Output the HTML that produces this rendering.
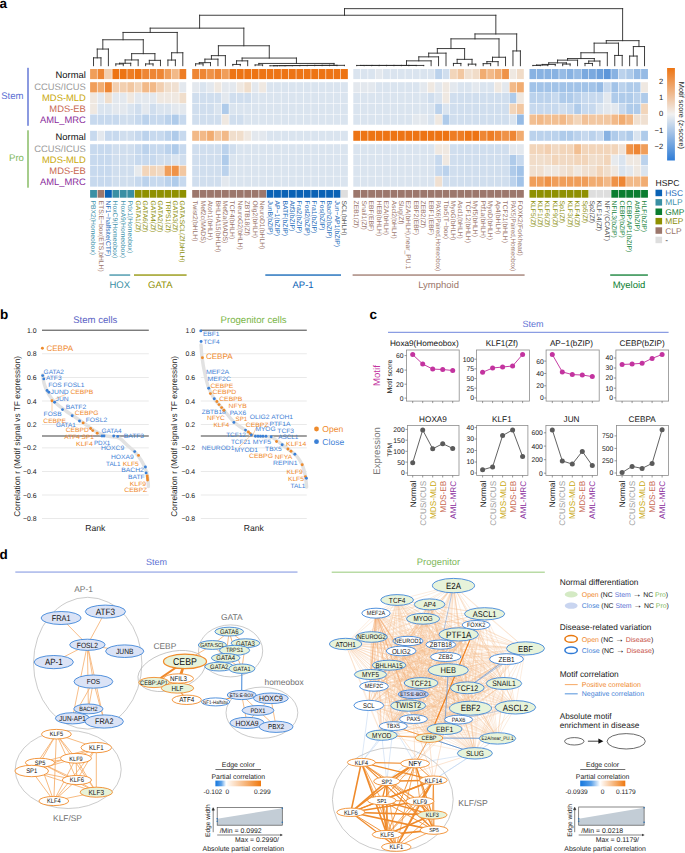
<!DOCTYPE html>
<html><head><meta charset="utf-8"><style>
html,body{margin:0;padding:0;background:#fff;}
svg{display:block;}
text{font-family:"Liberation Sans", sans-serif;text-rendering:geometricPrecision;}
</style></head><body>
<svg width="685" height="853" viewBox="0 0 685 853" font-family="Liberation Sans, sans-serif">
<rect width="685" height="853" fill="#fff"/>
<text x="-0.5" y="7.7" font-size="13.5" font-weight="bold">a</text>
<rect x="90.10" y="69.00" width="6.84" height="10.10" fill="#f09e5a"/>
<rect x="97.54" y="69.00" width="6.84" height="10.10" fill="#ee8634"/>
<rect x="104.98" y="69.00" width="6.84" height="10.10" fill="#f2cfb0"/>
<rect x="112.42" y="69.00" width="6.84" height="10.10" fill="#ed7414"/>
<rect x="119.86" y="69.00" width="6.84" height="10.10" fill="#ed7414"/>
<rect x="127.30" y="69.00" width="6.84" height="10.10" fill="#ee7d24"/>
<rect x="134.74" y="69.00" width="6.84" height="10.10" fill="#ed7414"/>
<rect x="142.18" y="69.00" width="6.84" height="10.10" fill="#ee8634"/>
<rect x="149.62" y="69.00" width="6.84" height="10.10" fill="#ee8634"/>
<rect x="157.06" y="69.00" width="6.84" height="10.10" fill="#ee8634"/>
<rect x="164.50" y="69.00" width="6.84" height="10.10" fill="#f09e5a"/>
<rect x="171.94" y="69.00" width="6.84" height="10.10" fill="#f2b988"/>
<rect x="179.38" y="69.00" width="6.84" height="10.10" fill="#ee7d24"/>
<rect x="90.10" y="82.20" width="6.84" height="10.26" fill="#f09e5a"/>
<rect x="97.54" y="82.20" width="6.84" height="10.26" fill="#f1ac71"/>
<rect x="104.98" y="82.20" width="6.84" height="10.26" fill="#ee8634"/>
<rect x="112.42" y="82.20" width="6.84" height="10.26" fill="#f2cfb0"/>
<rect x="119.86" y="82.20" width="6.84" height="10.26" fill="#f2cfb0"/>
<rect x="127.30" y="82.20" width="6.84" height="10.26" fill="#f2c7a1"/>
<rect x="134.74" y="82.20" width="6.84" height="10.26" fill="#f2d5ba"/>
<rect x="142.18" y="82.20" width="6.84" height="10.26" fill="#f2b988"/>
<rect x="149.62" y="82.20" width="6.84" height="10.26" fill="#f2b988"/>
<rect x="157.06" y="82.20" width="6.84" height="10.26" fill="#f2cfb0"/>
<rect x="164.50" y="82.20" width="6.84" height="10.26" fill="#f0decc"/>
<rect x="171.94" y="82.20" width="6.84" height="10.26" fill="#f0e0d1"/>
<rect x="179.38" y="82.20" width="6.84" height="10.26" fill="#e3e8ee"/>
<rect x="90.10" y="92.96" width="6.84" height="10.26" fill="#efe8e1"/>
<rect x="97.54" y="92.96" width="6.84" height="10.26" fill="#e3e8ee"/>
<rect x="104.98" y="92.96" width="6.84" height="10.26" fill="#f0decc"/>
<rect x="112.42" y="92.96" width="6.84" height="10.26" fill="#e3e8ee"/>
<rect x="119.86" y="92.96" width="6.84" height="10.26" fill="#e3e8ee"/>
<rect x="127.30" y="92.96" width="6.84" height="10.26" fill="#efe8e1"/>
<rect x="134.74" y="92.96" width="6.84" height="10.26" fill="#e3e8ee"/>
<rect x="142.18" y="92.96" width="6.84" height="10.26" fill="#e3e8ee"/>
<rect x="149.62" y="92.96" width="6.84" height="10.26" fill="#e3e8ee"/>
<rect x="157.06" y="92.96" width="6.84" height="10.26" fill="#efe8e1"/>
<rect x="164.50" y="92.96" width="6.84" height="10.26" fill="#efe8e1"/>
<rect x="171.94" y="92.96" width="6.84" height="10.26" fill="#efe8e1"/>
<rect x="179.38" y="92.96" width="6.84" height="10.26" fill="#f0decc"/>
<rect x="90.10" y="103.72" width="6.84" height="10.26" fill="#efe8e1"/>
<rect x="97.54" y="103.72" width="6.84" height="10.26" fill="#dae4ef"/>
<rect x="104.98" y="103.72" width="6.84" height="10.26" fill="#dae4ef"/>
<rect x="112.42" y="103.72" width="6.84" height="10.26" fill="#e3e8ee"/>
<rect x="119.86" y="103.72" width="6.84" height="10.26" fill="#e3e8ee"/>
<rect x="127.30" y="103.72" width="6.84" height="10.26" fill="#dae4ef"/>
<rect x="134.74" y="103.72" width="6.84" height="10.26" fill="#d0deee"/>
<rect x="142.18" y="103.72" width="6.84" height="10.26" fill="#e3e8ee"/>
<rect x="149.62" y="103.72" width="6.84" height="10.26" fill="#d0deee"/>
<rect x="157.06" y="103.72" width="6.84" height="10.26" fill="#dae4ef"/>
<rect x="164.50" y="103.72" width="6.84" height="10.26" fill="#dae4ef"/>
<rect x="171.94" y="103.72" width="6.84" height="10.26" fill="#e3e8ee"/>
<rect x="179.38" y="103.72" width="6.84" height="10.26" fill="#e3e8ee"/>
<rect x="90.10" y="114.48" width="6.84" height="10.26" fill="#c7d9ee"/>
<rect x="97.54" y="114.48" width="6.84" height="10.26" fill="#c7d9ee"/>
<rect x="104.98" y="114.48" width="6.84" height="10.26" fill="#c7d9ee"/>
<rect x="112.42" y="114.48" width="6.84" height="10.26" fill="#c7d9ee"/>
<rect x="119.86" y="114.48" width="6.84" height="10.26" fill="#d0deee"/>
<rect x="127.30" y="114.48" width="6.84" height="10.26" fill="#d0deee"/>
<rect x="134.74" y="114.48" width="6.84" height="10.26" fill="#c7d9ee"/>
<rect x="142.18" y="114.48" width="6.84" height="10.26" fill="#bbd2ec"/>
<rect x="149.62" y="114.48" width="6.84" height="10.26" fill="#c7d9ee"/>
<rect x="157.06" y="114.48" width="6.84" height="10.26" fill="#c7d9ee"/>
<rect x="164.50" y="114.48" width="6.84" height="10.26" fill="#bbd2ec"/>
<rect x="171.94" y="114.48" width="6.84" height="10.26" fill="#afcbea"/>
<rect x="179.38" y="114.48" width="6.84" height="10.26" fill="#c7d9ee"/>
<rect x="90.10" y="130.80" width="6.84" height="10.00" fill="#c7d9ee"/>
<rect x="97.54" y="130.80" width="6.84" height="10.00" fill="#e3e8ee"/>
<rect x="104.98" y="130.80" width="6.84" height="10.00" fill="#c7d9ee"/>
<rect x="112.42" y="130.80" width="6.84" height="10.00" fill="#c7d9ee"/>
<rect x="119.86" y="130.80" width="6.84" height="10.00" fill="#d0deee"/>
<rect x="127.30" y="130.80" width="6.84" height="10.00" fill="#d0deee"/>
<rect x="134.74" y="130.80" width="6.84" height="10.00" fill="#c7d9ee"/>
<rect x="142.18" y="130.80" width="6.84" height="10.00" fill="#bbd2ec"/>
<rect x="149.62" y="130.80" width="6.84" height="10.00" fill="#c7d9ee"/>
<rect x="157.06" y="130.80" width="6.84" height="10.00" fill="#c7d9ee"/>
<rect x="164.50" y="130.80" width="6.84" height="10.00" fill="#bbd2ec"/>
<rect x="171.94" y="130.80" width="6.84" height="10.00" fill="#afcbea"/>
<rect x="179.38" y="130.80" width="6.84" height="10.00" fill="#c7d9ee"/>
<rect x="90.10" y="144.20" width="6.84" height="10.24" fill="#c7d9ee"/>
<rect x="97.54" y="144.20" width="6.84" height="10.24" fill="#c7d9ee"/>
<rect x="104.98" y="144.20" width="6.84" height="10.24" fill="#c7d9ee"/>
<rect x="112.42" y="144.20" width="6.84" height="10.24" fill="#d0deee"/>
<rect x="119.86" y="144.20" width="6.84" height="10.24" fill="#d0deee"/>
<rect x="127.30" y="144.20" width="6.84" height="10.24" fill="#d0deee"/>
<rect x="134.74" y="144.20" width="6.84" height="10.24" fill="#c7d9ee"/>
<rect x="142.18" y="144.20" width="6.84" height="10.24" fill="#bbd2ec"/>
<rect x="149.62" y="144.20" width="6.84" height="10.24" fill="#c7d9ee"/>
<rect x="157.06" y="144.20" width="6.84" height="10.24" fill="#c7d9ee"/>
<rect x="164.50" y="144.20" width="6.84" height="10.24" fill="#bbd2ec"/>
<rect x="171.94" y="144.20" width="6.84" height="10.24" fill="#afcbea"/>
<rect x="179.38" y="144.20" width="6.84" height="10.24" fill="#c7d9ee"/>
<rect x="90.10" y="154.94" width="6.84" height="10.24" fill="#c7d9ee"/>
<rect x="97.54" y="154.94" width="6.84" height="10.24" fill="#c7d9ee"/>
<rect x="104.98" y="154.94" width="6.84" height="10.24" fill="#c7d9ee"/>
<rect x="112.42" y="154.94" width="6.84" height="10.24" fill="#d0deee"/>
<rect x="119.86" y="154.94" width="6.84" height="10.24" fill="#d0deee"/>
<rect x="127.30" y="154.94" width="6.84" height="10.24" fill="#d0deee"/>
<rect x="134.74" y="154.94" width="6.84" height="10.24" fill="#c7d9ee"/>
<rect x="142.18" y="154.94" width="6.84" height="10.24" fill="#c7d9ee"/>
<rect x="149.62" y="154.94" width="6.84" height="10.24" fill="#c7d9ee"/>
<rect x="157.06" y="154.94" width="6.84" height="10.24" fill="#d0deee"/>
<rect x="164.50" y="154.94" width="6.84" height="10.24" fill="#d0deee"/>
<rect x="171.94" y="154.94" width="6.84" height="10.24" fill="#dae4ef"/>
<rect x="179.38" y="154.94" width="6.84" height="10.24" fill="#d0deee"/>
<rect x="90.10" y="165.68" width="6.84" height="10.24" fill="#c7d9ee"/>
<rect x="97.54" y="165.68" width="6.84" height="10.24" fill="#c7d9ee"/>
<rect x="104.98" y="165.68" width="6.84" height="10.24" fill="#c7d9ee"/>
<rect x="112.42" y="165.68" width="6.84" height="10.24" fill="#d0deee"/>
<rect x="119.86" y="165.68" width="6.84" height="10.24" fill="#d0deee"/>
<rect x="127.30" y="165.68" width="6.84" height="10.24" fill="#d0deee"/>
<rect x="134.74" y="165.68" width="6.84" height="10.24" fill="#e7eaed"/>
<rect x="142.18" y="165.68" width="6.84" height="10.24" fill="#f2d5ba"/>
<rect x="149.62" y="165.68" width="6.84" height="10.24" fill="#f2d5ba"/>
<rect x="157.06" y="165.68" width="6.84" height="10.24" fill="#f1d9c3"/>
<rect x="164.50" y="165.68" width="6.84" height="10.24" fill="#f09e5a"/>
<rect x="171.94" y="165.68" width="6.84" height="10.24" fill="#ef9247"/>
<rect x="179.38" y="165.68" width="6.84" height="10.24" fill="#f2c7a1"/>
<rect x="90.10" y="176.42" width="6.84" height="10.24" fill="#c7d9ee"/>
<rect x="97.54" y="176.42" width="6.84" height="10.24" fill="#c7d9ee"/>
<rect x="104.98" y="176.42" width="6.84" height="10.24" fill="#c7d9ee"/>
<rect x="112.42" y="176.42" width="6.84" height="10.24" fill="#d0deee"/>
<rect x="119.86" y="176.42" width="6.84" height="10.24" fill="#d0deee"/>
<rect x="127.30" y="176.42" width="6.84" height="10.24" fill="#d0deee"/>
<rect x="134.74" y="176.42" width="6.84" height="10.24" fill="#c7d9ee"/>
<rect x="142.18" y="176.42" width="6.84" height="10.24" fill="#bbd2ec"/>
<rect x="149.62" y="176.42" width="6.84" height="10.24" fill="#c7d9ee"/>
<rect x="157.06" y="176.42" width="6.84" height="10.24" fill="#c7d9ee"/>
<rect x="164.50" y="176.42" width="6.84" height="10.24" fill="#bbd2ec"/>
<rect x="171.94" y="176.42" width="6.84" height="10.24" fill="#afcbea"/>
<rect x="179.38" y="176.42" width="6.84" height="10.24" fill="#c7d9ee"/>
<rect x="90.10" y="190" width="6.84" height="7.7" fill="#3a8fa4"/>
<text transform="translate(91.12,200.6) rotate(90)" font-size="6.75" fill="#3f93ab">PBX2(Homeobox)</text>
<rect x="97.54" y="190" width="6.84" height="7.7" fill="#9c776c"/>
<text transform="translate(98.56,200.6) rotate(90)" font-size="6.75" fill="#9a7469">ETS:E−box(ETS,bHLH)</text>
<rect x="104.98" y="190" width="6.84" height="7.7" fill="#0a62b5"/>
<text transform="translate(106.00,200.6) rotate(90)" font-size="6.75" fill="#1a68b8">NF1−halfsite(CTF)</text>
<rect x="112.42" y="190" width="6.84" height="7.7" fill="#3a8fa4"/>
<text transform="translate(113.44,200.6) rotate(90)" font-size="6.75" fill="#3f93ab">HoxC9(Homeobox)</text>
<rect x="119.86" y="190" width="6.84" height="7.7" fill="#3a8fa4"/>
<text transform="translate(120.88,200.6) rotate(90)" font-size="6.75" fill="#3f93ab">HoxA9(Homeobox)</text>
<rect x="127.30" y="190" width="6.84" height="7.7" fill="#3a8fa4"/>
<text transform="translate(128.32,200.6) rotate(90)" font-size="6.75" fill="#3f93ab">Pdx1(Homeobox)</text>
<rect x="134.74" y="190" width="6.84" height="7.7" fill="#8f9000"/>
<text transform="translate(135.76,200.6) rotate(90)" font-size="6.75" fill="#8c8e0a">GATA1(Zf)</text>
<rect x="142.18" y="190" width="6.84" height="7.7" fill="#8f9000"/>
<text transform="translate(143.20,200.6) rotate(90)" font-size="6.75" fill="#8c8e0a">GATA6(Zf)</text>
<rect x="149.62" y="190" width="6.84" height="7.7" fill="#8f9000"/>
<text transform="translate(150.64,200.6) rotate(90)" font-size="6.75" fill="#8c8e0a">GATA4(Zf)</text>
<rect x="157.06" y="190" width="6.84" height="7.7" fill="#8f9000"/>
<text transform="translate(158.08,200.6) rotate(90)" font-size="6.75" fill="#8c8e0a">GATA2(Zf)</text>
<rect x="164.50" y="190" width="6.84" height="7.7" fill="#8f9000"/>
<text transform="translate(165.52,200.6) rotate(90)" font-size="6.75" fill="#8c8e0a">TRPS1(Zf)</text>
<rect x="171.94" y="190" width="6.84" height="7.7" fill="#8f9000"/>
<text transform="translate(172.96,200.6) rotate(90)" font-size="6.75" fill="#8c8e0a">GATA3(Zf)</text>
<rect x="179.38" y="190" width="6.84" height="7.7" fill="#8f9000"/>
<text transform="translate(180.40,200.6) rotate(90)" font-size="6.75" fill="#8c8e0a">GATA:SCL(Zf,bHLH)</text>
<rect x="192.20" y="69.00" width="6.84" height="10.10" fill="#ee8634"/>
<rect x="199.64" y="69.00" width="6.84" height="10.10" fill="#ee8634"/>
<rect x="207.08" y="69.00" width="6.84" height="10.10" fill="#ef9247"/>
<rect x="214.52" y="69.00" width="6.84" height="10.10" fill="#ee8634"/>
<rect x="221.96" y="69.00" width="6.84" height="10.10" fill="#f09e5a"/>
<rect x="229.40" y="69.00" width="6.84" height="10.10" fill="#ed7414"/>
<rect x="236.84" y="69.00" width="6.84" height="10.10" fill="#ed7414"/>
<rect x="244.28" y="69.00" width="6.84" height="10.10" fill="#ed7414"/>
<rect x="251.72" y="69.00" width="6.84" height="10.10" fill="#ed7414"/>
<rect x="259.16" y="69.00" width="6.84" height="10.10" fill="#ed7414"/>
<rect x="266.60" y="69.00" width="6.84" height="10.10" fill="#ed7414"/>
<rect x="274.04" y="69.00" width="6.84" height="10.10" fill="#ed7414"/>
<rect x="281.48" y="69.00" width="6.84" height="10.10" fill="#ed7414"/>
<rect x="288.92" y="69.00" width="6.84" height="10.10" fill="#ed7414"/>
<rect x="296.36" y="69.00" width="6.84" height="10.10" fill="#ed7414"/>
<rect x="303.80" y="69.00" width="6.84" height="10.10" fill="#ed7414"/>
<rect x="311.24" y="69.00" width="6.84" height="10.10" fill="#ed7414"/>
<rect x="318.68" y="69.00" width="6.84" height="10.10" fill="#ed7414"/>
<rect x="326.12" y="69.00" width="6.84" height="10.10" fill="#ed7414"/>
<rect x="333.56" y="69.00" width="6.84" height="10.10" fill="#ed7414"/>
<rect x="341.00" y="69.00" width="6.84" height="10.10" fill="#ed7414"/>
<rect x="192.20" y="82.20" width="6.84" height="10.26" fill="#e3e8ee"/>
<rect x="199.64" y="82.20" width="6.84" height="10.26" fill="#dae4ef"/>
<rect x="207.08" y="82.20" width="6.84" height="10.26" fill="#e3e8ee"/>
<rect x="214.52" y="82.20" width="6.84" height="10.26" fill="#efe8e1"/>
<rect x="221.96" y="82.20" width="6.84" height="10.26" fill="#e3e8ee"/>
<rect x="229.40" y="82.20" width="6.84" height="10.26" fill="#e3e8ee"/>
<rect x="236.84" y="82.20" width="6.84" height="10.26" fill="#efe8e1"/>
<rect x="244.28" y="82.20" width="6.84" height="10.26" fill="#f0decc"/>
<rect x="251.72" y="82.20" width="6.84" height="10.26" fill="#e3e8ee"/>
<rect x="259.16" y="82.20" width="6.84" height="10.26" fill="#efe8e1"/>
<rect x="266.60" y="82.20" width="6.84" height="10.26" fill="#dae4ef"/>
<rect x="274.04" y="82.20" width="6.84" height="10.26" fill="#dae4ef"/>
<rect x="281.48" y="82.20" width="6.84" height="10.26" fill="#dae4ef"/>
<rect x="288.92" y="82.20" width="6.84" height="10.26" fill="#dae4ef"/>
<rect x="296.36" y="82.20" width="6.84" height="10.26" fill="#dae4ef"/>
<rect x="303.80" y="82.20" width="6.84" height="10.26" fill="#dae4ef"/>
<rect x="311.24" y="82.20" width="6.84" height="10.26" fill="#dae4ef"/>
<rect x="318.68" y="82.20" width="6.84" height="10.26" fill="#dae4ef"/>
<rect x="326.12" y="82.20" width="6.84" height="10.26" fill="#dae4ef"/>
<rect x="333.56" y="82.20" width="6.84" height="10.26" fill="#dae4ef"/>
<rect x="341.00" y="82.20" width="6.84" height="10.26" fill="#dae4ef"/>
<rect x="192.20" y="92.96" width="6.84" height="10.26" fill="#d0deee"/>
<rect x="199.64" y="92.96" width="6.84" height="10.26" fill="#d0deee"/>
<rect x="207.08" y="92.96" width="6.84" height="10.26" fill="#d0deee"/>
<rect x="214.52" y="92.96" width="6.84" height="10.26" fill="#d0deee"/>
<rect x="221.96" y="92.96" width="6.84" height="10.26" fill="#e3e8ee"/>
<rect x="229.40" y="92.96" width="6.84" height="10.26" fill="#d0deee"/>
<rect x="236.84" y="92.96" width="6.84" height="10.26" fill="#d0deee"/>
<rect x="244.28" y="92.96" width="6.84" height="10.26" fill="#d0deee"/>
<rect x="251.72" y="92.96" width="6.84" height="10.26" fill="#dae4ef"/>
<rect x="259.16" y="92.96" width="6.84" height="10.26" fill="#dae4ef"/>
<rect x="266.60" y="92.96" width="6.84" height="10.26" fill="#dae4ef"/>
<rect x="274.04" y="92.96" width="6.84" height="10.26" fill="#dae4ef"/>
<rect x="281.48" y="92.96" width="6.84" height="10.26" fill="#dae4ef"/>
<rect x="288.92" y="92.96" width="6.84" height="10.26" fill="#dae4ef"/>
<rect x="296.36" y="92.96" width="6.84" height="10.26" fill="#dae4ef"/>
<rect x="303.80" y="92.96" width="6.84" height="10.26" fill="#dae4ef"/>
<rect x="311.24" y="92.96" width="6.84" height="10.26" fill="#dae4ef"/>
<rect x="318.68" y="92.96" width="6.84" height="10.26" fill="#dae4ef"/>
<rect x="326.12" y="92.96" width="6.84" height="10.26" fill="#dae4ef"/>
<rect x="333.56" y="92.96" width="6.84" height="10.26" fill="#dae4ef"/>
<rect x="341.00" y="92.96" width="6.84" height="10.26" fill="#dae4ef"/>
<rect x="192.20" y="103.72" width="6.84" height="10.26" fill="#d0deee"/>
<rect x="199.64" y="103.72" width="6.84" height="10.26" fill="#d0deee"/>
<rect x="207.08" y="103.72" width="6.84" height="10.26" fill="#d0deee"/>
<rect x="214.52" y="103.72" width="6.84" height="10.26" fill="#dae4ef"/>
<rect x="221.96" y="103.72" width="6.84" height="10.26" fill="#afcbea"/>
<rect x="229.40" y="103.72" width="6.84" height="10.26" fill="#dae4ef"/>
<rect x="236.84" y="103.72" width="6.84" height="10.26" fill="#dae4ef"/>
<rect x="244.28" y="103.72" width="6.84" height="10.26" fill="#dae4ef"/>
<rect x="251.72" y="103.72" width="6.84" height="10.26" fill="#dae4ef"/>
<rect x="259.16" y="103.72" width="6.84" height="10.26" fill="#dae4ef"/>
<rect x="266.60" y="103.72" width="6.84" height="10.26" fill="#dae4ef"/>
<rect x="274.04" y="103.72" width="6.84" height="10.26" fill="#dae4ef"/>
<rect x="281.48" y="103.72" width="6.84" height="10.26" fill="#dae4ef"/>
<rect x="288.92" y="103.72" width="6.84" height="10.26" fill="#dae4ef"/>
<rect x="296.36" y="103.72" width="6.84" height="10.26" fill="#dae4ef"/>
<rect x="303.80" y="103.72" width="6.84" height="10.26" fill="#dae4ef"/>
<rect x="311.24" y="103.72" width="6.84" height="10.26" fill="#dae4ef"/>
<rect x="318.68" y="103.72" width="6.84" height="10.26" fill="#dae4ef"/>
<rect x="326.12" y="103.72" width="6.84" height="10.26" fill="#dae4ef"/>
<rect x="333.56" y="103.72" width="6.84" height="10.26" fill="#dae4ef"/>
<rect x="341.00" y="103.72" width="6.84" height="10.26" fill="#dae4ef"/>
<rect x="192.20" y="114.48" width="6.84" height="10.26" fill="#d0deee"/>
<rect x="199.64" y="114.48" width="6.84" height="10.26" fill="#d0deee"/>
<rect x="207.08" y="114.48" width="6.84" height="10.26" fill="#d0deee"/>
<rect x="214.52" y="114.48" width="6.84" height="10.26" fill="#d0deee"/>
<rect x="221.96" y="114.48" width="6.84" height="10.26" fill="#efe8e1"/>
<rect x="229.40" y="114.48" width="6.84" height="10.26" fill="#d0deee"/>
<rect x="236.84" y="114.48" width="6.84" height="10.26" fill="#d0deee"/>
<rect x="244.28" y="114.48" width="6.84" height="10.26" fill="#dae4ef"/>
<rect x="251.72" y="114.48" width="6.84" height="10.26" fill="#dae4ef"/>
<rect x="259.16" y="114.48" width="6.84" height="10.26" fill="#dae4ef"/>
<rect x="266.60" y="114.48" width="6.84" height="10.26" fill="#dae4ef"/>
<rect x="274.04" y="114.48" width="6.84" height="10.26" fill="#dae4ef"/>
<rect x="281.48" y="114.48" width="6.84" height="10.26" fill="#dae4ef"/>
<rect x="288.92" y="114.48" width="6.84" height="10.26" fill="#dae4ef"/>
<rect x="296.36" y="114.48" width="6.84" height="10.26" fill="#dae4ef"/>
<rect x="303.80" y="114.48" width="6.84" height="10.26" fill="#dae4ef"/>
<rect x="311.24" y="114.48" width="6.84" height="10.26" fill="#dae4ef"/>
<rect x="318.68" y="114.48" width="6.84" height="10.26" fill="#dae4ef"/>
<rect x="326.12" y="114.48" width="6.84" height="10.26" fill="#dae4ef"/>
<rect x="333.56" y="114.48" width="6.84" height="10.26" fill="#dae4ef"/>
<rect x="341.00" y="114.48" width="6.84" height="10.26" fill="#dae4ef"/>
<rect x="192.20" y="130.80" width="6.84" height="10.00" fill="#f2b988"/>
<rect x="199.64" y="130.80" width="6.84" height="10.00" fill="#f2b988"/>
<rect x="207.08" y="130.80" width="6.84" height="10.00" fill="#f1ac71"/>
<rect x="214.52" y="130.80" width="6.84" height="10.00" fill="#f2c7a1"/>
<rect x="221.96" y="130.80" width="6.84" height="10.00" fill="#f2b988"/>
<rect x="229.40" y="130.80" width="6.84" height="10.00" fill="#f0decc"/>
<rect x="236.84" y="130.80" width="6.84" height="10.00" fill="#f0decc"/>
<rect x="244.28" y="130.80" width="6.84" height="10.00" fill="#efe8e1"/>
<rect x="251.72" y="130.80" width="6.84" height="10.00" fill="#e3e8ee"/>
<rect x="259.16" y="130.80" width="6.84" height="10.00" fill="#e3e8ee"/>
<rect x="266.60" y="130.80" width="6.84" height="10.00" fill="#dae4ef"/>
<rect x="274.04" y="130.80" width="6.84" height="10.00" fill="#dae4ef"/>
<rect x="281.48" y="130.80" width="6.84" height="10.00" fill="#dae4ef"/>
<rect x="288.92" y="130.80" width="6.84" height="10.00" fill="#dae4ef"/>
<rect x="296.36" y="130.80" width="6.84" height="10.00" fill="#dae4ef"/>
<rect x="303.80" y="130.80" width="6.84" height="10.00" fill="#dae4ef"/>
<rect x="311.24" y="130.80" width="6.84" height="10.00" fill="#dae4ef"/>
<rect x="318.68" y="130.80" width="6.84" height="10.00" fill="#dae4ef"/>
<rect x="326.12" y="130.80" width="6.84" height="10.00" fill="#dae4ef"/>
<rect x="333.56" y="130.80" width="6.84" height="10.00" fill="#dae4ef"/>
<rect x="341.00" y="130.80" width="6.84" height="10.00" fill="#dae4ef"/>
<rect x="192.20" y="144.20" width="6.84" height="10.24" fill="#d0deee"/>
<rect x="199.64" y="144.20" width="6.84" height="10.24" fill="#d0deee"/>
<rect x="207.08" y="144.20" width="6.84" height="10.24" fill="#d0deee"/>
<rect x="214.52" y="144.20" width="6.84" height="10.24" fill="#d0deee"/>
<rect x="221.96" y="144.20" width="6.84" height="10.24" fill="#bbd2ec"/>
<rect x="229.40" y="144.20" width="6.84" height="10.24" fill="#d0deee"/>
<rect x="236.84" y="144.20" width="6.84" height="10.24" fill="#dae4ef"/>
<rect x="244.28" y="144.20" width="6.84" height="10.24" fill="#dae4ef"/>
<rect x="251.72" y="144.20" width="6.84" height="10.24" fill="#dae4ef"/>
<rect x="259.16" y="144.20" width="6.84" height="10.24" fill="#dae4ef"/>
<rect x="266.60" y="144.20" width="6.84" height="10.24" fill="#dae4ef"/>
<rect x="274.04" y="144.20" width="6.84" height="10.24" fill="#dae4ef"/>
<rect x="281.48" y="144.20" width="6.84" height="10.24" fill="#dae4ef"/>
<rect x="288.92" y="144.20" width="6.84" height="10.24" fill="#dae4ef"/>
<rect x="296.36" y="144.20" width="6.84" height="10.24" fill="#dae4ef"/>
<rect x="303.80" y="144.20" width="6.84" height="10.24" fill="#dae4ef"/>
<rect x="311.24" y="144.20" width="6.84" height="10.24" fill="#dae4ef"/>
<rect x="318.68" y="144.20" width="6.84" height="10.24" fill="#dae4ef"/>
<rect x="326.12" y="144.20" width="6.84" height="10.24" fill="#dae4ef"/>
<rect x="333.56" y="144.20" width="6.84" height="10.24" fill="#dae4ef"/>
<rect x="341.00" y="144.20" width="6.84" height="10.24" fill="#dae4ef"/>
<rect x="192.20" y="154.94" width="6.84" height="10.24" fill="#d0deee"/>
<rect x="199.64" y="154.94" width="6.84" height="10.24" fill="#d0deee"/>
<rect x="207.08" y="154.94" width="6.84" height="10.24" fill="#d0deee"/>
<rect x="214.52" y="154.94" width="6.84" height="10.24" fill="#d0deee"/>
<rect x="221.96" y="154.94" width="6.84" height="10.24" fill="#afcbea"/>
<rect x="229.40" y="154.94" width="6.84" height="10.24" fill="#dae4ef"/>
<rect x="236.84" y="154.94" width="6.84" height="10.24" fill="#dae4ef"/>
<rect x="244.28" y="154.94" width="6.84" height="10.24" fill="#dae4ef"/>
<rect x="251.72" y="154.94" width="6.84" height="10.24" fill="#dae4ef"/>
<rect x="259.16" y="154.94" width="6.84" height="10.24" fill="#dae4ef"/>
<rect x="266.60" y="154.94" width="6.84" height="10.24" fill="#dae4ef"/>
<rect x="274.04" y="154.94" width="6.84" height="10.24" fill="#dae4ef"/>
<rect x="281.48" y="154.94" width="6.84" height="10.24" fill="#dae4ef"/>
<rect x="288.92" y="154.94" width="6.84" height="10.24" fill="#dae4ef"/>
<rect x="296.36" y="154.94" width="6.84" height="10.24" fill="#dae4ef"/>
<rect x="303.80" y="154.94" width="6.84" height="10.24" fill="#dae4ef"/>
<rect x="311.24" y="154.94" width="6.84" height="10.24" fill="#dae4ef"/>
<rect x="318.68" y="154.94" width="6.84" height="10.24" fill="#dae4ef"/>
<rect x="326.12" y="154.94" width="6.84" height="10.24" fill="#dae4ef"/>
<rect x="333.56" y="154.94" width="6.84" height="10.24" fill="#dae4ef"/>
<rect x="341.00" y="154.94" width="6.84" height="10.24" fill="#dae4ef"/>
<rect x="192.20" y="165.68" width="6.84" height="10.24" fill="#d0deee"/>
<rect x="199.64" y="165.68" width="6.84" height="10.24" fill="#d0deee"/>
<rect x="207.08" y="165.68" width="6.84" height="10.24" fill="#d0deee"/>
<rect x="214.52" y="165.68" width="6.84" height="10.24" fill="#d0deee"/>
<rect x="221.96" y="165.68" width="6.84" height="10.24" fill="#bbd2ec"/>
<rect x="229.40" y="165.68" width="6.84" height="10.24" fill="#dae4ef"/>
<rect x="236.84" y="165.68" width="6.84" height="10.24" fill="#dae4ef"/>
<rect x="244.28" y="165.68" width="6.84" height="10.24" fill="#dae4ef"/>
<rect x="251.72" y="165.68" width="6.84" height="10.24" fill="#dae4ef"/>
<rect x="259.16" y="165.68" width="6.84" height="10.24" fill="#dae4ef"/>
<rect x="266.60" y="165.68" width="6.84" height="10.24" fill="#dae4ef"/>
<rect x="274.04" y="165.68" width="6.84" height="10.24" fill="#dae4ef"/>
<rect x="281.48" y="165.68" width="6.84" height="10.24" fill="#dae4ef"/>
<rect x="288.92" y="165.68" width="6.84" height="10.24" fill="#dae4ef"/>
<rect x="296.36" y="165.68" width="6.84" height="10.24" fill="#dae4ef"/>
<rect x="303.80" y="165.68" width="6.84" height="10.24" fill="#dae4ef"/>
<rect x="311.24" y="165.68" width="6.84" height="10.24" fill="#dae4ef"/>
<rect x="318.68" y="165.68" width="6.84" height="10.24" fill="#dae4ef"/>
<rect x="326.12" y="165.68" width="6.84" height="10.24" fill="#dae4ef"/>
<rect x="333.56" y="165.68" width="6.84" height="10.24" fill="#dae4ef"/>
<rect x="341.00" y="165.68" width="6.84" height="10.24" fill="#dae4ef"/>
<rect x="192.20" y="176.42" width="6.84" height="10.24" fill="#d0deee"/>
<rect x="199.64" y="176.42" width="6.84" height="10.24" fill="#d0deee"/>
<rect x="207.08" y="176.42" width="6.84" height="10.24" fill="#d0deee"/>
<rect x="214.52" y="176.42" width="6.84" height="10.24" fill="#d0deee"/>
<rect x="221.96" y="176.42" width="6.84" height="10.24" fill="#e3e8ee"/>
<rect x="229.40" y="176.42" width="6.84" height="10.24" fill="#dae4ef"/>
<rect x="236.84" y="176.42" width="6.84" height="10.24" fill="#dae4ef"/>
<rect x="244.28" y="176.42" width="6.84" height="10.24" fill="#dae4ef"/>
<rect x="251.72" y="176.42" width="6.84" height="10.24" fill="#dae4ef"/>
<rect x="259.16" y="176.42" width="6.84" height="10.24" fill="#dae4ef"/>
<rect x="266.60" y="176.42" width="6.84" height="10.24" fill="#dae4ef"/>
<rect x="274.04" y="176.42" width="6.84" height="10.24" fill="#dae4ef"/>
<rect x="281.48" y="176.42" width="6.84" height="10.24" fill="#dae4ef"/>
<rect x="288.92" y="176.42" width="6.84" height="10.24" fill="#dae4ef"/>
<rect x="296.36" y="176.42" width="6.84" height="10.24" fill="#dae4ef"/>
<rect x="303.80" y="176.42" width="6.84" height="10.24" fill="#dae4ef"/>
<rect x="311.24" y="176.42" width="6.84" height="10.24" fill="#dae4ef"/>
<rect x="318.68" y="176.42" width="6.84" height="10.24" fill="#dae4ef"/>
<rect x="326.12" y="176.42" width="6.84" height="10.24" fill="#dae4ef"/>
<rect x="333.56" y="176.42" width="6.84" height="10.24" fill="#dae4ef"/>
<rect x="341.00" y="176.42" width="6.84" height="10.24" fill="#dae4ef"/>
<rect x="192.20" y="190" width="6.84" height="7.7" fill="#9c776c"/>
<text transform="translate(193.22,200.6) rotate(90)" font-size="6.75" fill="#9a7469">Twist2(bHLH)</text>
<rect x="199.64" y="190" width="6.84" height="7.7" fill="#9c776c"/>
<text transform="translate(200.66,200.6) rotate(90)" font-size="6.75" fill="#9a7469">Mef2c(MADS)</text>
<rect x="207.08" y="190" width="6.84" height="7.7" fill="#9c776c"/>
<text transform="translate(208.10,200.6) rotate(90)" font-size="6.75" fill="#9a7469">Atoh1(bHLH)</text>
<rect x="214.52" y="190" width="6.84" height="7.7" fill="#9c776c"/>
<text transform="translate(215.54,200.6) rotate(90)" font-size="6.75" fill="#9a7469">BHLHA15(bHLH)</text>
<rect x="221.96" y="190" width="6.84" height="7.7" fill="#9c776c"/>
<text transform="translate(222.98,200.6) rotate(90)" font-size="6.75" fill="#9a7469">Mef2a(MADS)</text>
<rect x="229.40" y="190" width="6.84" height="7.7" fill="#9c776c"/>
<text transform="translate(230.42,200.6) rotate(90)" font-size="6.75" fill="#9a7469">TCF4(bHLH)</text>
<rect x="236.84" y="190" width="6.84" height="7.7" fill="#9c776c"/>
<text transform="translate(237.86,200.6) rotate(90)" font-size="6.75" fill="#9a7469">NeuroG2(bHLH)</text>
<rect x="244.28" y="190" width="6.84" height="7.7" fill="#9c776c"/>
<text transform="translate(245.30,200.6) rotate(90)" font-size="6.75" fill="#9a7469">ZBTB18(Zf)</text>
<rect x="251.72" y="190" width="6.84" height="7.7" fill="#9c776c"/>
<text transform="translate(252.74,200.6) rotate(90)" font-size="6.75" fill="#9a7469">Olig2(bHLH)</text>
<rect x="259.16" y="190" width="6.84" height="7.7" fill="#9c776c"/>
<text transform="translate(260.18,200.6) rotate(90)" font-size="6.75" fill="#9a7469">NeuroD1(bHLH)</text>
<rect x="266.60" y="190" width="6.84" height="7.7" fill="#0a62b5"/>
<text transform="translate(267.62,200.6) rotate(90)" font-size="6.75" fill="#1a68b8">JunB(bZIP)</text>
<rect x="274.04" y="190" width="6.84" height="7.7" fill="#0a62b5"/>
<text transform="translate(275.06,200.6) rotate(90)" font-size="6.75" fill="#1a68b8">AP−1(bZIP)</text>
<rect x="281.48" y="190" width="6.84" height="7.7" fill="#0a62b5"/>
<text transform="translate(282.50,200.6) rotate(90)" font-size="6.75" fill="#1a68b8">BATF(bZIP)</text>
<rect x="288.92" y="190" width="6.84" height="7.7" fill="#0a62b5"/>
<text transform="translate(289.94,200.6) rotate(90)" font-size="6.75" fill="#1a68b8">Atf3(bZIP)</text>
<rect x="296.36" y="190" width="6.84" height="7.7" fill="#0a62b5"/>
<text transform="translate(297.38,200.6) rotate(90)" font-size="6.75" fill="#1a68b8">Fra2(bZIP)</text>
<rect x="303.80" y="190" width="6.84" height="7.7" fill="#0a62b5"/>
<text transform="translate(304.82,200.6) rotate(90)" font-size="6.75" fill="#1a68b8">Fosl2(bZIP)</text>
<rect x="311.24" y="190" width="6.84" height="7.7" fill="#0a62b5"/>
<text transform="translate(312.26,200.6) rotate(90)" font-size="6.75" fill="#1a68b8">Fra1(bZIP)</text>
<rect x="318.68" y="190" width="6.84" height="7.7" fill="#0a62b5"/>
<text transform="translate(319.70,200.6) rotate(90)" font-size="6.75" fill="#1a68b8">Fos(bZIP)</text>
<rect x="326.12" y="190" width="6.84" height="7.7" fill="#0a62b5"/>
<text transform="translate(327.14,200.6) rotate(90)" font-size="6.75" fill="#1a68b8">Bach2(bZIP)</text>
<rect x="333.56" y="190" width="6.84" height="7.7" fill="#0a62b5"/>
<text transform="translate(334.58,200.6) rotate(90)" font-size="6.75" fill="#1a68b8">Jun−AP1(bZIP)</text>
<rect x="341.00" y="190" width="6.84" height="7.7" fill="#dedede"/>
<text transform="translate(342.02,200.6) rotate(90)" font-size="6.75" fill="#555555">SCL(bHLH)</text>
<rect x="353.30" y="69.00" width="6.84" height="10.10" fill="#dae4ef"/>
<rect x="360.74" y="69.00" width="6.84" height="10.10" fill="#dae4ef"/>
<rect x="368.18" y="69.00" width="6.84" height="10.10" fill="#dae4ef"/>
<rect x="375.62" y="69.00" width="6.84" height="10.10" fill="#e3e8ee"/>
<rect x="383.06" y="69.00" width="6.84" height="10.10" fill="#dae4ef"/>
<rect x="390.50" y="69.00" width="6.84" height="10.10" fill="#dae4ef"/>
<rect x="397.94" y="69.00" width="6.84" height="10.10" fill="#dae4ef"/>
<rect x="405.38" y="69.00" width="6.84" height="10.10" fill="#dae4ef"/>
<rect x="412.82" y="69.00" width="6.84" height="10.10" fill="#dae4ef"/>
<rect x="420.26" y="69.00" width="6.84" height="10.10" fill="#dae4ef"/>
<rect x="427.70" y="69.00" width="6.84" height="10.10" fill="#dae4ef"/>
<rect x="435.14" y="69.00" width="6.84" height="10.10" fill="#bbd2ec"/>
<rect x="442.58" y="69.00" width="6.84" height="10.10" fill="#d0deee"/>
<rect x="450.02" y="69.00" width="6.84" height="10.10" fill="#f2d5ba"/>
<rect x="457.46" y="69.00" width="6.84" height="10.10" fill="#f2c7a1"/>
<rect x="464.90" y="69.00" width="6.84" height="10.10" fill="#f0e0d1"/>
<rect x="472.34" y="69.00" width="6.84" height="10.10" fill="#f1dcc8"/>
<rect x="479.78" y="69.00" width="6.84" height="10.10" fill="#f1ac71"/>
<rect x="487.22" y="69.00" width="6.84" height="10.10" fill="#f2b988"/>
<rect x="494.66" y="69.00" width="6.84" height="10.10" fill="#f1ac71"/>
<rect x="502.10" y="69.00" width="6.84" height="10.10" fill="#ef9247"/>
<rect x="509.54" y="69.00" width="6.84" height="10.10" fill="#efe8e1"/>
<rect x="516.98" y="69.00" width="6.84" height="10.10" fill="#f1dcc8"/>
<rect x="353.30" y="82.20" width="6.84" height="10.26" fill="#e3e8ee"/>
<rect x="360.74" y="82.20" width="6.84" height="10.26" fill="#e3e8ee"/>
<rect x="368.18" y="82.20" width="6.84" height="10.26" fill="#e3e8ee"/>
<rect x="375.62" y="82.20" width="6.84" height="10.26" fill="#dae4ef"/>
<rect x="383.06" y="82.20" width="6.84" height="10.26" fill="#dae4ef"/>
<rect x="390.50" y="82.20" width="6.84" height="10.26" fill="#dae4ef"/>
<rect x="397.94" y="82.20" width="6.84" height="10.26" fill="#dae4ef"/>
<rect x="405.38" y="82.20" width="6.84" height="10.26" fill="#dae4ef"/>
<rect x="412.82" y="82.20" width="6.84" height="10.26" fill="#dae4ef"/>
<rect x="420.26" y="82.20" width="6.84" height="10.26" fill="#e3e8ee"/>
<rect x="427.70" y="82.20" width="6.84" height="10.26" fill="#efe8e1"/>
<rect x="435.14" y="82.20" width="6.84" height="10.26" fill="#e3e8ee"/>
<rect x="442.58" y="82.20" width="6.84" height="10.26" fill="#efe8e1"/>
<rect x="450.02" y="82.20" width="6.84" height="10.26" fill="#e3e8ee"/>
<rect x="457.46" y="82.20" width="6.84" height="10.26" fill="#dae4ef"/>
<rect x="464.90" y="82.20" width="6.84" height="10.26" fill="#dae4ef"/>
<rect x="472.34" y="82.20" width="6.84" height="10.26" fill="#e3e8ee"/>
<rect x="479.78" y="82.20" width="6.84" height="10.26" fill="#dae4ef"/>
<rect x="487.22" y="82.20" width="6.84" height="10.26" fill="#dae4ef"/>
<rect x="494.66" y="82.20" width="6.84" height="10.26" fill="#efe8e1"/>
<rect x="502.10" y="82.20" width="6.84" height="10.26" fill="#e3e8ee"/>
<rect x="509.54" y="82.20" width="6.84" height="10.26" fill="#f2b988"/>
<rect x="516.98" y="82.20" width="6.84" height="10.26" fill="#f1ac71"/>
<rect x="353.30" y="92.96" width="6.84" height="10.26" fill="#dae4ef"/>
<rect x="360.74" y="92.96" width="6.84" height="10.26" fill="#dae4ef"/>
<rect x="368.18" y="92.96" width="6.84" height="10.26" fill="#dae4ef"/>
<rect x="375.62" y="92.96" width="6.84" height="10.26" fill="#dae4ef"/>
<rect x="383.06" y="92.96" width="6.84" height="10.26" fill="#dae4ef"/>
<rect x="390.50" y="92.96" width="6.84" height="10.26" fill="#dae4ef"/>
<rect x="397.94" y="92.96" width="6.84" height="10.26" fill="#dae4ef"/>
<rect x="405.38" y="92.96" width="6.84" height="10.26" fill="#dae4ef"/>
<rect x="412.82" y="92.96" width="6.84" height="10.26" fill="#dae4ef"/>
<rect x="420.26" y="92.96" width="6.84" height="10.26" fill="#dae4ef"/>
<rect x="427.70" y="92.96" width="6.84" height="10.26" fill="#d0deee"/>
<rect x="435.14" y="92.96" width="6.84" height="10.26" fill="#dae4ef"/>
<rect x="442.58" y="92.96" width="6.84" height="10.26" fill="#efe8e1"/>
<rect x="450.02" y="92.96" width="6.84" height="10.26" fill="#d0deee"/>
<rect x="457.46" y="92.96" width="6.84" height="10.26" fill="#d0deee"/>
<rect x="464.90" y="92.96" width="6.84" height="10.26" fill="#d0deee"/>
<rect x="472.34" y="92.96" width="6.84" height="10.26" fill="#d0deee"/>
<rect x="479.78" y="92.96" width="6.84" height="10.26" fill="#d0deee"/>
<rect x="487.22" y="92.96" width="6.84" height="10.26" fill="#d0deee"/>
<rect x="494.66" y="92.96" width="6.84" height="10.26" fill="#d0deee"/>
<rect x="502.10" y="92.96" width="6.84" height="10.26" fill="#d0deee"/>
<rect x="509.54" y="92.96" width="6.84" height="10.26" fill="#afcbea"/>
<rect x="516.98" y="92.96" width="6.84" height="10.26" fill="#efe8e1"/>
<rect x="353.30" y="103.72" width="6.84" height="10.26" fill="#dae4ef"/>
<rect x="360.74" y="103.72" width="6.84" height="10.26" fill="#dae4ef"/>
<rect x="368.18" y="103.72" width="6.84" height="10.26" fill="#dae4ef"/>
<rect x="375.62" y="103.72" width="6.84" height="10.26" fill="#dae4ef"/>
<rect x="383.06" y="103.72" width="6.84" height="10.26" fill="#dae4ef"/>
<rect x="390.50" y="103.72" width="6.84" height="10.26" fill="#dae4ef"/>
<rect x="397.94" y="103.72" width="6.84" height="10.26" fill="#dae4ef"/>
<rect x="405.38" y="103.72" width="6.84" height="10.26" fill="#dae4ef"/>
<rect x="412.82" y="103.72" width="6.84" height="10.26" fill="#dae4ef"/>
<rect x="420.26" y="103.72" width="6.84" height="10.26" fill="#dae4ef"/>
<rect x="427.70" y="103.72" width="6.84" height="10.26" fill="#dae4ef"/>
<rect x="435.14" y="103.72" width="6.84" height="10.26" fill="#bbd2ec"/>
<rect x="442.58" y="103.72" width="6.84" height="10.26" fill="#dae4ef"/>
<rect x="450.02" y="103.72" width="6.84" height="10.26" fill="#d0deee"/>
<rect x="457.46" y="103.72" width="6.84" height="10.26" fill="#d0deee"/>
<rect x="464.90" y="103.72" width="6.84" height="10.26" fill="#d0deee"/>
<rect x="472.34" y="103.72" width="6.84" height="10.26" fill="#d0deee"/>
<rect x="479.78" y="103.72" width="6.84" height="10.26" fill="#d0deee"/>
<rect x="487.22" y="103.72" width="6.84" height="10.26" fill="#d0deee"/>
<rect x="494.66" y="103.72" width="6.84" height="10.26" fill="#d0deee"/>
<rect x="502.10" y="103.72" width="6.84" height="10.26" fill="#d0deee"/>
<rect x="509.54" y="103.72" width="6.84" height="10.26" fill="#f2d5ba"/>
<rect x="516.98" y="103.72" width="6.84" height="10.26" fill="#f2c7a1"/>
<rect x="353.30" y="114.48" width="6.84" height="10.26" fill="#dae4ef"/>
<rect x="360.74" y="114.48" width="6.84" height="10.26" fill="#dae4ef"/>
<rect x="368.18" y="114.48" width="6.84" height="10.26" fill="#dae4ef"/>
<rect x="375.62" y="114.48" width="6.84" height="10.26" fill="#dae4ef"/>
<rect x="383.06" y="114.48" width="6.84" height="10.26" fill="#dae4ef"/>
<rect x="390.50" y="114.48" width="6.84" height="10.26" fill="#dae4ef"/>
<rect x="397.94" y="114.48" width="6.84" height="10.26" fill="#dae4ef"/>
<rect x="405.38" y="114.48" width="6.84" height="10.26" fill="#dae4ef"/>
<rect x="412.82" y="114.48" width="6.84" height="10.26" fill="#e3e8ee"/>
<rect x="420.26" y="114.48" width="6.84" height="10.26" fill="#e3e8ee"/>
<rect x="427.70" y="114.48" width="6.84" height="10.26" fill="#dae4ef"/>
<rect x="435.14" y="114.48" width="6.84" height="10.26" fill="#efe8e1"/>
<rect x="442.58" y="114.48" width="6.84" height="10.26" fill="#afcbea"/>
<rect x="450.02" y="114.48" width="6.84" height="10.26" fill="#d0deee"/>
<rect x="457.46" y="114.48" width="6.84" height="10.26" fill="#d0deee"/>
<rect x="464.90" y="114.48" width="6.84" height="10.26" fill="#d0deee"/>
<rect x="472.34" y="114.48" width="6.84" height="10.26" fill="#d0deee"/>
<rect x="479.78" y="114.48" width="6.84" height="10.26" fill="#d0deee"/>
<rect x="487.22" y="114.48" width="6.84" height="10.26" fill="#d0deee"/>
<rect x="494.66" y="114.48" width="6.84" height="10.26" fill="#d0deee"/>
<rect x="502.10" y="114.48" width="6.84" height="10.26" fill="#d0deee"/>
<rect x="509.54" y="114.48" width="6.84" height="10.26" fill="#dae4ef"/>
<rect x="516.98" y="114.48" width="6.84" height="10.26" fill="#96bbe5"/>
<rect x="353.30" y="130.80" width="6.84" height="10.00" fill="#ed7414"/>
<rect x="360.74" y="130.80" width="6.84" height="10.00" fill="#ed7414"/>
<rect x="368.18" y="130.80" width="6.84" height="10.00" fill="#ed7414"/>
<rect x="375.62" y="130.80" width="6.84" height="10.00" fill="#ed7414"/>
<rect x="383.06" y="130.80" width="6.84" height="10.00" fill="#ed7414"/>
<rect x="390.50" y="130.80" width="6.84" height="10.00" fill="#ed7414"/>
<rect x="397.94" y="130.80" width="6.84" height="10.00" fill="#ed7414"/>
<rect x="405.38" y="130.80" width="6.84" height="10.00" fill="#ed7414"/>
<rect x="412.82" y="130.80" width="6.84" height="10.00" fill="#ed7414"/>
<rect x="420.26" y="130.80" width="6.84" height="10.00" fill="#ed7414"/>
<rect x="427.70" y="130.80" width="6.84" height="10.00" fill="#ed7414"/>
<rect x="435.14" y="130.80" width="6.84" height="10.00" fill="#ed7414"/>
<rect x="442.58" y="130.80" width="6.84" height="10.00" fill="#ed7414"/>
<rect x="450.02" y="130.80" width="6.84" height="10.00" fill="#ee7d24"/>
<rect x="457.46" y="130.80" width="6.84" height="10.00" fill="#ee7d24"/>
<rect x="464.90" y="130.80" width="6.84" height="10.00" fill="#ed7414"/>
<rect x="472.34" y="130.80" width="6.84" height="10.00" fill="#ed7414"/>
<rect x="479.78" y="130.80" width="6.84" height="10.00" fill="#ee8634"/>
<rect x="487.22" y="130.80" width="6.84" height="10.00" fill="#ee7d24"/>
<rect x="494.66" y="130.80" width="6.84" height="10.00" fill="#ee8634"/>
<rect x="502.10" y="130.80" width="6.84" height="10.00" fill="#ef9247"/>
<rect x="509.54" y="130.80" width="6.84" height="10.00" fill="#ee8634"/>
<rect x="516.98" y="130.80" width="6.84" height="10.00" fill="#f1ac71"/>
<rect x="353.30" y="144.20" width="6.84" height="10.24" fill="#dae4ef"/>
<rect x="360.74" y="144.20" width="6.84" height="10.24" fill="#dae4ef"/>
<rect x="368.18" y="144.20" width="6.84" height="10.24" fill="#dae4ef"/>
<rect x="375.62" y="144.20" width="6.84" height="10.24" fill="#dae4ef"/>
<rect x="383.06" y="144.20" width="6.84" height="10.24" fill="#dae4ef"/>
<rect x="390.50" y="144.20" width="6.84" height="10.24" fill="#dae4ef"/>
<rect x="397.94" y="144.20" width="6.84" height="10.24" fill="#dae4ef"/>
<rect x="405.38" y="144.20" width="6.84" height="10.24" fill="#dae4ef"/>
<rect x="412.82" y="144.20" width="6.84" height="10.24" fill="#dae4ef"/>
<rect x="420.26" y="144.20" width="6.84" height="10.24" fill="#dae4ef"/>
<rect x="427.70" y="144.20" width="6.84" height="10.24" fill="#dae4ef"/>
<rect x="435.14" y="144.20" width="6.84" height="10.24" fill="#efe8e1"/>
<rect x="442.58" y="144.20" width="6.84" height="10.24" fill="#efe8e1"/>
<rect x="450.02" y="144.20" width="6.84" height="10.24" fill="#d0deee"/>
<rect x="457.46" y="144.20" width="6.84" height="10.24" fill="#d0deee"/>
<rect x="464.90" y="144.20" width="6.84" height="10.24" fill="#d0deee"/>
<rect x="472.34" y="144.20" width="6.84" height="10.24" fill="#d0deee"/>
<rect x="479.78" y="144.20" width="6.84" height="10.24" fill="#d0deee"/>
<rect x="487.22" y="144.20" width="6.84" height="10.24" fill="#d0deee"/>
<rect x="494.66" y="144.20" width="6.84" height="10.24" fill="#d0deee"/>
<rect x="502.10" y="144.20" width="6.84" height="10.24" fill="#d0deee"/>
<rect x="509.54" y="144.20" width="6.84" height="10.24" fill="#e3e8ee"/>
<rect x="516.98" y="144.20" width="6.84" height="10.24" fill="#e3e8ee"/>
<rect x="353.30" y="154.94" width="6.84" height="10.24" fill="#dae4ef"/>
<rect x="360.74" y="154.94" width="6.84" height="10.24" fill="#dae4ef"/>
<rect x="368.18" y="154.94" width="6.84" height="10.24" fill="#dae4ef"/>
<rect x="375.62" y="154.94" width="6.84" height="10.24" fill="#dae4ef"/>
<rect x="383.06" y="154.94" width="6.84" height="10.24" fill="#dae4ef"/>
<rect x="390.50" y="154.94" width="6.84" height="10.24" fill="#dae4ef"/>
<rect x="397.94" y="154.94" width="6.84" height="10.24" fill="#dae4ef"/>
<rect x="405.38" y="154.94" width="6.84" height="10.24" fill="#dae4ef"/>
<rect x="412.82" y="154.94" width="6.84" height="10.24" fill="#dae4ef"/>
<rect x="420.26" y="154.94" width="6.84" height="10.24" fill="#dae4ef"/>
<rect x="427.70" y="154.94" width="6.84" height="10.24" fill="#dae4ef"/>
<rect x="435.14" y="154.94" width="6.84" height="10.24" fill="#c7d9ee"/>
<rect x="442.58" y="154.94" width="6.84" height="10.24" fill="#efe8e1"/>
<rect x="450.02" y="154.94" width="6.84" height="10.24" fill="#d0deee"/>
<rect x="457.46" y="154.94" width="6.84" height="10.24" fill="#d0deee"/>
<rect x="464.90" y="154.94" width="6.84" height="10.24" fill="#d0deee"/>
<rect x="472.34" y="154.94" width="6.84" height="10.24" fill="#d0deee"/>
<rect x="479.78" y="154.94" width="6.84" height="10.24" fill="#d0deee"/>
<rect x="487.22" y="154.94" width="6.84" height="10.24" fill="#d0deee"/>
<rect x="494.66" y="154.94" width="6.84" height="10.24" fill="#d0deee"/>
<rect x="502.10" y="154.94" width="6.84" height="10.24" fill="#d0deee"/>
<rect x="509.54" y="154.94" width="6.84" height="10.24" fill="#afcbea"/>
<rect x="516.98" y="154.94" width="6.84" height="10.24" fill="#c7d9ee"/>
<rect x="353.30" y="165.68" width="6.84" height="10.24" fill="#dae4ef"/>
<rect x="360.74" y="165.68" width="6.84" height="10.24" fill="#dae4ef"/>
<rect x="368.18" y="165.68" width="6.84" height="10.24" fill="#dae4ef"/>
<rect x="375.62" y="165.68" width="6.84" height="10.24" fill="#dae4ef"/>
<rect x="383.06" y="165.68" width="6.84" height="10.24" fill="#dae4ef"/>
<rect x="390.50" y="165.68" width="6.84" height="10.24" fill="#dae4ef"/>
<rect x="397.94" y="165.68" width="6.84" height="10.24" fill="#dae4ef"/>
<rect x="405.38" y="165.68" width="6.84" height="10.24" fill="#dae4ef"/>
<rect x="412.82" y="165.68" width="6.84" height="10.24" fill="#dae4ef"/>
<rect x="420.26" y="165.68" width="6.84" height="10.24" fill="#dae4ef"/>
<rect x="427.70" y="165.68" width="6.84" height="10.24" fill="#dae4ef"/>
<rect x="435.14" y="165.68" width="6.84" height="10.24" fill="#c7d9ee"/>
<rect x="442.58" y="165.68" width="6.84" height="10.24" fill="#bbd2ec"/>
<rect x="450.02" y="165.68" width="6.84" height="10.24" fill="#d0deee"/>
<rect x="457.46" y="165.68" width="6.84" height="10.24" fill="#d0deee"/>
<rect x="464.90" y="165.68" width="6.84" height="10.24" fill="#d0deee"/>
<rect x="472.34" y="165.68" width="6.84" height="10.24" fill="#d0deee"/>
<rect x="479.78" y="165.68" width="6.84" height="10.24" fill="#d0deee"/>
<rect x="487.22" y="165.68" width="6.84" height="10.24" fill="#d0deee"/>
<rect x="494.66" y="165.68" width="6.84" height="10.24" fill="#d0deee"/>
<rect x="502.10" y="165.68" width="6.84" height="10.24" fill="#d0deee"/>
<rect x="509.54" y="165.68" width="6.84" height="10.24" fill="#afcbea"/>
<rect x="516.98" y="165.68" width="6.84" height="10.24" fill="#a2c3e8"/>
<rect x="353.30" y="176.42" width="6.84" height="10.24" fill="#dae4ef"/>
<rect x="360.74" y="176.42" width="6.84" height="10.24" fill="#dae4ef"/>
<rect x="368.18" y="176.42" width="6.84" height="10.24" fill="#dae4ef"/>
<rect x="375.62" y="176.42" width="6.84" height="10.24" fill="#dae4ef"/>
<rect x="383.06" y="176.42" width="6.84" height="10.24" fill="#dae4ef"/>
<rect x="390.50" y="176.42" width="6.84" height="10.24" fill="#dae4ef"/>
<rect x="397.94" y="176.42" width="6.84" height="10.24" fill="#dae4ef"/>
<rect x="405.38" y="176.42" width="6.84" height="10.24" fill="#dae4ef"/>
<rect x="412.82" y="176.42" width="6.84" height="10.24" fill="#dae4ef"/>
<rect x="420.26" y="176.42" width="6.84" height="10.24" fill="#dae4ef"/>
<rect x="427.70" y="176.42" width="6.84" height="10.24" fill="#dae4ef"/>
<rect x="435.14" y="176.42" width="6.84" height="10.24" fill="#f0e0d1"/>
<rect x="442.58" y="176.42" width="6.84" height="10.24" fill="#d0deee"/>
<rect x="450.02" y="176.42" width="6.84" height="10.24" fill="#d0deee"/>
<rect x="457.46" y="176.42" width="6.84" height="10.24" fill="#d0deee"/>
<rect x="464.90" y="176.42" width="6.84" height="10.24" fill="#d0deee"/>
<rect x="472.34" y="176.42" width="6.84" height="10.24" fill="#d0deee"/>
<rect x="479.78" y="176.42" width="6.84" height="10.24" fill="#d0deee"/>
<rect x="487.22" y="176.42" width="6.84" height="10.24" fill="#d0deee"/>
<rect x="494.66" y="176.42" width="6.84" height="10.24" fill="#d0deee"/>
<rect x="502.10" y="176.42" width="6.84" height="10.24" fill="#d0deee"/>
<rect x="509.54" y="176.42" width="6.84" height="10.24" fill="#bbd2ec"/>
<rect x="516.98" y="176.42" width="6.84" height="10.24" fill="#a2c3e8"/>
<rect x="353.30" y="190" width="6.84" height="7.7" fill="#9c776c"/>
<text transform="translate(354.32,200.6) rotate(90)" font-size="6.75" fill="#9a7469">ZEB1(Zf)</text>
<rect x="360.74" y="190" width="6.84" height="7.7" fill="#9c776c"/>
<text transform="translate(361.76,200.6) rotate(90)" font-size="6.75" fill="#9a7469">Snail1(Zf)</text>
<rect x="368.18" y="190" width="6.84" height="7.7" fill="#9c776c"/>
<text transform="translate(369.20,200.6) rotate(90)" font-size="6.75" fill="#9a7469">EBF(EBF)</text>
<rect x="375.62" y="190" width="6.84" height="7.7" fill="#9c776c"/>
<text transform="translate(376.64,200.6) rotate(90)" font-size="6.75" fill="#9a7469">HEB(bHLH)</text>
<rect x="383.06" y="190" width="6.84" height="7.7" fill="#9c776c"/>
<text transform="translate(384.08,200.6) rotate(90)" font-size="6.75" fill="#9a7469">E2A(bHLH)</text>
<rect x="390.50" y="190" width="6.84" height="7.7" fill="#9c776c"/>
<text transform="translate(391.52,200.6) rotate(90)" font-size="6.75" fill="#9a7469">Ascl2(bHLH)</text>
<rect x="397.94" y="190" width="6.84" height="7.7" fill="#9c776c"/>
<text transform="translate(398.96,200.6) rotate(90)" font-size="6.75" fill="#9a7469">Slug(Zf)</text>
<rect x="405.38" y="190" width="6.84" height="7.7" fill="#9c776c"/>
<text transform="translate(406.40,200.6) rotate(90)" font-size="6.75" fill="#9a7469">E2A(bHLH),near_PU.1</text>
<rect x="412.82" y="190" width="6.84" height="7.7" fill="#9c776c"/>
<text transform="translate(413.84,200.6) rotate(90)" font-size="6.75" fill="#9a7469">EBF2(EBF)</text>
<rect x="420.26" y="190" width="6.84" height="7.7" fill="#9c776c"/>
<text transform="translate(421.28,200.6) rotate(90)" font-size="6.75" fill="#9a7469">ZEB2(Zf)</text>
<rect x="427.70" y="190" width="6.84" height="7.7" fill="#9c776c"/>
<text transform="translate(428.72,200.6) rotate(90)" font-size="6.75" fill="#9a7469">EBF1(EBF)</text>
<rect x="435.14" y="190" width="6.84" height="7.7" fill="#9c776c"/>
<text transform="translate(436.16,200.6) rotate(90)" font-size="6.75" fill="#9a7469" textLength="70.6" lengthAdjust="spacingAndGlyphs">PAX6(Paired,Homeobox)</text>
<rect x="442.58" y="190" width="6.84" height="7.7" fill="#9c776c"/>
<text transform="translate(443.60,200.6) rotate(90)" font-size="6.75" fill="#9a7469">Tbx5(T−box)</text>
<rect x="450.02" y="190" width="6.84" height="7.7" fill="#9c776c"/>
<text transform="translate(451.04,200.6) rotate(90)" font-size="6.75" fill="#9a7469">MyoG(bHLH)</text>
<rect x="457.46" y="190" width="6.84" height="7.7" fill="#9c776c"/>
<text transform="translate(458.48,200.6) rotate(90)" font-size="6.75" fill="#9a7469">Ascl1(bHLH)</text>
<rect x="464.90" y="190" width="6.84" height="7.7" fill="#9c776c"/>
<text transform="translate(465.92,200.6) rotate(90)" font-size="6.75" fill="#9a7469">TCF12(bHLH)</text>
<rect x="472.34" y="190" width="6.84" height="7.7" fill="#9c776c"/>
<text transform="translate(473.36,200.6) rotate(90)" font-size="6.75" fill="#9a7469">Myf5(bHLH)</text>
<rect x="479.78" y="190" width="6.84" height="7.7" fill="#9c776c"/>
<text transform="translate(480.80,200.6) rotate(90)" font-size="6.75" fill="#9a7469">Ptf1a(bHLH)</text>
<rect x="487.22" y="190" width="6.84" height="7.7" fill="#9c776c"/>
<text transform="translate(488.24,200.6) rotate(90)" font-size="6.75" fill="#9a7469">MyoD(bHLH)</text>
<rect x="494.66" y="190" width="6.84" height="7.7" fill="#9c776c"/>
<text transform="translate(495.68,200.6) rotate(90)" font-size="6.75" fill="#9a7469">Ap4(bHLH)</text>
<rect x="502.10" y="190" width="6.84" height="7.7" fill="#9c776c"/>
<text transform="translate(503.12,200.6) rotate(90)" font-size="6.75" fill="#9a7469">TCF21(bHLH)</text>
<rect x="509.54" y="190" width="6.84" height="7.7" fill="#9c776c"/>
<text transform="translate(510.56,200.6) rotate(90)" font-size="6.75" fill="#9a7469" textLength="70.6" lengthAdjust="spacingAndGlyphs">PAX5(Paired,Homeobox)</text>
<rect x="516.98" y="190" width="6.84" height="7.7" fill="#9c776c"/>
<text transform="translate(518.00,200.6) rotate(90)" font-size="6.75" fill="#9a7469">FOXK2(Forkhead)</text>
<rect x="529.50" y="69.00" width="6.84" height="10.10" fill="#88b2e2"/>
<rect x="536.94" y="69.00" width="6.84" height="10.10" fill="#88b2e2"/>
<rect x="544.38" y="69.00" width="6.84" height="10.10" fill="#88b2e2"/>
<rect x="551.82" y="69.00" width="6.84" height="10.10" fill="#88b2e2"/>
<rect x="559.26" y="69.00" width="6.84" height="10.10" fill="#96bbe5"/>
<rect x="566.70" y="69.00" width="6.84" height="10.10" fill="#88b2e2"/>
<rect x="574.14" y="69.00" width="6.84" height="10.10" fill="#96bbe5"/>
<rect x="581.58" y="69.00" width="6.84" height="10.10" fill="#7aa9df"/>
<rect x="589.02" y="69.00" width="6.84" height="10.10" fill="#7aa9df"/>
<rect x="596.46" y="69.00" width="6.84" height="10.10" fill="#6ca0dc"/>
<rect x="603.90" y="69.00" width="6.84" height="10.10" fill="#5d96d9"/>
<rect x="611.34" y="69.00" width="6.84" height="10.10" fill="#88b2e2"/>
<rect x="618.78" y="69.00" width="6.84" height="10.10" fill="#bbd2ec"/>
<rect x="626.22" y="69.00" width="6.84" height="10.10" fill="#afcbea"/>
<rect x="633.66" y="69.00" width="6.84" height="10.10" fill="#96bbe5"/>
<rect x="641.10" y="69.00" width="6.84" height="10.10" fill="#96bbe5"/>
<rect x="529.50" y="82.20" width="6.84" height="10.26" fill="#a2c3e8"/>
<rect x="536.94" y="82.20" width="6.84" height="10.26" fill="#a2c3e8"/>
<rect x="544.38" y="82.20" width="6.84" height="10.26" fill="#a2c3e8"/>
<rect x="551.82" y="82.20" width="6.84" height="10.26" fill="#a2c3e8"/>
<rect x="559.26" y="82.20" width="6.84" height="10.26" fill="#a2c3e8"/>
<rect x="566.70" y="82.20" width="6.84" height="10.26" fill="#a2c3e8"/>
<rect x="574.14" y="82.20" width="6.84" height="10.26" fill="#a2c3e8"/>
<rect x="581.58" y="82.20" width="6.84" height="10.26" fill="#a2c3e8"/>
<rect x="589.02" y="82.20" width="6.84" height="10.26" fill="#a2c3e8"/>
<rect x="596.46" y="82.20" width="6.84" height="10.26" fill="#96bbe5"/>
<rect x="603.90" y="82.20" width="6.84" height="10.26" fill="#c7d9ee"/>
<rect x="611.34" y="82.20" width="6.84" height="10.26" fill="#a2c3e8"/>
<rect x="618.78" y="82.20" width="6.84" height="10.26" fill="#bbd2ec"/>
<rect x="626.22" y="82.20" width="6.84" height="10.26" fill="#afcbea"/>
<rect x="633.66" y="82.20" width="6.84" height="10.26" fill="#afcbea"/>
<rect x="641.10" y="82.20" width="6.84" height="10.26" fill="#efe8e1"/>
<rect x="529.50" y="92.96" width="6.84" height="10.26" fill="#bbd2ec"/>
<rect x="536.94" y="92.96" width="6.84" height="10.26" fill="#bbd2ec"/>
<rect x="544.38" y="92.96" width="6.84" height="10.26" fill="#bbd2ec"/>
<rect x="551.82" y="92.96" width="6.84" height="10.26" fill="#c7d9ee"/>
<rect x="559.26" y="92.96" width="6.84" height="10.26" fill="#afcbea"/>
<rect x="566.70" y="92.96" width="6.84" height="10.26" fill="#afcbea"/>
<rect x="574.14" y="92.96" width="6.84" height="10.26" fill="#bbd2ec"/>
<rect x="581.58" y="92.96" width="6.84" height="10.26" fill="#c7d9ee"/>
<rect x="589.02" y="92.96" width="6.84" height="10.26" fill="#c7d9ee"/>
<rect x="596.46" y="92.96" width="6.84" height="10.26" fill="#c7d9ee"/>
<rect x="603.90" y="92.96" width="6.84" height="10.26" fill="#e3e8ee"/>
<rect x="611.34" y="92.96" width="6.84" height="10.26" fill="#afcbea"/>
<rect x="618.78" y="92.96" width="6.84" height="10.26" fill="#afcbea"/>
<rect x="626.22" y="92.96" width="6.84" height="10.26" fill="#afcbea"/>
<rect x="633.66" y="92.96" width="6.84" height="10.26" fill="#bbd2ec"/>
<rect x="641.10" y="92.96" width="6.84" height="10.26" fill="#afcbea"/>
<rect x="529.50" y="103.72" width="6.84" height="10.26" fill="#c7d9ee"/>
<rect x="536.94" y="103.72" width="6.84" height="10.26" fill="#c7d9ee"/>
<rect x="544.38" y="103.72" width="6.84" height="10.26" fill="#c7d9ee"/>
<rect x="551.82" y="103.72" width="6.84" height="10.26" fill="#c7d9ee"/>
<rect x="559.26" y="103.72" width="6.84" height="10.26" fill="#d0deee"/>
<rect x="566.70" y="103.72" width="6.84" height="10.26" fill="#c7d9ee"/>
<rect x="574.14" y="103.72" width="6.84" height="10.26" fill="#afcbea"/>
<rect x="581.58" y="103.72" width="6.84" height="10.26" fill="#c7d9ee"/>
<rect x="589.02" y="103.72" width="6.84" height="10.26" fill="#c7d9ee"/>
<rect x="596.46" y="103.72" width="6.84" height="10.26" fill="#dae4ef"/>
<rect x="603.90" y="103.72" width="6.84" height="10.26" fill="#e3e8ee"/>
<rect x="611.34" y="103.72" width="6.84" height="10.26" fill="#e3e8ee"/>
<rect x="618.78" y="103.72" width="6.84" height="10.26" fill="#c7d9ee"/>
<rect x="626.22" y="103.72" width="6.84" height="10.26" fill="#afcbea"/>
<rect x="633.66" y="103.72" width="6.84" height="10.26" fill="#afcbea"/>
<rect x="641.10" y="103.72" width="6.84" height="10.26" fill="#f2d5ba"/>
<rect x="529.50" y="114.48" width="6.84" height="10.26" fill="#f2bf92"/>
<rect x="536.94" y="114.48" width="6.84" height="10.26" fill="#f2b988"/>
<rect x="544.38" y="114.48" width="6.84" height="10.26" fill="#f2bf92"/>
<rect x="551.82" y="114.48" width="6.84" height="10.26" fill="#f2bf92"/>
<rect x="559.26" y="114.48" width="6.84" height="10.26" fill="#f2b988"/>
<rect x="566.70" y="114.48" width="6.84" height="10.26" fill="#f2c7a1"/>
<rect x="574.14" y="114.48" width="6.84" height="10.26" fill="#f2d5ba"/>
<rect x="581.58" y="114.48" width="6.84" height="10.26" fill="#f2c197"/>
<rect x="589.02" y="114.48" width="6.84" height="10.26" fill="#f2c7a1"/>
<rect x="596.46" y="114.48" width="6.84" height="10.26" fill="#f2c7a1"/>
<rect x="603.90" y="114.48" width="6.84" height="10.26" fill="#f2c7a1"/>
<rect x="611.34" y="114.48" width="6.84" height="10.26" fill="#f2b988"/>
<rect x="618.78" y="114.48" width="6.84" height="10.26" fill="#f1ac71"/>
<rect x="626.22" y="114.48" width="6.84" height="10.26" fill="#f2b988"/>
<rect x="633.66" y="114.48" width="6.84" height="10.26" fill="#f0e0d1"/>
<rect x="641.10" y="114.48" width="6.84" height="10.26" fill="#f0e0d1"/>
<rect x="529.50" y="130.80" width="6.84" height="10.00" fill="#bbd2ec"/>
<rect x="536.94" y="130.80" width="6.84" height="10.00" fill="#bbd2ec"/>
<rect x="544.38" y="130.80" width="6.84" height="10.00" fill="#bbd2ec"/>
<rect x="551.82" y="130.80" width="6.84" height="10.00" fill="#bbd2ec"/>
<rect x="559.26" y="130.80" width="6.84" height="10.00" fill="#afcbea"/>
<rect x="566.70" y="130.80" width="6.84" height="10.00" fill="#afcbea"/>
<rect x="574.14" y="130.80" width="6.84" height="10.00" fill="#bbd2ec"/>
<rect x="581.58" y="130.80" width="6.84" height="10.00" fill="#c7d9ee"/>
<rect x="589.02" y="130.80" width="6.84" height="10.00" fill="#bbd2ec"/>
<rect x="596.46" y="130.80" width="6.84" height="10.00" fill="#c7d9ee"/>
<rect x="603.90" y="130.80" width="6.84" height="10.00" fill="#88b2e2"/>
<rect x="611.34" y="130.80" width="6.84" height="10.00" fill="#afcbea"/>
<rect x="618.78" y="130.80" width="6.84" height="10.00" fill="#bbd2ec"/>
<rect x="626.22" y="130.80" width="6.84" height="10.00" fill="#afcbea"/>
<rect x="633.66" y="130.80" width="6.84" height="10.00" fill="#dae4ef"/>
<rect x="641.10" y="130.80" width="6.84" height="10.00" fill="#afcbea"/>
<rect x="529.50" y="144.20" width="6.84" height="10.24" fill="#f2d5ba"/>
<rect x="536.94" y="144.20" width="6.84" height="10.24" fill="#f2d5ba"/>
<rect x="544.38" y="144.20" width="6.84" height="10.24" fill="#f2cfb0"/>
<rect x="551.82" y="144.20" width="6.84" height="10.24" fill="#f1d9c3"/>
<rect x="559.26" y="144.20" width="6.84" height="10.24" fill="#f2d5ba"/>
<rect x="566.70" y="144.20" width="6.84" height="10.24" fill="#f2d5ba"/>
<rect x="574.14" y="144.20" width="6.84" height="10.24" fill="#f2bf92"/>
<rect x="581.58" y="144.20" width="6.84" height="10.24" fill="#f2d5ba"/>
<rect x="589.02" y="144.20" width="6.84" height="10.24" fill="#f2d5ba"/>
<rect x="596.46" y="144.20" width="6.84" height="10.24" fill="#f2d5ba"/>
<rect x="603.90" y="144.20" width="6.84" height="10.24" fill="#f2d5ba"/>
<rect x="611.34" y="144.20" width="6.84" height="10.24" fill="#f2d5ba"/>
<rect x="618.78" y="144.20" width="6.84" height="10.24" fill="#f0e2d6"/>
<rect x="626.22" y="144.20" width="6.84" height="10.24" fill="#ef9247"/>
<rect x="633.66" y="144.20" width="6.84" height="10.24" fill="#ee8634"/>
<rect x="641.10" y="144.20" width="6.84" height="10.24" fill="#f09e5a"/>
<rect x="529.50" y="154.94" width="6.84" height="10.24" fill="#f1dcc8"/>
<rect x="536.94" y="154.94" width="6.84" height="10.24" fill="#f0decc"/>
<rect x="544.38" y="154.94" width="6.84" height="10.24" fill="#f1dcc8"/>
<rect x="551.82" y="154.94" width="6.84" height="10.24" fill="#f2d5ba"/>
<rect x="559.26" y="154.94" width="6.84" height="10.24" fill="#f1d9c3"/>
<rect x="566.70" y="154.94" width="6.84" height="10.24" fill="#f1d9c3"/>
<rect x="574.14" y="154.94" width="6.84" height="10.24" fill="#f2d5ba"/>
<rect x="581.58" y="154.94" width="6.84" height="10.24" fill="#f2d5ba"/>
<rect x="589.02" y="154.94" width="6.84" height="10.24" fill="#f0decc"/>
<rect x="596.46" y="154.94" width="6.84" height="10.24" fill="#f1dcc8"/>
<rect x="603.90" y="154.94" width="6.84" height="10.24" fill="#f2d5ba"/>
<rect x="611.34" y="154.94" width="6.84" height="10.24" fill="#e7eaed"/>
<rect x="618.78" y="154.94" width="6.84" height="10.24" fill="#dae4ef"/>
<rect x="626.22" y="154.94" width="6.84" height="10.24" fill="#efe8e1"/>
<rect x="633.66" y="154.94" width="6.84" height="10.24" fill="#efe8e1"/>
<rect x="641.10" y="154.94" width="6.84" height="10.24" fill="#bbd2ec"/>
<rect x="529.50" y="165.68" width="6.84" height="10.24" fill="#f0e0d1"/>
<rect x="536.94" y="165.68" width="6.84" height="10.24" fill="#f0e0d1"/>
<rect x="544.38" y="165.68" width="6.84" height="10.24" fill="#efe8e1"/>
<rect x="551.82" y="165.68" width="6.84" height="10.24" fill="#efe8e1"/>
<rect x="559.26" y="165.68" width="6.84" height="10.24" fill="#f0e2d6"/>
<rect x="566.70" y="165.68" width="6.84" height="10.24" fill="#f0decc"/>
<rect x="574.14" y="165.68" width="6.84" height="10.24" fill="#efe8e1"/>
<rect x="581.58" y="165.68" width="6.84" height="10.24" fill="#f0e0d1"/>
<rect x="589.02" y="165.68" width="6.84" height="10.24" fill="#f0e0d1"/>
<rect x="596.46" y="165.68" width="6.84" height="10.24" fill="#f2d5ba"/>
<rect x="603.90" y="165.68" width="6.84" height="10.24" fill="#f0decc"/>
<rect x="611.34" y="165.68" width="6.84" height="10.24" fill="#efe8e1"/>
<rect x="618.78" y="165.68" width="6.84" height="10.24" fill="#dae4ef"/>
<rect x="626.22" y="165.68" width="6.84" height="10.24" fill="#e3e8ee"/>
<rect x="633.66" y="165.68" width="6.84" height="10.24" fill="#efe8e1"/>
<rect x="641.10" y="165.68" width="6.84" height="10.24" fill="#dae4ef"/>
<rect x="529.50" y="176.42" width="6.84" height="10.24" fill="#f09e5a"/>
<rect x="536.94" y="176.42" width="6.84" height="10.24" fill="#f09e5a"/>
<rect x="544.38" y="176.42" width="6.84" height="10.24" fill="#ef9247"/>
<rect x="551.82" y="176.42" width="6.84" height="10.24" fill="#f09e5a"/>
<rect x="559.26" y="176.42" width="6.84" height="10.24" fill="#f09e5a"/>
<rect x="566.70" y="176.42" width="6.84" height="10.24" fill="#f09e5a"/>
<rect x="574.14" y="176.42" width="6.84" height="10.24" fill="#f09e5a"/>
<rect x="581.58" y="176.42" width="6.84" height="10.24" fill="#f09e5a"/>
<rect x="589.02" y="176.42" width="6.84" height="10.24" fill="#f1ac71"/>
<rect x="596.46" y="176.42" width="6.84" height="10.24" fill="#f1ac71"/>
<rect x="603.90" y="176.42" width="6.84" height="10.24" fill="#f2b988"/>
<rect x="611.34" y="176.42" width="6.84" height="10.24" fill="#ef9247"/>
<rect x="618.78" y="176.42" width="6.84" height="10.24" fill="#ee8634"/>
<rect x="626.22" y="176.42" width="6.84" height="10.24" fill="#f2b988"/>
<rect x="633.66" y="176.42" width="6.84" height="10.24" fill="#f2b988"/>
<rect x="641.10" y="176.42" width="6.84" height="10.24" fill="#f1ac71"/>
<rect x="529.50" y="190" width="6.84" height="7.7" fill="#8f9000"/>
<text transform="translate(530.52,200.6) rotate(90)" font-size="6.75" fill="#8c8e0a">KLF5(Zf)</text>
<rect x="536.94" y="190" width="6.84" height="7.7" fill="#8f9000"/>
<text transform="translate(537.96,200.6) rotate(90)" font-size="6.75" fill="#8c8e0a">KLF1(Zf)</text>
<rect x="544.38" y="190" width="6.84" height="7.7" fill="#8f9000"/>
<text transform="translate(545.40,200.6) rotate(90)" font-size="6.75" fill="#8c8e0a">KLF6(Zf)</text>
<rect x="551.82" y="190" width="6.84" height="7.7" fill="#8f9000"/>
<text transform="translate(552.84,200.6) rotate(90)" font-size="6.75" fill="#8c8e0a">KLF9(Zf)</text>
<rect x="559.26" y="190" width="6.84" height="7.7" fill="#8f9000"/>
<text transform="translate(560.28,200.6) rotate(90)" font-size="6.75" fill="#8c8e0a">Sp1(Zf)</text>
<rect x="566.70" y="190" width="6.84" height="7.7" fill="#8f9000"/>
<text transform="translate(567.72,200.6) rotate(90)" font-size="6.75" fill="#8c8e0a">KLF3(Zf)</text>
<rect x="574.14" y="190" width="6.84" height="7.7" fill="#8f9000"/>
<text transform="translate(575.16,200.6) rotate(90)" font-size="6.75" fill="#8c8e0a">KLF4(Zf)</text>
<rect x="581.58" y="190" width="6.84" height="7.7" fill="#8f9000"/>
<text transform="translate(582.60,200.6) rotate(90)" font-size="6.75" fill="#8c8e0a">Sp5(Zf)</text>
<rect x="589.02" y="190" width="6.84" height="7.7" fill="#dedede"/>
<text transform="translate(590.04,200.6) rotate(90)" font-size="6.75" fill="#555555">Sp2(Zf)</text>
<rect x="596.46" y="190" width="6.84" height="7.7" fill="#dedede"/>
<text transform="translate(597.48,200.6) rotate(90)" font-size="6.75" fill="#555555">KLF14(Zf)</text>
<rect x="603.90" y="190" width="6.84" height="7.7" fill="#dedede"/>
<text transform="translate(604.92,200.6) rotate(90)" font-size="6.75" fill="#555555">NFY(CCAAT)</text>
<rect x="611.34" y="190" width="6.84" height="7.7" fill="#0b7d30"/>
<text transform="translate(612.36,200.6) rotate(90)" font-size="6.75" fill="#17823a">NFIL3(bZIP)</text>
<rect x="618.78" y="190" width="6.84" height="7.7" fill="#0b7d30"/>
<text transform="translate(619.80,200.6) rotate(90)" font-size="6.75" fill="#17823a">CEBP(bZIP)</text>
<rect x="626.22" y="190" width="6.84" height="7.7" fill="#0b7d30"/>
<text transform="translate(627.24,200.6) rotate(90)" font-size="6.75" fill="#17823a">CEBP:AP1(bZIP)</text>
<rect x="633.66" y="190" width="6.84" height="7.7" fill="#0b7d30"/>
<text transform="translate(634.68,200.6) rotate(90)" font-size="6.75" fill="#17823a">Atf4(bZIP)</text>
<rect x="641.10" y="190" width="6.84" height="7.7" fill="#0b7d30"/>
<text transform="translate(642.12,200.6) rotate(90)" font-size="6.75" fill="#17823a">HLF(bZIP)</text>
<text x="85.8" y="78.05" font-size="9.4" text-anchor="end" fill="#111">Normal</text>
<text x="85.8" y="89.73" font-size="9.4" text-anchor="end" fill="#9a9a9a">CCUS/ICUS</text>
<text x="85.8" y="101.39" font-size="9.4" text-anchor="end" fill="#c9a80c">MDS-MLD</text>
<text x="85.8" y="112.15" font-size="9.4" text-anchor="end" fill="#c8674f">MDS-EB</text>
<text x="85.8" y="122.91" font-size="9.4" text-anchor="end" fill="#8a2c9c">AML_MRC</text>
<text x="85.8" y="139.80" font-size="9.4" text-anchor="end" fill="#111">Normal</text>
<text x="85.8" y="151.72" font-size="9.4" text-anchor="end" fill="#9a9a9a">CCUS/ICUS</text>
<text x="85.8" y="163.36" font-size="9.4" text-anchor="end" fill="#c9a80c">MDS-MLD</text>
<text x="85.8" y="174.10" font-size="9.4" text-anchor="end" fill="#c8674f">MDS-EB</text>
<text x="85.8" y="184.84" font-size="9.4" text-anchor="end" fill="#8a2c9c">AML_MRC</text>
<rect x="27.3" y="67.8" width="1.4" height="58" fill="#5b6fd3"/>
<rect x="27.3" y="130.3" width="1.4" height="57.4" fill="#80b85c"/>
<text x="1.2" y="98.6" font-size="9.6" fill="#5b6fd3">Stem</text>
<text x="9" y="161" font-size="9.6" fill="#80b85c">Pro</text>
<rect x="109.4" y="274.4" width="20.8" height="1.3" fill="#3a8fa4"/>
<text x="119.8" y="288" font-size="9.5" text-anchor="middle" fill="#3a8fa4">HOX</text>
<rect x="134.0" y="274.4" width="52.6" height="1.3" fill="#8f9000"/>
<text x="160.3" y="288" font-size="9.5" text-anchor="middle" fill="#8f9000">GATA</text>
<rect x="265.3" y="274.4" width="75.7" height="1.3" fill="#0a62b5"/>
<text x="303.1" y="288" font-size="9.5" text-anchor="middle" fill="#0a62b5">AP-1</text>
<rect x="352.6" y="274.4" width="172.0" height="1.3" fill="#9c776c"/>
<text x="438.6" y="288" font-size="9.5" text-anchor="middle" fill="#9c776c">Lymphoid</text>
<rect x="610.2" y="274.4" width="37.7" height="1.3" fill="#0b7d30"/>
<text x="629.0" y="288" font-size="9.5" text-anchor="middle" fill="#0b7d30">Myeloid</text>
<defs><linearGradient id="cb" x1="0" y1="0" x2="0" y2="1"><stop offset="0" stop-color="#ed7412"/><stop offset="0.5" stop-color="#f1f1f1"/><stop offset="1" stop-color="#2f7cd6"/></linearGradient></defs>
<rect x="667.1" y="68" width="7.8" height="92.5" fill="url(#cb)"/>
<text x="663.2" y="83.9" font-size="7.6" text-anchor="end" fill="#222">2</text>
<text x="663.2" y="100.1" font-size="7.6" text-anchor="end" fill="#222">1</text>
<text x="663.2" y="116.3" font-size="7.6" text-anchor="end" fill="#222">0</text>
<text x="663.2" y="132.7" font-size="7.6" text-anchor="end" fill="#222">−1</text>
<text x="663.2" y="149.0" font-size="7.6" text-anchor="end" fill="#222">−2</text>
<text transform="translate(678.8,115.4) rotate(90)" font-size="7.4" text-anchor="middle" fill="#222">Motif score (z-score)</text>
<text x="655.5" y="186" font-size="8.6" fill="#222">HSPC</text>
<rect x="655.5" y="189.7" width="6.6" height="6.5" fill="#0a62b5"/>
<text x="665.3" y="195.9" font-size="8.4" fill="#1a68b8">HSC</text>
<rect x="655.5" y="199.1" width="6.6" height="6.5" fill="#3a8fa4"/>
<text x="665.3" y="205.3" font-size="8.4" fill="#3f93ab">MLP</text>
<rect x="655.5" y="208.5" width="6.6" height="6.5" fill="#0b7d30"/>
<text x="665.3" y="214.7" font-size="8.4" fill="#17823a">GMP</text>
<rect x="655.5" y="217.9" width="6.6" height="6.5" fill="#8f9000"/>
<text x="665.3" y="224.1" font-size="8.4" fill="#8c8e0a">MEP</text>
<rect x="655.5" y="227.3" width="6.6" height="6.5" fill="#9c776c"/>
<text x="665.3" y="233.5" font-size="8.4" fill="#9a7469">CLP</text>
<rect x="655.5" y="236.7" width="6.6" height="6.5" fill="#dedede"/>
<text x="665.3" y="242.9" font-size="8.4" fill="#333">-</text>
<path d="M344.50 8.65L622.62 8.65 M344.50 8.65L344.50 15.25 M622.62 8.65L622.62 40.65 M199.60 15.25L495.84 15.25 M199.60 15.25L199.60 28.15 M495.84 15.25L495.84 33.95 M150.20 28.15L243.84 28.15 M150.20 28.15L150.20 32.45 M243.84 28.15L243.84 45.75 M123.05 32.45L177.22 32.45 M123.05 32.45L123.05 39.75 M177.22 32.45L177.22 52.75 M102.82 39.75L143.27 39.75 M102.82 39.75L102.82 49.05 M143.27 39.75L143.27 53.65 M97.24 49.05L108.40 49.05 M97.24 49.05L97.24 57.85 M108.40 49.05L108.40 65.70 M93.52 57.85L100.96 57.85 M93.52 57.85L93.52 65.70 M100.96 57.85L100.96 65.70 M131.65 53.65L154.90 53.65 M131.65 53.65L131.65 59.95 M154.90 53.65L154.90 60.35 M125.14 59.95L138.16 59.95 M125.14 59.95L125.14 63.25 M138.16 59.95L138.16 65.70 M119.56 63.25L130.72 63.25 M119.56 63.25L119.56 63.95 M130.72 63.25L130.72 65.70 M115.84 63.95L123.28 63.95 M115.84 63.95L115.84 65.70 M123.28 63.95L123.28 65.70 M149.32 60.35L160.48 60.35 M149.32 60.35L149.32 63.95 M160.48 60.35L160.48 65.70 M145.60 63.95L153.04 63.95 M145.60 63.95L145.60 65.70 M153.04 63.95L153.04 65.70 M171.64 52.75L182.80 52.75 M171.64 52.75L171.64 60.05 M182.80 52.75L182.80 65.70 M167.92 60.05L175.36 60.05 M167.92 60.05L167.92 65.70 M175.36 60.05L175.36 65.70 M218.40 45.75L269.27 45.75 M218.40 45.75L218.40 55.65 M269.27 45.75L269.27 58.05 M211.43 55.65L225.38 55.65 M211.43 55.65L211.43 59.15 M225.38 55.65L225.38 65.70 M204.92 59.15L217.94 59.15 M204.92 59.15L204.92 62.65 M217.94 59.15L217.94 65.70 M199.34 62.65L210.50 62.65 M199.34 62.65L199.34 63.85 M210.50 62.65L210.50 65.70 M195.62 63.85L203.06 63.85 M195.62 63.85L195.62 65.70 M203.06 63.85L203.06 65.70 M242.12 58.05L296.43 58.05 M242.12 58.05L242.12 60.85 M296.43 58.05L296.43 63.45 M236.54 60.85L247.70 60.85 M236.54 60.85L236.54 64.45 M247.70 60.85L247.70 65.70 M232.82 64.45L240.26 64.45 M232.82 64.45L232.82 65.70 M240.26 64.45L240.26 65.70 M258.86 63.45L334.00 63.45 M258.86 63.45L258.86 64.95 M334.00 63.45L334.00 65.35 M255.14 64.95L262.58 64.95 M255.14 64.95L255.14 65.70 M262.58 64.95L262.58 65.70 M329.55 65.35L344.42 65.35 M329.55 65.35L329.55 65.35 M344.42 65.35L344.42 65.70 M322.13 65.35L336.98 65.35 M322.13 65.35L322.13 65.40 M336.98 65.35L336.98 65.70 M314.72 65.40L329.54 65.40 M314.72 65.40L314.72 65.45 M329.54 65.40L329.54 65.70 M307.34 65.45L322.10 65.45 M307.34 65.45L307.34 65.45 M322.10 65.45L322.10 65.70 M300.01 65.45L314.66 65.45 M300.01 65.45L300.01 65.55 M314.66 65.45L314.66 65.70 M292.81 65.55L307.22 65.55 M292.81 65.55L292.81 65.55 M307.22 65.55L307.22 65.70 M285.83 65.55L299.78 65.55 M285.83 65.55L285.83 65.65 M299.78 65.55L299.78 65.70 M279.32 65.65L292.34 65.65 M279.32 65.65L279.32 65.65 M292.34 65.65L292.34 65.70 M273.74 65.65L284.90 65.65 M273.74 65.65L273.74 65.75 M284.90 65.65L284.90 65.70 M270.02 65.75L277.46 65.75 M270.02 65.75L270.02 65.70 M277.46 65.75L277.46 65.70 M474.99 33.95L516.68 33.95 M474.99 33.95L474.99 38.85 M516.68 33.95L516.68 50.95 M450.97 38.85L499.01 38.85 M450.97 38.85L450.97 48.55 M499.01 38.85L499.01 57.25 M437.34 48.55L464.60 48.55 M437.34 48.55L437.34 53.15 M464.60 48.55L464.60 59.35 M428.69 53.15L446.00 53.15 M428.69 53.15L428.69 56.85 M446.00 53.15L446.00 65.70 M418.81 56.85L438.56 56.85 M418.81 56.85L418.81 60.85 M438.56 56.85L438.56 65.70 M406.50 60.85L431.12 60.85 M406.50 60.85L406.50 65.45 M431.12 60.85L431.12 65.70 M408.83 65.45L423.68 65.45 M408.83 65.45L408.83 65.45 M423.68 65.45L423.68 65.70 M401.42 65.45L416.24 65.45 M401.42 65.45L401.42 65.45 M416.24 65.45L416.24 65.70 M394.04 65.45L408.80 65.45 M394.04 65.45L394.04 65.45 M408.80 65.45L408.80 65.70 M386.71 65.45L401.36 65.45 M386.71 65.45L386.71 65.45 M401.36 65.45L401.36 65.70 M379.50 65.45L393.92 65.45 M379.50 65.45L379.50 65.45 M393.92 65.45L393.92 65.70 M372.53 65.45L386.48 65.45 M372.53 65.45L372.53 65.45 M386.48 65.45L386.48 65.70 M366.02 65.45L379.04 65.45 M366.02 65.45L366.02 65.45 M379.04 65.45L379.04 65.70 M360.44 65.45L371.60 65.45 M360.44 65.45L360.44 65.45 M371.60 65.45L371.60 65.70 M356.72 65.45L364.16 65.45 M356.72 65.45L356.72 65.70 M364.16 65.45L364.16 65.70 M457.16 59.35L472.04 59.35 M457.16 59.35L457.16 63.45 M472.04 59.35L472.04 64.15 M453.44 63.45L460.88 63.45 M453.44 63.45L453.44 65.70 M460.88 63.45L460.88 65.70 M468.32 64.15L475.76 64.15 M468.32 64.15L468.32 65.70 M475.76 64.15L475.76 65.70 M492.50 57.25L505.52 57.25 M492.50 57.25L492.50 61.65 M505.52 57.25L505.52 65.70 M486.92 61.65L498.08 61.65 M486.92 61.65L486.92 63.65 M498.08 61.65L498.08 65.70 M483.20 63.65L490.64 63.65 M483.20 63.65L483.20 65.70 M490.64 63.65L490.64 65.70 M512.96 50.95L520.40 50.95 M512.96 50.95L512.96 65.70 M520.40 50.95L520.40 65.70 M606.30 40.65L638.94 40.65 M606.30 40.65L606.30 43.15 M638.94 40.65L638.94 46.55 M594.13 43.15L618.48 43.15 M594.13 43.15L594.13 52.75 M618.48 43.15L618.48 55.45 M580.93 52.75L607.32 52.75 M580.93 52.75L580.93 58.55 M607.32 52.75L607.32 65.70 M567.56 58.55L594.30 58.55 M567.56 58.55L567.56 60.15 M594.30 58.55L594.30 61.05 M557.57 60.15L577.56 60.15 M557.57 60.15L557.57 62.85 M577.56 60.15L577.56 65.70 M548.73 62.85L566.40 62.85 M548.73 62.85L548.73 64.45 M566.40 62.85L566.40 64.05 M542.22 64.45L555.24 64.45 M542.22 64.45L542.22 65.05 M555.24 64.45L555.24 65.70 M536.64 65.05L547.80 65.05 M536.64 65.05L536.64 65.45 M547.80 65.05L547.80 65.70 M532.92 65.45L540.36 65.45 M532.92 65.45L532.92 65.70 M540.36 65.45L540.36 65.70 M562.68 64.05L570.12 64.05 M562.68 64.05L562.68 65.70 M570.12 64.05L570.12 65.70 M588.72 61.05L599.88 61.05 M588.72 61.05L588.72 63.45 M599.88 61.05L599.88 65.70 M585.00 63.45L592.44 63.45 M585.00 63.45L585.00 65.70 M592.44 63.45L592.44 65.70 M614.76 55.45L622.20 55.45 M614.76 55.45L614.76 65.70 M622.20 55.45L622.20 65.70 M633.36 46.55L644.52 46.55 M633.36 46.55L633.36 56.05 M644.52 46.55L644.52 65.70 M629.64 56.05L637.08 56.05 M629.64 56.05L629.64 65.70 M637.08 56.05L637.08 65.70" stroke="#2a2a2a" stroke-width="0.9" fill="none" stroke-linecap="square"/>
<text x="0" y="318.5" font-size="13.5" font-weight="bold">b</text>
<rect x="42.0" y="353.40" width="106.8" height="0.8" fill="#e4e4e4"/>
<rect x="42.0" y="377.00" width="106.8" height="0.8" fill="#e4e4e4"/>
<rect x="42.0" y="400.60" width="106.8" height="0.8" fill="#e4e4e4"/>
<rect x="42.0" y="424.10" width="106.8" height="0.8" fill="#e4e4e4"/>
<rect x="42.0" y="447.50" width="106.8" height="0.8" fill="#e4e4e4"/>
<rect x="42.0" y="471.10" width="106.8" height="0.8" fill="#e4e4e4"/>
<rect x="42.0" y="494.60" width="106.8" height="0.8" fill="#e4e4e4"/>
<rect x="42.0" y="518.20" width="106.8" height="0.8" fill="#e4e4e4"/>
<rect x="42.0" y="329.6" width="106.8" height="1.3" fill="#6e6e6e"/>
<rect x="42.0" y="435.35" width="106.8" height="1.3" fill="#6e6e6e"/>
<text x="36.6" y="332.70" font-size="6.9" text-anchor="end" fill="#222">1.0</text>
<text x="36.6" y="356.30" font-size="6.9" text-anchor="end" fill="#222">0.8</text>
<text x="36.6" y="379.90" font-size="6.9" text-anchor="end" fill="#222">0.6</text>
<text x="36.6" y="403.50" font-size="6.9" text-anchor="end" fill="#222">0.4</text>
<text x="36.6" y="427.00" font-size="6.9" text-anchor="end" fill="#222">0.2</text>
<text x="36.6" y="450.40" font-size="6.9" text-anchor="end" fill="#222">−0.2</text>
<text x="36.6" y="474.00" font-size="6.9" text-anchor="end" fill="#222">−0.4</text>
<text x="36.6" y="497.50" font-size="6.9" text-anchor="end" fill="#222">−0.6</text>
<text x="36.6" y="521.10" font-size="6.9" text-anchor="end" fill="#222">−0.8</text>
<path d="M42.7 375.0 C42.9 376.3 43.3 380.3 44.0 383.0 C44.7 385.7 45.7 388.3 47.0 391.0 C48.3 393.7 50.2 396.7 52.0 399.0 C53.8 401.3 55.7 403.0 58.0 405.0 C60.3 407.0 63.2 409.0 66.0 411.0 C68.8 413.0 71.8 414.8 75.0 417.0 C78.2 419.2 81.7 421.7 85.0 424.0 C88.3 426.3 91.7 429.1 95.0 431.0 C98.3 432.9 102.0 434.6 105.0 435.6 C108.0 436.6 110.5 436.3 113.0 436.8 C115.5 437.3 117.6 437.0 120.0 438.5 C122.4 440.0 125.2 443.4 127.6 445.6 C130.0 447.8 132.4 449.2 134.6 451.6 C136.8 454.0 139.2 457.1 141.0 460.0 C142.8 462.9 144.4 466.2 145.5 469.0 C146.6 471.8 147.1 474.1 147.6 477.0 C148.1 479.9 148.3 484.9 148.4 486.5" stroke="#e2e2e2" stroke-width="3.4" fill="none" stroke-linecap="round"/>
<text x="46.4" y="351.04" font-size="7.9" fill="#ef8a2e" textLength="26.6" lengthAdjust="spacingAndGlyphs">CEBPA</text>
<text x="43.6" y="373.77" font-size="6.3" fill="#3f82d6" textLength="20.3" lengthAdjust="spacingAndGlyphs">GATA2</text>
<text x="45.9" y="379.97" font-size="6.3" fill="#3f82d6" textLength="15.7" lengthAdjust="spacingAndGlyphs">ATF3</text>
<text x="48.2" y="387.27" font-size="6.3" fill="#3f82d6" textLength="36.2" lengthAdjust="spacingAndGlyphs">FOS FOSL1</text>
<text x="50.6" y="393.57" font-size="6.3" fill="#3f82d6" textLength="18.1" lengthAdjust="spacingAndGlyphs">JUND</text>
<text x="70.4" y="393.97" font-size="6.3" fill="#ef8a2e" textLength="22.8" lengthAdjust="spacingAndGlyphs">CEBPB</text>
<text x="55.5" y="400.57" font-size="6.3" fill="#3f82d6" textLength="13.2" lengthAdjust="spacingAndGlyphs">JUN</text>
<text x="65.7" y="408.87" font-size="6.3" fill="#3f82d6" textLength="20.5" lengthAdjust="spacingAndGlyphs">BATF2</text>
<text x="43.6" y="416.17" font-size="6.3" fill="#3f82d6" textLength="18.0" lengthAdjust="spacingAndGlyphs">FOSB</text>
<text x="74.8" y="414.97" font-size="6.3" fill="#ef8a2e" textLength="23.6" lengthAdjust="spacingAndGlyphs">CEBPG</text>
<text x="43.3" y="422.87" font-size="6.3" fill="#ef8a2e" textLength="22.7" lengthAdjust="spacingAndGlyphs">CEBPE</text>
<text x="85.7" y="421.97" font-size="6.3" fill="#3f82d6" textLength="21.5" lengthAdjust="spacingAndGlyphs">FOSL2</text>
<text x="55.9" y="427.27" font-size="6.3" fill="#3f82d6" textLength="19.8" lengthAdjust="spacingAndGlyphs">GATA1</text>
<text x="65.7" y="432.47" font-size="6.3" fill="#ef8a2e" textLength="23.1" lengthAdjust="spacingAndGlyphs">CEBPD</text>
<text x="101.4" y="433.37" font-size="6.3" fill="#3f82d6" textLength="20.3" lengthAdjust="spacingAndGlyphs">GATA4</text>
<text x="123.8" y="438.27" font-size="6.3" fill="#3f82d6" textLength="20.2" lengthAdjust="spacingAndGlyphs">BATF3</text>
<text x="64.3" y="438.97" font-size="6.3" fill="#ef8a2e" textLength="29.7" lengthAdjust="spacingAndGlyphs">ATF4 SP1</text>
<text x="76.0" y="445.77" font-size="6.3" fill="#ef8a2e" textLength="16.8" lengthAdjust="spacingAndGlyphs">KLF4</text>
<text x="93.9" y="445.07" font-size="6.3" fill="#3f82d6" textLength="16.5" lengthAdjust="spacingAndGlyphs">PDX1</text>
<text x="100.9" y="450.17" font-size="6.3" fill="#3f82d6" textLength="23.3" lengthAdjust="spacingAndGlyphs">HOXC9</text>
<text x="111.0" y="458.67" font-size="6.3" fill="#3f82d6" textLength="22.7" lengthAdjust="spacingAndGlyphs">HOXA9</text>
<text x="106.0" y="465.97" font-size="6.3" fill="#3f82d6" textLength="14.6" lengthAdjust="spacingAndGlyphs">TAL1</text>
<text x="122.8" y="465.97" font-size="6.3" fill="#ef8a2e" textLength="16.0" lengthAdjust="spacingAndGlyphs">KLF5</text>
<text x="121.3" y="471.77" font-size="6.3" fill="#3f82d6" textLength="22.6" lengthAdjust="spacingAndGlyphs">BACH2</text>
<text x="127.9" y="478.67" font-size="6.3" fill="#3f82d6" textLength="16.8" lengthAdjust="spacingAndGlyphs">BATF</text>
<text x="129.8" y="485.97" font-size="6.3" fill="#ef8a2e" textLength="16.3" lengthAdjust="spacingAndGlyphs">KLF9</text>
<text x="124.2" y="491.97" font-size="6.3" fill="#ef8a2e" textLength="23.1" lengthAdjust="spacingAndGlyphs">CEBPZ</text>
<circle cx="42.4" cy="348.2" r="1.45" fill="#ee8a2b"/>
<circle cx="42.7" cy="375.6" r="1.45" fill="#3b80d6"/>
<circle cx="43.8" cy="378.9" r="1.45" fill="#3b80d6"/>
<circle cx="47.1" cy="390.5" r="1.45" fill="#3b80d6"/>
<circle cx="48.9" cy="392.2" r="1.45" fill="#3b80d6"/>
<circle cx="52.0" cy="400.8" r="1.45" fill="#ee8a2b"/>
<circle cx="54.6" cy="402.2" r="1.45" fill="#3b80d6"/>
<circle cx="62.5" cy="409.6" r="1.45" fill="#3b80d6"/>
<circle cx="72.2" cy="415.7" r="1.45" fill="#3b80d6"/>
<circle cx="79.5" cy="421.0" r="1.45" fill="#3b80d6"/>
<circle cx="83.2" cy="422.9" r="1.45" fill="#ee8a2b"/>
<circle cx="90.6" cy="428.5" r="1.45" fill="#ee8a2b"/>
<circle cx="92.7" cy="430.6" r="1.45" fill="#ee8a2b"/>
<circle cx="97.2" cy="433.2" r="1.45" fill="#ee8a2b"/>
<circle cx="102.0" cy="436.0" r="1.45" fill="#3b80d6"/>
<circle cx="104.0" cy="436.0" r="1.45" fill="#3b80d6"/>
<circle cx="113.7" cy="436.0" r="1.45" fill="#3b80d6"/>
<circle cx="117.7" cy="436.4" r="1.45" fill="#3b80d6"/>
<circle cx="134.7" cy="451.6" r="1.45" fill="#3b80d6"/>
<circle cx="138.5" cy="455.4" r="1.45" fill="#ee8a2b"/>
<circle cx="145.4" cy="467.0" r="1.45" fill="#3b80d6"/>
<circle cx="146.1" cy="472.9" r="1.45" fill="#3b80d6"/>
<circle cx="147.2" cy="476.0" r="1.45" fill="#ee8a2b"/>
<circle cx="147.4" cy="478.0" r="1.45" fill="#ee8a2b"/>
<circle cx="147.6" cy="480.0" r="1.45" fill="#ee8a2b"/>
<text x="95.3" y="322.8" font-size="9.6" text-anchor="middle" fill="#5b63c5">Stem cells</text>
<text transform="translate(20.2,436.3) rotate(-90)" font-size="8.3" text-anchor="middle" fill="#222">Correlation r (Motif signal vs TF expression)</text>
<text x="95.4" y="530.6" font-size="8.6" text-anchor="middle" fill="#222">Rank</text>
<rect x="200.8" y="353.40" width="106.0" height="0.8" fill="#e4e4e4"/>
<rect x="200.8" y="377.00" width="106.0" height="0.8" fill="#e4e4e4"/>
<rect x="200.8" y="400.60" width="106.0" height="0.8" fill="#e4e4e4"/>
<rect x="200.8" y="424.10" width="106.0" height="0.8" fill="#e4e4e4"/>
<rect x="200.8" y="447.50" width="106.0" height="0.8" fill="#e4e4e4"/>
<rect x="200.8" y="471.10" width="106.0" height="0.8" fill="#e4e4e4"/>
<rect x="200.8" y="494.60" width="106.0" height="0.8" fill="#e4e4e4"/>
<rect x="200.8" y="518.20" width="106.0" height="0.8" fill="#e4e4e4"/>
<rect x="200.8" y="329.6" width="106.0" height="1.3" fill="#6e6e6e"/>
<rect x="200.8" y="435.35" width="106.0" height="1.3" fill="#6e6e6e"/>
<text x="195.2" y="332.70" font-size="6.9" text-anchor="end" fill="#222">1.0</text>
<text x="195.2" y="356.30" font-size="6.9" text-anchor="end" fill="#222">0.8</text>
<text x="195.2" y="379.90" font-size="6.9" text-anchor="end" fill="#222">0.6</text>
<text x="195.2" y="403.50" font-size="6.9" text-anchor="end" fill="#222">0.4</text>
<text x="195.2" y="427.00" font-size="6.9" text-anchor="end" fill="#222">0.2</text>
<text x="195.2" y="450.40" font-size="6.9" text-anchor="end" fill="#222">−0.2</text>
<text x="195.2" y="474.00" font-size="6.9" text-anchor="end" fill="#222">−0.4</text>
<text x="195.2" y="497.50" font-size="6.9" text-anchor="end" fill="#222">−0.6</text>
<text x="195.2" y="521.10" font-size="6.9" text-anchor="end" fill="#222">−0.8</text>
<path d="M201.0 345.0 C201.2 347.0 201.4 352.5 202.0 357.0 C202.6 361.5 203.4 366.9 204.5 372.0 C205.6 377.1 206.9 383.1 208.5 387.5 C210.1 391.9 212.2 395.6 214.0 398.5 C215.8 401.4 217.7 402.8 219.5 405.0 C221.3 407.2 222.6 408.7 225.0 411.5 C227.4 414.3 230.7 418.9 234.0 422.0 C237.3 425.1 242.0 427.8 245.0 430.0 C248.0 432.2 249.2 433.9 252.0 435.0 C254.8 436.1 258.7 436.1 262.0 436.5 C265.3 436.9 268.7 436.2 272.0 437.5 C275.3 438.8 278.8 442.2 282.0 444.5 C285.2 446.8 288.5 449.2 291.0 451.2 C293.5 453.2 295.1 454.2 297.0 456.5 C298.9 458.8 300.8 461.6 302.2 464.8 C303.6 468.1 304.7 472.3 305.4 476.0 C306.1 479.7 306.4 485.2 306.6 487.0" stroke="#e2e2e2" stroke-width="3.4" fill="none" stroke-linecap="round"/>
<text x="202.9" y="335.97" font-size="6.3" fill="#3f82d6" textLength="16.6" lengthAdjust="spacingAndGlyphs">EBF1</text>
<text x="203.4" y="344.17" font-size="6.3" fill="#3f82d6" textLength="16.1" lengthAdjust="spacingAndGlyphs">TCF4</text>
<text x="205.9" y="359.24" font-size="7.9" fill="#ef8a2e" textLength="26.8" lengthAdjust="spacingAndGlyphs">CEBPA</text>
<text x="205.9" y="373.97" font-size="6.3" fill="#3f82d6" textLength="23.3" lengthAdjust="spacingAndGlyphs">MEF2A</text>
<text x="207.6" y="380.57" font-size="6.3" fill="#3f82d6" textLength="23.3" lengthAdjust="spacingAndGlyphs">MEF2C</text>
<text x="210.4" y="387.97" font-size="6.3" fill="#ef8a2e" textLength="22.8" lengthAdjust="spacingAndGlyphs">CEBPE</text>
<text x="212.5" y="394.47" font-size="6.3" fill="#ef8a2e" textLength="23.7" lengthAdjust="spacingAndGlyphs">CEBPD</text>
<text x="219.2" y="401.07" font-size="6.3" fill="#ef8a2e" textLength="23.1" lengthAdjust="spacingAndGlyphs">CEBPB</text>
<text x="228.6" y="407.77" font-size="6.3" fill="#ef8a2e" textLength="18.1" lengthAdjust="spacingAndGlyphs">NFYB</text>
<text x="201.7" y="413.67" font-size="6.3" fill="#3f82d6" textLength="24.0" lengthAdjust="spacingAndGlyphs">ZBTB18</text>
<text x="229.7" y="414.57" font-size="6.3" fill="#3f82d6" textLength="16.5" lengthAdjust="spacingAndGlyphs">PAX6</text>
<text x="249.7" y="419.27" font-size="6.3" fill="#3f82d6" textLength="43.4" lengthAdjust="spacingAndGlyphs">OLIG2 ATOH1</text>
<text x="206.9" y="420.27" font-size="6.3" fill="#ef8a2e" textLength="17.9" lengthAdjust="spacingAndGlyphs">NFYC</text>
<text x="235.6" y="420.97" font-size="6.3" fill="#ef8a2e" textLength="11.6" lengthAdjust="spacingAndGlyphs">SP1</text>
<text x="213.4" y="426.77" font-size="6.3" fill="#ef8a2e" textLength="15.8" lengthAdjust="spacingAndGlyphs">KLF4</text>
<text x="245.8" y="426.77" font-size="6.3" fill="#ef8a2e" textLength="22.8" lengthAdjust="spacingAndGlyphs">CEBPZ</text>
<text x="269.5" y="425.97" font-size="6.3" fill="#3f82d6" textLength="21.0" lengthAdjust="spacingAndGlyphs">PTF1A</text>
<text x="255.4" y="430.87" font-size="6.3" fill="#3f82d6" textLength="20.2" lengthAdjust="spacingAndGlyphs">MYOG</text>
<text x="277.3" y="432.57" font-size="6.3" fill="#3f82d6" textLength="16.7" lengthAdjust="spacingAndGlyphs">TCF3</text>
<text x="226.2" y="437.27" font-size="6.3" fill="#3f82d6" textLength="19.6" lengthAdjust="spacingAndGlyphs">TCF12</text>
<text x="278.2" y="439.07" font-size="6.3" fill="#3f82d6" textLength="20.2" lengthAdjust="spacingAndGlyphs">ASCL1</text>
<text x="230.9" y="443.97" font-size="6.3" fill="#3f82d6" textLength="19.8" lengthAdjust="spacingAndGlyphs">TCF21</text>
<text x="252.8" y="444.27" font-size="6.3" fill="#3f82d6" textLength="18.4" lengthAdjust="spacingAndGlyphs">MYF5</text>
<text x="286.1" y="445.57" font-size="6.3" fill="#ef8a2e" textLength="20.1" lengthAdjust="spacingAndGlyphs">KLF14</text>
<text x="201.7" y="450.47" font-size="6.3" fill="#3f82d6" textLength="32.7" lengthAdjust="spacingAndGlyphs">NEUROD1</text>
<text x="234.4" y="451.67" font-size="6.3" fill="#3f82d6" textLength="23.7" lengthAdjust="spacingAndGlyphs">MYOD1</text>
<text x="265.1" y="450.77" font-size="6.3" fill="#3f82d6" textLength="16.6" lengthAdjust="spacingAndGlyphs">TBX5</text>
<text x="249.0" y="458.27" font-size="6.3" fill="#ef8a2e" textLength="24.0" lengthAdjust="spacingAndGlyphs">CEBPG</text>
<text x="274.7" y="458.67" font-size="6.3" fill="#ef8a2e" textLength="17.5" lengthAdjust="spacingAndGlyphs">NFYA</text>
<text x="273.0" y="465.37" font-size="6.3" fill="#3f82d6" textLength="24.5" lengthAdjust="spacingAndGlyphs">REPIN1</text>
<text x="286.6" y="473.77" font-size="6.3" fill="#ef8a2e" textLength="16.1" lengthAdjust="spacingAndGlyphs">KLF9</text>
<text x="287.9" y="481.47" font-size="6.3" fill="#ef8a2e" textLength="16.1" lengthAdjust="spacingAndGlyphs">KLF5</text>
<text x="290.5" y="488.07" font-size="6.3" fill="#3f82d6" textLength="14.9" lengthAdjust="spacingAndGlyphs">TAL1</text>
<circle cx="200.8" cy="330.9" r="1.45" fill="#3b80d6"/>
<circle cx="201.1" cy="341.5" r="1.45" fill="#3b80d6"/>
<circle cx="202.4" cy="357.7" r="1.45" fill="#ee8a2b"/>
<circle cx="208.7" cy="388.3" r="1.45" fill="#3b80d6"/>
<circle cx="210.4" cy="393.6" r="1.45" fill="#ee8a2b"/>
<circle cx="214.3" cy="398.8" r="1.45" fill="#3b80d6"/>
<circle cx="216.9" cy="401.5" r="1.45" fill="#ee8a2b"/>
<circle cx="219.0" cy="404.6" r="1.45" fill="#ee8a2b"/>
<circle cx="221.6" cy="407.6" r="1.45" fill="#ee8a2b"/>
<circle cx="223.9" cy="410.2" r="1.45" fill="#ee8a2b"/>
<circle cx="233.9" cy="422.4" r="1.45" fill="#3b80d6"/>
<circle cx="245.5" cy="430.1" r="1.45" fill="#3b80d6"/>
<circle cx="248.4" cy="431.9" r="1.45" fill="#ee8a2b"/>
<circle cx="250.2" cy="433.6" r="1.45" fill="#ee8a2b"/>
<circle cx="251.4" cy="435.0" r="1.45" fill="#3b80d6"/>
<circle cx="255.4" cy="436.3" r="1.45" fill="#3b80d6"/>
<circle cx="258.0" cy="436.3" r="1.45" fill="#3b80d6"/>
<circle cx="260.5" cy="436.3" r="1.45" fill="#3b80d6"/>
<circle cx="263.0" cy="436.3" r="1.45" fill="#3b80d6"/>
<circle cx="266.0" cy="436.3" r="1.45" fill="#3b80d6"/>
<circle cx="271.2" cy="436.8" r="1.45" fill="#3b80d6"/>
<circle cx="276.5" cy="441.5" r="1.45" fill="#ee8a2b"/>
<circle cx="282.2" cy="444.7" r="1.45" fill="#3b80d6"/>
<circle cx="287.9" cy="449.0" r="1.45" fill="#ee8a2b"/>
<circle cx="291.0" cy="451.2" r="1.45" fill="#ee8a2b"/>
<circle cx="294.9" cy="454.3" r="1.45" fill="#3b80d6"/>
<circle cx="302.2" cy="464.8" r="1.45" fill="#ee8a2b"/>
<circle cx="305.4" cy="476.6" r="1.45" fill="#ee8a2b"/>
<circle cx="306.4" cy="478.3" r="1.45" fill="#3b80d6"/>
<text x="253.6" y="322.8" font-size="9.6" text-anchor="middle" fill="#7ab648">Progenitor cells</text>
<text transform="translate(177.0,436.3) rotate(-90)" font-size="8.3" text-anchor="middle" fill="#222">Correlation r (Motif signal vs TF expression)</text>
<text x="253.8" y="530.6" font-size="8.6" text-anchor="middle" fill="#222">Rank</text>
<path d="M52 401 L52 411.5 M55.5 398.7 L66 394.3 M239 447 L249.5 436.8 M252 437 L256 428" stroke="#ee8a2b" stroke-width="0.4" fill="none"/>
<circle cx="316.5" cy="429" r="2.4" fill="#ee8a2b"/>
<text x="322.3" y="432.1" font-size="8.6" fill="#ef8a2e">Open</text>
<circle cx="316.5" cy="441.7" r="2.4" fill="#3b80d6"/>
<text x="322.3" y="444.9" font-size="8.6" fill="#3f82d6">Close</text>
<text x="369.6" y="318.6" font-size="13.5" font-weight="bold">c</text>
<text x="532.9" y="326.8" font-size="9" text-anchor="middle" fill="#5b6fd3">Stem</text>
<rect x="388" y="331.8" width="280.6" height="1" fill="#6f86dc"/>
<rect x="406.5" y="350.0" width="52.7" height="51.1" fill="none" stroke="#8c8c8c" stroke-width="0.8"/>
<text x="424.3" y="346.2" font-size="8.2" text-anchor="middle" fill="#111">Hoxa9(Homeobox)</text>
<text x="403.5" y="358.0" font-size="6.8" text-anchor="end" fill="#222">60</text>
<line x1="404.5" y1="355.6" x2="406.5" y2="355.6" stroke="#555" stroke-width="0.6"/>
<text x="403.5" y="372.5" font-size="6.8" text-anchor="end" fill="#222">40</text>
<line x1="404.5" y1="370.1" x2="406.5" y2="370.1" stroke="#555" stroke-width="0.6"/>
<text x="403.5" y="386.6" font-size="6.8" text-anchor="end" fill="#222">20</text>
<line x1="404.5" y1="384.2" x2="406.5" y2="384.2" stroke="#555" stroke-width="0.6"/>
<text x="403.5" y="400.5" font-size="6.8" text-anchor="end" fill="#222">0</text>
<line x1="404.5" y1="398.1" x2="406.5" y2="398.1" stroke="#555" stroke-width="0.6"/>
<line x1="412.7" y1="401.1" x2="412.7" y2="403.1" stroke="#555" stroke-width="0.6"/>
<line x1="422.7" y1="401.1" x2="422.7" y2="403.1" stroke="#555" stroke-width="0.6"/>
<line x1="432.7" y1="401.1" x2="432.7" y2="403.1" stroke="#555" stroke-width="0.6"/>
<line x1="442.7" y1="401.1" x2="442.7" y2="403.1" stroke="#555" stroke-width="0.6"/>
<line x1="452.7" y1="401.1" x2="452.7" y2="403.1" stroke="#555" stroke-width="0.6"/>
<polyline points="412.7,354.6 422.7,364.0 432.7,369.1 442.7,369.5 452.7,370.5" fill="none" stroke="#c3339f" stroke-width="0.95"/>
<circle cx="412.7" cy="354.6" r="2.5" fill="#c3339f"/>
<circle cx="422.7" cy="364.0" r="2.5" fill="#c3339f"/>
<circle cx="432.7" cy="369.1" r="2.5" fill="#c3339f"/>
<circle cx="442.7" cy="369.5" r="2.5" fill="#c3339f"/>
<circle cx="452.7" cy="370.5" r="2.5" fill="#c3339f"/>
<rect x="476.4" y="350.0" width="53.2" height="51.1" fill="none" stroke="#8c8c8c" stroke-width="0.8"/>
<text x="501.9" y="346.2" font-size="8.2" text-anchor="middle" fill="#111">KLF1(Zf)</text>
<text x="474.0" y="361.6" font-size="6.8" text-anchor="end" fill="#222">100</text>
<line x1="474.4" y1="359.2" x2="476.4" y2="359.2" stroke="#555" stroke-width="0.6"/>
<text x="474.0" y="371.2" font-size="6.8" text-anchor="end" fill="#222">75</text>
<line x1="474.4" y1="368.8" x2="476.4" y2="368.8" stroke="#555" stroke-width="0.6"/>
<text x="474.0" y="381.0" font-size="6.8" text-anchor="end" fill="#222">50</text>
<line x1="474.4" y1="378.6" x2="476.4" y2="378.6" stroke="#555" stroke-width="0.6"/>
<text x="474.0" y="390.6" font-size="6.8" text-anchor="end" fill="#222">25</text>
<line x1="474.4" y1="388.2" x2="476.4" y2="388.2" stroke="#555" stroke-width="0.6"/>
<text x="474.0" y="400.3" font-size="6.8" text-anchor="end" fill="#222">0</text>
<line x1="474.4" y1="397.9" x2="476.4" y2="397.9" stroke="#555" stroke-width="0.6"/>
<line x1="482.6" y1="401.1" x2="482.6" y2="403.1" stroke="#555" stroke-width="0.6"/>
<line x1="492.6" y1="401.1" x2="492.6" y2="403.1" stroke="#555" stroke-width="0.6"/>
<line x1="502.6" y1="401.1" x2="502.6" y2="403.1" stroke="#555" stroke-width="0.6"/>
<line x1="512.6" y1="401.1" x2="512.6" y2="403.1" stroke="#555" stroke-width="0.6"/>
<line x1="522.6" y1="401.1" x2="522.6" y2="403.1" stroke="#555" stroke-width="0.6"/>
<polyline points="482.6,372.3 492.6,368.0 502.6,367.0 512.6,366.0 522.6,354.5" fill="none" stroke="#c3339f" stroke-width="0.95"/>
<circle cx="482.6" cy="372.3" r="2.5" fill="#c3339f"/>
<circle cx="492.6" cy="368.0" r="2.5" fill="#c3339f"/>
<circle cx="502.6" cy="367.0" r="2.5" fill="#c3339f"/>
<circle cx="512.6" cy="366.0" r="2.5" fill="#c3339f"/>
<circle cx="522.6" cy="354.5" r="2.5" fill="#c3339f"/>
<rect x="546.1" y="350.0" width="53.1" height="51.1" fill="none" stroke="#8c8c8c" stroke-width="0.8"/>
<text x="571.4" y="346.2" font-size="8.2" text-anchor="middle" fill="#111">AP−1(bZIP)</text>
<text x="543.7" y="363.5" font-size="6.8" text-anchor="end" fill="#222">60</text>
<line x1="544.1" y1="361.1" x2="546.1" y2="361.1" stroke="#555" stroke-width="0.6"/>
<text x="543.7" y="375.9" font-size="6.8" text-anchor="end" fill="#222">40</text>
<line x1="544.1" y1="373.5" x2="546.1" y2="373.5" stroke="#555" stroke-width="0.6"/>
<text x="543.7" y="388.2" font-size="6.8" text-anchor="end" fill="#222">20</text>
<line x1="544.1" y1="385.8" x2="546.1" y2="385.8" stroke="#555" stroke-width="0.6"/>
<text x="543.7" y="400.4" font-size="6.8" text-anchor="end" fill="#222">0</text>
<line x1="544.1" y1="398.0" x2="546.1" y2="398.0" stroke="#555" stroke-width="0.6"/>
<line x1="552.3" y1="401.1" x2="552.3" y2="403.1" stroke="#555" stroke-width="0.6"/>
<line x1="562.3" y1="401.1" x2="562.3" y2="403.1" stroke="#555" stroke-width="0.6"/>
<line x1="572.3" y1="401.1" x2="572.3" y2="403.1" stroke="#555" stroke-width="0.6"/>
<line x1="582.3" y1="401.1" x2="582.3" y2="403.1" stroke="#555" stroke-width="0.6"/>
<line x1="592.3" y1="401.1" x2="592.3" y2="403.1" stroke="#555" stroke-width="0.6"/>
<polyline points="552.3,354.5 562.3,371.9 572.3,374.6 582.3,375.0 592.3,376.6" fill="none" stroke="#c3339f" stroke-width="0.95"/>
<circle cx="552.3" cy="354.5" r="2.5" fill="#c3339f"/>
<circle cx="562.3" cy="371.9" r="2.5" fill="#c3339f"/>
<circle cx="572.3" cy="374.6" r="2.5" fill="#c3339f"/>
<circle cx="582.3" cy="375.0" r="2.5" fill="#c3339f"/>
<circle cx="592.3" cy="376.6" r="2.5" fill="#c3339f"/>
<rect x="615.9" y="350.0" width="52.7" height="51.1" fill="none" stroke="#8c8c8c" stroke-width="0.8"/>
<text x="642.1" y="346.2" font-size="8.2" text-anchor="middle" fill="#111">CEBP(bZIP)</text>
<text x="613.0" y="360.4" font-size="6.8" text-anchor="end" fill="#222">40</text>
<line x1="613.9" y1="358.0" x2="615.9" y2="358.0" stroke="#555" stroke-width="0.6"/>
<text x="613.0" y="370.4" font-size="6.8" text-anchor="end" fill="#222">30</text>
<line x1="613.9" y1="368.0" x2="615.9" y2="368.0" stroke="#555" stroke-width="0.6"/>
<text x="613.0" y="380.4" font-size="6.8" text-anchor="end" fill="#222">20</text>
<line x1="613.9" y1="378.0" x2="615.9" y2="378.0" stroke="#555" stroke-width="0.6"/>
<text x="613.0" y="390.6" font-size="6.8" text-anchor="end" fill="#222">10</text>
<line x1="613.9" y1="388.2" x2="615.9" y2="388.2" stroke="#555" stroke-width="0.6"/>
<text x="613.0" y="400.3" font-size="6.8" text-anchor="end" fill="#222">0</text>
<line x1="613.9" y1="397.9" x2="615.9" y2="397.9" stroke="#555" stroke-width="0.6"/>
<line x1="622.1" y1="401.1" x2="622.1" y2="403.1" stroke="#555" stroke-width="0.6"/>
<line x1="632.1" y1="401.1" x2="632.1" y2="403.1" stroke="#555" stroke-width="0.6"/>
<line x1="642.1" y1="401.1" x2="642.1" y2="403.1" stroke="#555" stroke-width="0.6"/>
<line x1="652.1" y1="401.1" x2="652.1" y2="403.1" stroke="#555" stroke-width="0.6"/>
<line x1="662.1" y1="401.1" x2="662.1" y2="403.1" stroke="#555" stroke-width="0.6"/>
<polyline points="622.1,364.5 632.1,364.0 642.1,363.3 652.1,358.4 662.1,354.5" fill="none" stroke="#c3339f" stroke-width="0.95"/>
<circle cx="622.1" cy="364.5" r="2.5" fill="#c3339f"/>
<circle cx="632.1" cy="364.0" r="2.5" fill="#c3339f"/>
<circle cx="642.1" cy="363.3" r="2.5" fill="#c3339f"/>
<circle cx="652.1" cy="358.4" r="2.5" fill="#c3339f"/>
<circle cx="662.1" cy="354.5" r="2.5" fill="#c3339f"/>
<rect x="407.4" y="425.4" width="51.6" height="50.1" fill="none" stroke="#8c8c8c" stroke-width="0.8"/>
<text x="433.0" y="421.6" font-size="8.2" text-anchor="middle" fill="#111">HOXA9</text>
<text x="404.7" y="431.8" font-size="6.8" text-anchor="end" fill="#222">200</text>
<line x1="405.4" y1="429.4" x2="407.4" y2="429.4" stroke="#555" stroke-width="0.6"/>
<text x="404.7" y="442.6" font-size="6.8" text-anchor="end" fill="#222">150</text>
<line x1="405.4" y1="440.2" x2="407.4" y2="440.2" stroke="#555" stroke-width="0.6"/>
<text x="404.7" y="453.7" font-size="6.8" text-anchor="end" fill="#222">100</text>
<line x1="405.4" y1="451.3" x2="407.4" y2="451.3" stroke="#555" stroke-width="0.6"/>
<text x="404.7" y="464.5" font-size="6.8" text-anchor="end" fill="#222">50</text>
<line x1="405.4" y1="462.1" x2="407.4" y2="462.1" stroke="#555" stroke-width="0.6"/>
<text x="404.7" y="475.4" font-size="6.8" text-anchor="end" fill="#222">0</text>
<line x1="405.4" y1="473.0" x2="407.4" y2="473.0" stroke="#555" stroke-width="0.6"/>
<line x1="412.7" y1="475.5" x2="412.7" y2="477.5" stroke="#555" stroke-width="0.6"/>
<line x1="422.7" y1="475.5" x2="422.7" y2="477.5" stroke="#555" stroke-width="0.6"/>
<line x1="432.7" y1="475.5" x2="432.7" y2="477.5" stroke="#555" stroke-width="0.6"/>
<line x1="442.7" y1="475.5" x2="442.7" y2="477.5" stroke="#555" stroke-width="0.6"/>
<line x1="452.7" y1="475.5" x2="452.7" y2="477.5" stroke="#555" stroke-width="0.6"/>
<polyline points="412.7,462.7 422.7,430.0 432.7,448.8 442.7,443.7 452.7,448.4" fill="none" stroke="#5a5a5a" stroke-width="0.95"/>
<circle cx="412.7" cy="462.7" r="2.5" fill="#5a5a5a"/>
<circle cx="422.7" cy="430.0" r="2.5" fill="#5a5a5a"/>
<circle cx="432.7" cy="448.8" r="2.5" fill="#5a5a5a"/>
<circle cx="442.7" cy="443.7" r="2.5" fill="#5a5a5a"/>
<circle cx="452.7" cy="448.4" r="2.5" fill="#5a5a5a"/>
<rect x="476.6" y="425.4" width="51.3" height="50.1" fill="none" stroke="#8c8c8c" stroke-width="0.8"/>
<text x="501.9" y="421.6" font-size="8.2" text-anchor="middle" fill="#111">KLF1</text>
<text x="474.0" y="430.0" font-size="6.8" text-anchor="end" fill="#222">40</text>
<line x1="474.6" y1="427.6" x2="476.6" y2="427.6" stroke="#555" stroke-width="0.6"/>
<text x="474.0" y="441.4" font-size="6.8" text-anchor="end" fill="#222">30</text>
<line x1="474.6" y1="439.0" x2="476.6" y2="439.0" stroke="#555" stroke-width="0.6"/>
<text x="474.0" y="452.9" font-size="6.8" text-anchor="end" fill="#222">20</text>
<line x1="474.6" y1="450.5" x2="476.6" y2="450.5" stroke="#555" stroke-width="0.6"/>
<text x="474.0" y="464.4" font-size="6.8" text-anchor="end" fill="#222">10</text>
<line x1="474.6" y1="462.0" x2="476.6" y2="462.0" stroke="#555" stroke-width="0.6"/>
<text x="474.0" y="475.4" font-size="6.8" text-anchor="end" fill="#222">0</text>
<line x1="474.6" y1="473.0" x2="476.6" y2="473.0" stroke="#555" stroke-width="0.6"/>
<line x1="482.6" y1="475.5" x2="482.6" y2="477.5" stroke="#555" stroke-width="0.6"/>
<line x1="492.6" y1="475.5" x2="492.6" y2="477.5" stroke="#555" stroke-width="0.6"/>
<line x1="502.6" y1="475.5" x2="502.6" y2="477.5" stroke="#555" stroke-width="0.6"/>
<line x1="512.6" y1="475.5" x2="512.6" y2="477.5" stroke="#555" stroke-width="0.6"/>
<line x1="522.6" y1="475.5" x2="522.6" y2="477.5" stroke="#555" stroke-width="0.6"/>
<polyline points="482.6,469.8 492.6,466.9 502.6,435.6 512.6,429.9 522.6,456.5" fill="none" stroke="#5a5a5a" stroke-width="0.95"/>
<circle cx="482.6" cy="469.8" r="2.5" fill="#5a5a5a"/>
<circle cx="492.6" cy="466.9" r="2.5" fill="#5a5a5a"/>
<circle cx="502.6" cy="435.6" r="2.5" fill="#5a5a5a"/>
<circle cx="512.6" cy="429.9" r="2.5" fill="#5a5a5a"/>
<circle cx="522.6" cy="456.5" r="2.5" fill="#5a5a5a"/>
<rect x="545.9" y="425.4" width="51.6" height="50.1" fill="none" stroke="#8c8c8c" stroke-width="0.8"/>
<text x="571.5" y="421.6" font-size="8.2" text-anchor="middle" fill="#111">JUN</text>
<text x="542.9" y="435.2" font-size="6.8" text-anchor="end" fill="#222">600</text>
<line x1="543.9" y1="432.8" x2="545.9" y2="432.8" stroke="#555" stroke-width="0.6"/>
<text x="542.9" y="448.5" font-size="6.8" text-anchor="end" fill="#222">400</text>
<line x1="543.9" y1="446.1" x2="545.9" y2="446.1" stroke="#555" stroke-width="0.6"/>
<text x="542.9" y="462.1" font-size="6.8" text-anchor="end" fill="#222">200</text>
<line x1="543.9" y1="459.7" x2="545.9" y2="459.7" stroke="#555" stroke-width="0.6"/>
<text x="542.9" y="475.6" font-size="6.8" text-anchor="end" fill="#222">0</text>
<line x1="543.9" y1="473.2" x2="545.9" y2="473.2" stroke="#555" stroke-width="0.6"/>
<line x1="552.3" y1="475.5" x2="552.3" y2="477.5" stroke="#555" stroke-width="0.6"/>
<line x1="562.3" y1="475.5" x2="562.3" y2="477.5" stroke="#555" stroke-width="0.6"/>
<line x1="572.3" y1="475.5" x2="572.3" y2="477.5" stroke="#555" stroke-width="0.6"/>
<line x1="582.3" y1="475.5" x2="582.3" y2="477.5" stroke="#555" stroke-width="0.6"/>
<line x1="592.3" y1="475.5" x2="592.3" y2="477.5" stroke="#555" stroke-width="0.6"/>
<polyline points="552.3,429.9 562.3,460.9 572.3,464.1 582.3,451.4 592.3,465.6" fill="none" stroke="#5a5a5a" stroke-width="0.95"/>
<circle cx="552.3" cy="429.9" r="2.5" fill="#5a5a5a"/>
<circle cx="562.3" cy="460.9" r="2.5" fill="#5a5a5a"/>
<circle cx="572.3" cy="464.1" r="2.5" fill="#5a5a5a"/>
<circle cx="582.3" cy="451.4" r="2.5" fill="#5a5a5a"/>
<circle cx="592.3" cy="465.6" r="2.5" fill="#5a5a5a"/>
<rect x="616.5" y="425.4" width="52.0" height="50.1" fill="none" stroke="#8c8c8c" stroke-width="0.8"/>
<text x="642.2" y="421.6" font-size="8.2" text-anchor="middle" fill="#111">CEBPA</text>
<text x="613.3" y="438.3" font-size="6.8" text-anchor="end" fill="#222">750</text>
<line x1="614.5" y1="435.9" x2="616.5" y2="435.9" stroke="#555" stroke-width="0.6"/>
<text x="613.3" y="450.8" font-size="6.8" text-anchor="end" fill="#222">500</text>
<line x1="614.5" y1="448.4" x2="616.5" y2="448.4" stroke="#555" stroke-width="0.6"/>
<text x="613.3" y="463.2" font-size="6.8" text-anchor="end" fill="#222">250</text>
<line x1="614.5" y1="460.8" x2="616.5" y2="460.8" stroke="#555" stroke-width="0.6"/>
<text x="613.3" y="475.4" font-size="6.8" text-anchor="end" fill="#222">0</text>
<line x1="614.5" y1="473.0" x2="616.5" y2="473.0" stroke="#555" stroke-width="0.6"/>
<line x1="622.1" y1="475.5" x2="622.1" y2="477.5" stroke="#555" stroke-width="0.6"/>
<line x1="632.1" y1="475.5" x2="632.1" y2="477.5" stroke="#555" stroke-width="0.6"/>
<line x1="642.1" y1="475.5" x2="642.1" y2="477.5" stroke="#555" stroke-width="0.6"/>
<line x1="652.1" y1="475.5" x2="652.1" y2="477.5" stroke="#555" stroke-width="0.6"/>
<line x1="662.1" y1="475.5" x2="662.1" y2="477.5" stroke="#555" stroke-width="0.6"/>
<polyline points="622.1,472.5 632.1,466.4 642.1,468.4 652.1,463.4 662.1,429.8" fill="none" stroke="#5a5a5a" stroke-width="0.95"/>
<circle cx="622.1" cy="472.5" r="2.5" fill="#5a5a5a"/>
<circle cx="632.1" cy="466.4" r="2.5" fill="#5a5a5a"/>
<circle cx="642.1" cy="468.4" r="2.5" fill="#5a5a5a"/>
<circle cx="652.1" cy="463.4" r="2.5" fill="#5a5a5a"/>
<circle cx="662.1" cy="429.8" r="2.5" fill="#5a5a5a"/>
<text transform="translate(415.7,480.8) rotate(-90)" font-size="8.2" text-anchor="end" fill="#111">Normal</text>
<text transform="translate(425.7,480.8) rotate(-90)" font-size="8.2" text-anchor="end" fill="#a0a0a0">CCUS/ICUS</text>
<text transform="translate(435.7,480.8) rotate(-90)" font-size="8.2" text-anchor="end" fill="#c9a80c">MDS-MLD</text>
<text transform="translate(445.7,480.8) rotate(-90)" font-size="8.2" text-anchor="end" fill="#c8674f">MDS-EB</text>
<text transform="translate(455.7,480.8) rotate(-90)" font-size="8.2" text-anchor="end" fill="#8a2c9c">AML-MRC</text>
<text transform="translate(485.6,480.8) rotate(-90)" font-size="8.2" text-anchor="end" fill="#111">Normal</text>
<text transform="translate(495.6,480.8) rotate(-90)" font-size="8.2" text-anchor="end" fill="#a0a0a0">CCUS/ICUS</text>
<text transform="translate(505.6,480.8) rotate(-90)" font-size="8.2" text-anchor="end" fill="#c9a80c">MDS-MLD</text>
<text transform="translate(515.6,480.8) rotate(-90)" font-size="8.2" text-anchor="end" fill="#c8674f">MDS-EB</text>
<text transform="translate(525.6,480.8) rotate(-90)" font-size="8.2" text-anchor="end" fill="#8a2c9c">AML-MRC</text>
<text transform="translate(555.3,480.8) rotate(-90)" font-size="8.2" text-anchor="end" fill="#111">Normal</text>
<text transform="translate(565.3,480.8) rotate(-90)" font-size="8.2" text-anchor="end" fill="#a0a0a0">CCUS/ICUS</text>
<text transform="translate(575.3,480.8) rotate(-90)" font-size="8.2" text-anchor="end" fill="#c9a80c">MDS-MLD</text>
<text transform="translate(585.3,480.8) rotate(-90)" font-size="8.2" text-anchor="end" fill="#c8674f">MDS-EB</text>
<text transform="translate(595.3,480.8) rotate(-90)" font-size="8.2" text-anchor="end" fill="#8a2c9c">AML-MRC</text>
<text transform="translate(625.1,480.8) rotate(-90)" font-size="8.2" text-anchor="end" fill="#111">Normal</text>
<text transform="translate(635.1,480.8) rotate(-90)" font-size="8.2" text-anchor="end" fill="#a0a0a0">CCUS/ICUS</text>
<text transform="translate(645.1,480.8) rotate(-90)" font-size="8.2" text-anchor="end" fill="#c9a80c">MDS-MLD</text>
<text transform="translate(655.1,480.8) rotate(-90)" font-size="8.2" text-anchor="end" fill="#c8674f">MDS-EB</text>
<text transform="translate(665.1,480.8) rotate(-90)" font-size="8.2" text-anchor="end" fill="#8a2c9c">AML-MRC</text>
<text transform="translate(380.2,375.6) rotate(-90)" font-size="9.6" text-anchor="middle" fill="#c3339f">Motif</text>
<text transform="translate(391.5,376.6) rotate(-90)" font-size="6.9" text-anchor="middle" fill="#111">Motif score</text>
<text transform="translate(380.2,450.9) rotate(-90)" font-size="9.6" text-anchor="middle" fill="#777">Expression</text>
<text transform="translate(391.5,449.9) rotate(-90)" font-size="6.6" text-anchor="middle" fill="#111">TPM</text>
<text x="-0.5" y="559.3" font-size="13.5" font-weight="bold">d</text>
<text x="156.5" y="564.8" font-size="9" text-anchor="middle" fill="#5b6fd3">Stem</text>
<rect x="15.3" y="571.6" width="282.2" height="0.9" fill="#6f86dc"/>
<text x="438.5" y="565.2" font-size="9.4" text-anchor="middle" fill="#80b85c">Progenitor</text>
<rect x="331.7" y="571.7" width="213.1" height="0.9" fill="#8cc36a"/>
<ellipse cx="87.7" cy="663.2" rx="54.2" ry="65.9" fill="none" stroke="#b4b4b4" stroke-width="0.7"/>
<text x="83.6" y="592.0" font-size="8.4" text-anchor="middle" fill="#707070">AP-1</text>
<ellipse cx="68.2" cy="769.5" rx="53.0" ry="39.0" fill="none" stroke="#b4b4b4" stroke-width="0.7"/>
<text x="67.5" y="821.0" font-size="8.4" text-anchor="middle" fill="#707070">KLF/SP</text>
<ellipse cx="171.5" cy="671.0" rx="34.5" ry="19.0" fill="none" stroke="#b4b4b4" stroke-width="0.7" transform="rotate(-16 171.5 671.0)"/>
<text x="164.9" y="649.2" font-size="8.4" text-anchor="middle" fill="#707070">CEBP</text>
<ellipse cx="230.6" cy="650.9" rx="32.1" ry="26.0" fill="none" stroke="#b4b4b4" stroke-width="0.7"/>
<text x="231.8" y="619.9" font-size="8.4" text-anchor="middle" fill="#707070">GATA</text>
<ellipse cx="261.9" cy="712.7" rx="35.9" ry="25.6" fill="none" stroke="#b4b4b4" stroke-width="0.7"/>
<text x="284.1" y="684.9" font-size="8.4" text-anchor="middle" fill="#707070">homeobox</text>
<line x1="61.1" y1="618.0" x2="87.4" y2="644.8" stroke="#f5ad6c" stroke-width="0.80"/>
<line x1="105.4" y1="611.6" x2="87.4" y2="644.8" stroke="#f5ad6c" stroke-width="0.80"/>
<line x1="53.8" y1="662.1" x2="87.4" y2="644.8" stroke="#f5ad6c" stroke-width="0.80"/>
<line x1="124.7" y1="651.2" x2="87.4" y2="644.8" stroke="#f5ad6c" stroke-width="0.80"/>
<line x1="87.4" y1="644.8" x2="93.4" y2="681.6" stroke="#f5ad6c" stroke-width="0.80"/>
<line x1="87.4" y1="644.8" x2="88.4" y2="708.9" stroke="#f5ad6c" stroke-width="0.80"/>
<line x1="87.4" y1="644.8" x2="72.4" y2="718.3" stroke="#f5ad6c" stroke-width="0.80"/>
<line x1="87.4" y1="644.8" x2="104.2" y2="721.5" stroke="#f5ad6c" stroke-width="0.80"/>
<line x1="93.4" y1="681.6" x2="72.4" y2="718.3" stroke="#f5ad6c" stroke-width="0.80"/>
<line x1="93.4" y1="681.6" x2="88.4" y2="708.9" stroke="#f5ad6c" stroke-width="0.80"/>
<line x1="93.4" y1="681.6" x2="104.2" y2="721.5" stroke="#f5ad6c" stroke-width="0.80"/>
<line x1="185.0" y1="661.4" x2="154.0" y2="682.5" stroke="#f0892a" stroke-width="2.00"/>
<line x1="185.0" y1="661.4" x2="178.5" y2="678.5" stroke="#f0892a" stroke-width="1.60"/>
<line x1="185.0" y1="661.4" x2="177.5" y2="688.2" stroke="#f0892a" stroke-width="2.00"/>
<line x1="177.5" y1="688.2" x2="186.8" y2="699.8" stroke="#f39a48" stroke-width="1.20"/>
<line x1="154.0" y1="682.5" x2="177.5" y2="688.2" stroke="#f39a48" stroke-width="1.00"/>
<line x1="178.5" y1="678.5" x2="177.5" y2="688.2" stroke="#f39a48" stroke-width="1.00"/>
<line x1="185.0" y1="661.4" x2="212.4" y2="645.0" stroke="#f5ad6c" stroke-width="0.80"/>
<line x1="215.6" y1="701.9" x2="241.7" y2="695.0" stroke="#f08c2c" stroke-width="0.90"/>
<line x1="241.9" y1="668.7" x2="241.7" y2="695.0" stroke="#3f86d8" stroke-width="1.00"/>
<line x1="229.2" y1="631.6" x2="212.4" y2="645.0" stroke="#f5ad6c" stroke-width="0.80"/>
<line x1="229.2" y1="631.6" x2="234.6" y2="650.3" stroke="#f5ad6c" stroke-width="0.90"/>
<line x1="229.2" y1="631.6" x2="245.5" y2="643.2" stroke="#f5ad6c" stroke-width="0.80"/>
<line x1="229.2" y1="631.6" x2="225.7" y2="657.9" stroke="#f5ad6c" stroke-width="0.80"/>
<line x1="212.4" y1="645.0" x2="225.7" y2="657.9" stroke="#f5ad6c" stroke-width="0.80"/>
<line x1="234.6" y1="650.3" x2="241.9" y2="668.7" stroke="#f5ad6c" stroke-width="0.80"/>
<line x1="225.7" y1="657.9" x2="241.9" y2="668.7" stroke="#f5ad6c" stroke-width="0.80"/>
<line x1="245.5" y1="643.2" x2="241.9" y2="668.7" stroke="#f5ad6c" stroke-width="0.80"/>
<line x1="212.4" y1="645.0" x2="234.6" y2="650.3" stroke="#f5ad6c" stroke-width="0.80"/>
<line x1="241.7" y1="695.0" x2="258.0" y2="710.4" stroke="#f5ad6c" stroke-width="0.80"/>
<line x1="241.7" y1="695.0" x2="247.0" y2="722.9" stroke="#f5ad6c" stroke-width="0.80"/>
<line x1="270.9" y1="698.3" x2="276.1" y2="726.8" stroke="#f5ad6c" stroke-width="0.80"/>
<line x1="270.9" y1="698.3" x2="258.0" y2="710.4" stroke="#f5ad6c" stroke-width="0.80"/>
<line x1="258.0" y1="710.4" x2="276.1" y2="726.8" stroke="#f5ad6c" stroke-width="0.80"/>
<line x1="247.0" y1="722.9" x2="258.0" y2="710.4" stroke="#f5ad6c" stroke-width="0.80"/>
<line x1="56.4" y1="734.2" x2="96.3" y2="747.6" stroke="#f5a860" stroke-width="0.80"/>
<line x1="56.4" y1="734.2" x2="76.0" y2="758.3" stroke="#f5a860" stroke-width="0.80"/>
<line x1="56.4" y1="734.2" x2="40.0" y2="762.7" stroke="#f5a860" stroke-width="0.80"/>
<line x1="56.4" y1="734.2" x2="31.7" y2="771.0" stroke="#f5a860" stroke-width="0.80"/>
<line x1="56.4" y1="734.2" x2="76.9" y2="780.0" stroke="#f5a860" stroke-width="0.80"/>
<line x1="56.4" y1="734.2" x2="96.3" y2="792.2" stroke="#f5a860" stroke-width="0.80"/>
<line x1="56.4" y1="734.2" x2="53.8" y2="801.0" stroke="#f5a860" stroke-width="0.80"/>
<line x1="96.3" y1="747.6" x2="76.0" y2="758.3" stroke="#f5a860" stroke-width="0.80"/>
<line x1="96.3" y1="747.6" x2="40.0" y2="762.7" stroke="#f5a860" stroke-width="0.80"/>
<line x1="96.3" y1="747.6" x2="31.7" y2="771.0" stroke="#f5a860" stroke-width="0.80"/>
<line x1="96.3" y1="747.6" x2="76.9" y2="780.0" stroke="#f5a860" stroke-width="0.80"/>
<line x1="96.3" y1="747.6" x2="96.3" y2="792.2" stroke="#f5a860" stroke-width="0.80"/>
<line x1="96.3" y1="747.6" x2="53.8" y2="801.0" stroke="#f5a860" stroke-width="0.80"/>
<line x1="76.0" y1="758.3" x2="40.0" y2="762.7" stroke="#f5a860" stroke-width="0.80"/>
<line x1="76.0" y1="758.3" x2="31.7" y2="771.0" stroke="#f5a860" stroke-width="0.80"/>
<line x1="76.0" y1="758.3" x2="76.9" y2="780.0" stroke="#f5a860" stroke-width="0.80"/>
<line x1="76.0" y1="758.3" x2="96.3" y2="792.2" stroke="#f5a860" stroke-width="0.80"/>
<line x1="76.0" y1="758.3" x2="53.8" y2="801.0" stroke="#f5a860" stroke-width="0.80"/>
<line x1="40.0" y1="762.7" x2="31.7" y2="771.0" stroke="#f5a860" stroke-width="0.80"/>
<line x1="40.0" y1="762.7" x2="76.9" y2="780.0" stroke="#f5a860" stroke-width="0.80"/>
<line x1="40.0" y1="762.7" x2="96.3" y2="792.2" stroke="#f5a860" stroke-width="0.80"/>
<line x1="40.0" y1="762.7" x2="53.8" y2="801.0" stroke="#f5a860" stroke-width="0.80"/>
<line x1="31.7" y1="771.0" x2="76.9" y2="780.0" stroke="#f5a860" stroke-width="0.80"/>
<line x1="31.7" y1="771.0" x2="96.3" y2="792.2" stroke="#f5a860" stroke-width="0.80"/>
<line x1="31.7" y1="771.0" x2="53.8" y2="801.0" stroke="#f5a860" stroke-width="0.80"/>
<line x1="76.9" y1="780.0" x2="96.3" y2="792.2" stroke="#f5a860" stroke-width="0.80"/>
<line x1="76.9" y1="780.0" x2="53.8" y2="801.0" stroke="#f5a860" stroke-width="0.80"/>
<line x1="96.3" y1="792.2" x2="53.8" y2="801.0" stroke="#f5a860" stroke-width="0.80"/>
<ellipse cx="87.4" cy="644.8" rx="17.7" ry="5.6" fill="#dbe3f6" stroke="#3f86d8" stroke-width="0.90"/><text transform="translate(87.40,647.51) scale(1,1.13)" font-size="6.70" text-anchor="middle" fill="#111" stroke="none">FOSL2</text>
<ellipse cx="61.1" cy="618.0" rx="20.0" ry="6.5" fill="#dbe3f6" stroke="#3f86d8" stroke-width="0.90"/><text transform="translate(61.10,621.00) scale(1,1.13)" font-size="7.40" text-anchor="middle" fill="#111" stroke="none">FRA1</text>
<ellipse cx="105.4" cy="611.6" rx="20.1" ry="6.5" fill="#dbe3f6" stroke="#3f86d8" stroke-width="0.90"/><text transform="translate(105.40,614.92) scale(1,1.13)" font-size="8.20" text-anchor="middle" fill="#111" stroke="none">ATF3</text>
<ellipse cx="124.7" cy="651.2" rx="19.1" ry="6.3" fill="#dbe3f6" stroke="#3f86d8" stroke-width="0.90"/><text transform="translate(124.70,653.91) scale(1,1.13)" font-size="6.70" text-anchor="middle" fill="#111" stroke="none">JUNB</text>
<ellipse cx="53.8" cy="662.1" rx="19.6" ry="6.6" fill="#dbe3f6" stroke="#3f86d8" stroke-width="0.90"/><text transform="translate(53.80,665.30) scale(1,1.13)" font-size="7.90" text-anchor="middle" fill="#111" stroke="none">AP-1</text>
<ellipse cx="93.4" cy="681.6" rx="19.4" ry="6.6" fill="#dbe3f6" stroke="#3f86d8" stroke-width="0.90"/><text transform="translate(93.40,684.23) scale(1,1.13)" font-size="6.50" text-anchor="middle" fill="#111" stroke="none">FOS</text>
<ellipse cx="88.4" cy="708.9" rx="14.6" ry="4.9" fill="#dbe3f6" stroke="#3f86d8" stroke-width="0.90"/><text transform="translate(88.40,711.13) scale(1,1.13)" font-size="5.50" text-anchor="middle" fill="#111" stroke="none">BACH2</text>
<ellipse cx="72.4" cy="718.3" rx="17.0" ry="5.6" fill="#dbe3f6" stroke="#3f86d8" stroke-width="0.90"/><text transform="translate(72.40,720.89) scale(1,1.13)" font-size="6.40" text-anchor="middle" fill="#111" stroke="none">JUN-AP1</text>
<ellipse cx="104.2" cy="721.5" rx="19.2" ry="6.6" fill="#dbe3f6" stroke="#3f86d8" stroke-width="0.90"/><text transform="translate(104.20,724.42) scale(1,1.13)" font-size="7.20" text-anchor="middle" fill="#111" stroke="none">FRA2</text>
<ellipse cx="56.4" cy="734.2" rx="14.9" ry="4.8" fill="#ffffff" stroke="#f08c2c" stroke-width="0.90"/><text transform="translate(56.40,736.47) scale(1,1.13)" font-size="5.60" text-anchor="middle" fill="#111" stroke="none">KLF5</text>
<ellipse cx="96.3" cy="747.6" rx="15.3" ry="5.1" fill="#ffffff" stroke="#f08c2c" stroke-width="0.90"/><text transform="translate(96.30,750.07) scale(1,1.13)" font-size="6.10" text-anchor="middle" fill="#111" stroke="none">KLF1</text>
<ellipse cx="76.0" cy="758.3" rx="15.5" ry="4.9" fill="#ffffff" stroke="#f08c2c" stroke-width="0.90"/><text transform="translate(76.00,760.57) scale(1,1.13)" font-size="5.60" text-anchor="middle" fill="#111" stroke="none">KLF9</text>
<ellipse cx="40.0" cy="762.7" rx="14.6" ry="4.4" fill="#ffffff" stroke="#f08c2c" stroke-width="0.90"/><text transform="translate(40.00,764.97) scale(1,1.13)" font-size="5.60" text-anchor="middle" fill="#111" stroke="none">SP5</text>
<ellipse cx="31.7" cy="771.0" rx="16.8" ry="5.7" fill="#ffffff" stroke="#f08c2c" stroke-width="0.90"/><text transform="translate(31.70,773.39) scale(1,1.13)" font-size="5.90" text-anchor="middle" fill="#111" stroke="none">SP1</text>
<ellipse cx="76.9" cy="780.0" rx="14.6" ry="4.6" fill="#ffffff" stroke="#f08c2c" stroke-width="0.90"/><text transform="translate(76.90,782.39) scale(1,1.13)" font-size="5.90" text-anchor="middle" fill="#111" stroke="none">KLF6</text>
<ellipse cx="96.3" cy="792.2" rx="16.2" ry="5.0" fill="#e7f3da" stroke="#f08c2c" stroke-width="0.90"/><text transform="translate(96.30,794.83) scale(1,1.13)" font-size="6.50" text-anchor="middle" fill="#111" stroke="none">KLF3</text>
<ellipse cx="53.8" cy="801.0" rx="14.9" ry="4.6" fill="#ffffff" stroke="#f08c2c" stroke-width="0.90"/><text transform="translate(53.80,803.31) scale(1,1.13)" font-size="5.70" text-anchor="middle" fill="#111" stroke="none">KLF4</text>
<ellipse cx="178.5" cy="678.5" rx="15.0" ry="4.7" fill="#ffffff" stroke="#f08c2c" stroke-width="0.90"/><text transform="translate(178.50,681.01) scale(1,1.13)" font-size="6.20" text-anchor="middle" fill="#111" stroke="none">NFIL3</text>
<ellipse cx="186.8" cy="699.8" rx="14.6" ry="4.7" fill="#ffffff" stroke="#f08c2c" stroke-width="0.90"/><text transform="translate(186.80,702.35) scale(1,1.13)" font-size="6.30" text-anchor="middle" fill="#111" stroke="none">ATF4</text>
<ellipse cx="215.6" cy="701.9" rx="14.2" ry="4.0" fill="#ffffff" stroke="#3f86d8" stroke-width="0.90"/><text transform="translate(215.60,703.72) scale(1,1.13)" font-size="4.50" text-anchor="middle" fill="#111" stroke="none">NF1-Halfsite</text>
<ellipse cx="154.0" cy="682.5" rx="15.3" ry="5.1" fill="#e7f3da" stroke="#f08c2c" stroke-width="0.90"/><text transform="translate(154.00,684.81) scale(1,1.13)" font-size="5.70" text-anchor="middle" fill="#111" stroke="none">CEBP:AP1</text>
<ellipse cx="177.5" cy="688.2" rx="16.2" ry="4.9" fill="#e7f3da" stroke="#f08c2c" stroke-width="0.90"/><text transform="translate(177.50,690.75) scale(1,1.13)" font-size="6.30" text-anchor="middle" fill="#111" stroke="none">HLF</text>
<ellipse cx="185.0" cy="661.4" rx="21.5" ry="7.3" fill="#e7f3da" stroke="#f08c2c" stroke-width="1.25"/><text transform="translate(185.00,664.96) scale(1,1.13)" font-size="8.80" text-anchor="middle" fill="#111" stroke="none">CEBP</text>
<ellipse cx="229.2" cy="631.6" rx="14.3" ry="4.4" fill="#e7f3da" stroke="#3f86d8" stroke-width="0.90"/><text transform="translate(229.20,633.99) scale(1,1.13)" font-size="5.90" text-anchor="middle" fill="#111" stroke="none">GATA6</text>
<ellipse cx="245.5" cy="643.2" rx="14.3" ry="4.4" fill="#e7f3da" stroke="#3f86d8" stroke-width="0.90"/><text transform="translate(245.50,645.63) scale(1,1.13)" font-size="6.00" text-anchor="middle" fill="#111" stroke="none">GATA3</text>
<ellipse cx="212.4" cy="645.0" rx="14.1" ry="4.4" fill="#e7f3da" stroke="#3f86d8" stroke-width="0.90"/><text transform="translate(212.40,647.07) scale(1,1.13)" font-size="5.10" text-anchor="middle" fill="#111" stroke="none">GATA:SCL</text>
<ellipse cx="234.6" cy="650.3" rx="15.1" ry="5.0" fill="#e7f3da" stroke="#3f86d8" stroke-width="0.90"/><text transform="translate(234.60,652.49) scale(1,1.13)" font-size="5.40" text-anchor="middle" fill="#111" stroke="none">TRPS1</text>
<ellipse cx="225.7" cy="657.9" rx="14.3" ry="4.4" fill="#e7f3da" stroke="#3f86d8" stroke-width="0.90"/><text transform="translate(225.70,660.33) scale(1,1.13)" font-size="6.00" text-anchor="middle" fill="#111" stroke="none">GATA4</text>
<ellipse cx="219.2" cy="666.6" rx="14.3" ry="4.4" fill="#e7f3da" stroke="#3f86d8" stroke-width="0.90"/><text transform="translate(219.20,668.95) scale(1,1.13)" font-size="5.80" text-anchor="middle" fill="#111" stroke="none">GATA2</text>
<ellipse cx="241.9" cy="668.7" rx="13.0" ry="4.7" fill="#e7f3da" stroke="#3f86d8" stroke-width="0.90"/><text transform="translate(241.90,670.93) scale(1,1.13)" font-size="5.50" text-anchor="middle" fill="#111" stroke="none">GATA1</text>
<ellipse cx="241.7" cy="695.0" rx="14.5" ry="4.6" fill="#dbe3f6" stroke="#3f86d8" stroke-width="0.90"/><text transform="translate(241.70,696.82) scale(1,1.13)" font-size="4.50" text-anchor="middle" fill="#111" stroke="none">ETS:E-BOX</text>
<ellipse cx="270.9" cy="698.3" rx="17.4" ry="5.3" fill="#dbe3f6" stroke="#3f86d8" stroke-width="0.90"/><text transform="translate(270.90,701.09) scale(1,1.13)" font-size="6.90" text-anchor="middle" fill="#111" stroke="none">HOXC9</text>
<ellipse cx="258.0" cy="710.4" rx="15.9" ry="4.9" fill="#dbe3f6" stroke="#3f86d8" stroke-width="0.90"/><text transform="translate(258.00,712.75) scale(1,1.13)" font-size="5.80" text-anchor="middle" fill="#111" stroke="none">PDX1</text>
<ellipse cx="247.0" cy="722.9" rx="17.1" ry="5.6" fill="#dbe3f6" stroke="#3f86d8" stroke-width="0.90"/><text transform="translate(247.00,725.65) scale(1,1.13)" font-size="6.80" text-anchor="middle" fill="#111" stroke="none">HOXA9</text>
<ellipse cx="276.1" cy="726.8" rx="16.9" ry="5.6" fill="#dbe3f6" stroke="#3f86d8" stroke-width="0.90"/><text transform="translate(276.10,729.35) scale(1,1.13)" font-size="6.30" text-anchor="middle" fill="#111" stroke="none">PBX2</text>
<ellipse cx="392.8" cy="799.5" rx="60.4" ry="51.9" fill="none" stroke="#b4b4b4" stroke-width="0.7"/>
<text x="473.0" y="806.0" font-size="8.6" text-anchor="middle" fill="#707070">KLF/SP</text>
<path d="M397.1 600.0L429.6 604.4 M397.1 600.0L376.0 613.2 M397.1 600.0L423.1 618.8 M397.1 600.0L371.5 637.0 M397.1 600.0L345.6 644.0 M397.1 600.0L408.0 641.0 M397.1 600.0L401.2 651.0 M397.1 600.0L389.1 665.2 M397.1 600.0L370.5 674.5 M397.1 600.0L453.5 585.6 M397.1 600.0L484.6 613.8 M397.1 600.0L476.1 625.0 M397.1 600.0L458.7 634.4 M397.1 600.0L440.8 644.6 M397.1 600.0L445.7 656.9 M397.1 600.0L448.3 670.2 M397.1 600.0L525.5 648.4 M397.1 600.0L506.5 659.1 M397.1 600.0L374.0 686.3 M397.1 600.0L421.1 683.0 M397.1 600.0L413.3 694.2 M397.1 600.0L368.8 705.4 M397.1 600.0L408.2 705.6 M397.1 600.0L413.5 719.1 M397.1 600.0L393.3 726.1 M397.1 600.0L381.7 735.2 M397.1 600.0L429.0 738.0 M397.1 600.0L467.3 687.8 M397.1 600.0L504.0 683.5 M397.1 600.0L470.5 708.2 M397.1 600.0L515.4 707.3 M397.1 600.0L458.6 719.6 M397.1 600.0L444.6 729.0 M397.1 600.0L497.5 738.4 M397.1 600.0L474.9 753.3 M429.6 604.4L376.0 613.2 M429.6 604.4L423.1 618.8 M429.6 604.4L371.5 637.0 M429.6 604.4L345.6 644.0 M429.6 604.4L408.0 641.0 M429.6 604.4L401.2 651.0 M429.6 604.4L389.1 665.2 M429.6 604.4L370.5 674.5 M429.6 604.4L453.5 585.6 M429.6 604.4L484.6 613.8 M429.6 604.4L476.1 625.0 M429.6 604.4L458.7 634.4 M429.6 604.4L440.8 644.6 M429.6 604.4L445.7 656.9 M429.6 604.4L448.3 670.2 M429.6 604.4L525.5 648.4 M429.6 604.4L506.5 659.1 M429.6 604.4L374.0 686.3 M429.6 604.4L421.1 683.0 M429.6 604.4L413.3 694.2 M429.6 604.4L368.8 705.4 M429.6 604.4L408.2 705.6 M429.6 604.4L413.5 719.1 M429.6 604.4L393.3 726.1 M429.6 604.4L381.7 735.2 M429.6 604.4L429.0 738.0 M429.6 604.4L467.3 687.8 M429.6 604.4L504.0 683.5 M429.6 604.4L470.5 708.2 M429.6 604.4L515.4 707.3 M429.6 604.4L458.6 719.6 M429.6 604.4L444.6 729.0 M429.6 604.4L497.5 738.4 M429.6 604.4L474.9 753.3 M376.0 613.2L423.1 618.8 M376.0 613.2L371.5 637.0 M376.0 613.2L345.6 644.0 M376.0 613.2L408.0 641.0 M376.0 613.2L401.2 651.0 M376.0 613.2L389.1 665.2 M376.0 613.2L370.5 674.5 M376.0 613.2L453.5 585.6 M376.0 613.2L484.6 613.8 M376.0 613.2L476.1 625.0 M376.0 613.2L458.7 634.4 M376.0 613.2L440.8 644.6 M376.0 613.2L445.7 656.9 M376.0 613.2L448.3 670.2 M376.0 613.2L525.5 648.4 M376.0 613.2L506.5 659.1 M376.0 613.2L374.0 686.3 M376.0 613.2L421.1 683.0 M376.0 613.2L413.3 694.2 M376.0 613.2L368.8 705.4 M376.0 613.2L408.2 705.6 M376.0 613.2L413.5 719.1 M376.0 613.2L393.3 726.1 M376.0 613.2L381.7 735.2 M376.0 613.2L429.0 738.0 M376.0 613.2L467.3 687.8 M376.0 613.2L504.0 683.5 M376.0 613.2L470.5 708.2 M376.0 613.2L515.4 707.3 M376.0 613.2L458.6 719.6 M376.0 613.2L444.6 729.0 M376.0 613.2L497.5 738.4 M376.0 613.2L474.9 753.3 M423.1 618.8L371.5 637.0 M423.1 618.8L345.6 644.0 M423.1 618.8L408.0 641.0 M423.1 618.8L401.2 651.0 M423.1 618.8L389.1 665.2 M423.1 618.8L370.5 674.5 M423.1 618.8L453.5 585.6 M423.1 618.8L484.6 613.8 M423.1 618.8L476.1 625.0 M423.1 618.8L458.7 634.4 M423.1 618.8L440.8 644.6 M423.1 618.8L445.7 656.9 M423.1 618.8L448.3 670.2 M423.1 618.8L525.5 648.4 M423.1 618.8L506.5 659.1 M423.1 618.8L374.0 686.3 M423.1 618.8L421.1 683.0 M423.1 618.8L413.3 694.2 M423.1 618.8L368.8 705.4 M423.1 618.8L408.2 705.6 M423.1 618.8L413.5 719.1 M423.1 618.8L393.3 726.1 M423.1 618.8L381.7 735.2 M423.1 618.8L429.0 738.0 M423.1 618.8L467.3 687.8 M423.1 618.8L504.0 683.5 M423.1 618.8L470.5 708.2 M423.1 618.8L515.4 707.3 M423.1 618.8L458.6 719.6 M423.1 618.8L444.6 729.0 M423.1 618.8L497.5 738.4 M423.1 618.8L474.9 753.3 M371.5 637.0L345.6 644.0 M371.5 637.0L408.0 641.0 M371.5 637.0L401.2 651.0 M371.5 637.0L389.1 665.2 M371.5 637.0L370.5 674.5 M371.5 637.0L453.5 585.6 M371.5 637.0L484.6 613.8 M371.5 637.0L476.1 625.0 M371.5 637.0L458.7 634.4 M371.5 637.0L440.8 644.6 M371.5 637.0L445.7 656.9 M371.5 637.0L448.3 670.2 M371.5 637.0L525.5 648.4 M371.5 637.0L506.5 659.1 M371.5 637.0L374.0 686.3 M371.5 637.0L421.1 683.0 M371.5 637.0L413.3 694.2 M371.5 637.0L368.8 705.4 M371.5 637.0L408.2 705.6 M371.5 637.0L413.5 719.1 M371.5 637.0L393.3 726.1 M371.5 637.0L381.7 735.2 M371.5 637.0L429.0 738.0 M371.5 637.0L467.3 687.8 M371.5 637.0L504.0 683.5 M371.5 637.0L470.5 708.2 M371.5 637.0L515.4 707.3 M371.5 637.0L458.6 719.6 M371.5 637.0L444.6 729.0 M371.5 637.0L497.5 738.4 M371.5 637.0L474.9 753.3 M345.6 644.0L408.0 641.0 M345.6 644.0L401.2 651.0 M345.6 644.0L389.1 665.2 M345.6 644.0L370.5 674.5 M345.6 644.0L453.5 585.6 M345.6 644.0L484.6 613.8 M345.6 644.0L476.1 625.0 M345.6 644.0L458.7 634.4 M345.6 644.0L440.8 644.6 M345.6 644.0L445.7 656.9 M345.6 644.0L448.3 670.2 M345.6 644.0L525.5 648.4 M345.6 644.0L506.5 659.1 M345.6 644.0L374.0 686.3 M345.6 644.0L421.1 683.0 M345.6 644.0L413.3 694.2 M345.6 644.0L368.8 705.4 M345.6 644.0L408.2 705.6 M345.6 644.0L413.5 719.1 M345.6 644.0L393.3 726.1 M345.6 644.0L381.7 735.2 M345.6 644.0L429.0 738.0 M345.6 644.0L467.3 687.8 M345.6 644.0L504.0 683.5 M345.6 644.0L470.5 708.2 M345.6 644.0L515.4 707.3 M345.6 644.0L458.6 719.6 M345.6 644.0L444.6 729.0 M345.6 644.0L497.5 738.4 M345.6 644.0L474.9 753.3 M408.0 641.0L401.2 651.0 M408.0 641.0L389.1 665.2 M408.0 641.0L370.5 674.5 M408.0 641.0L453.5 585.6 M408.0 641.0L484.6 613.8 M408.0 641.0L476.1 625.0 M408.0 641.0L458.7 634.4 M408.0 641.0L440.8 644.6 M408.0 641.0L445.7 656.9 M408.0 641.0L448.3 670.2 M408.0 641.0L525.5 648.4 M408.0 641.0L506.5 659.1 M408.0 641.0L374.0 686.3 M408.0 641.0L421.1 683.0 M408.0 641.0L413.3 694.2 M408.0 641.0L368.8 705.4 M408.0 641.0L408.2 705.6 M408.0 641.0L413.5 719.1 M408.0 641.0L393.3 726.1 M408.0 641.0L381.7 735.2 M408.0 641.0L429.0 738.0 M408.0 641.0L467.3 687.8 M408.0 641.0L504.0 683.5 M408.0 641.0L470.5 708.2 M408.0 641.0L515.4 707.3 M408.0 641.0L458.6 719.6 M408.0 641.0L444.6 729.0 M408.0 641.0L497.5 738.4 M408.0 641.0L474.9 753.3 M401.2 651.0L389.1 665.2 M401.2 651.0L370.5 674.5 M401.2 651.0L453.5 585.6 M401.2 651.0L484.6 613.8 M401.2 651.0L476.1 625.0 M401.2 651.0L458.7 634.4 M401.2 651.0L440.8 644.6 M401.2 651.0L445.7 656.9 M401.2 651.0L448.3 670.2 M401.2 651.0L525.5 648.4 M401.2 651.0L506.5 659.1 M401.2 651.0L374.0 686.3 M401.2 651.0L421.1 683.0 M401.2 651.0L413.3 694.2 M401.2 651.0L368.8 705.4 M401.2 651.0L408.2 705.6 M401.2 651.0L413.5 719.1 M401.2 651.0L393.3 726.1 M401.2 651.0L381.7 735.2 M401.2 651.0L429.0 738.0 M401.2 651.0L467.3 687.8 M401.2 651.0L504.0 683.5 M401.2 651.0L470.5 708.2 M401.2 651.0L515.4 707.3 M401.2 651.0L458.6 719.6 M401.2 651.0L444.6 729.0 M401.2 651.0L497.5 738.4 M401.2 651.0L474.9 753.3 M389.1 665.2L370.5 674.5 M389.1 665.2L453.5 585.6 M389.1 665.2L484.6 613.8 M389.1 665.2L476.1 625.0 M389.1 665.2L458.7 634.4 M389.1 665.2L440.8 644.6 M389.1 665.2L445.7 656.9 M389.1 665.2L448.3 670.2 M389.1 665.2L525.5 648.4 M389.1 665.2L506.5 659.1 M389.1 665.2L374.0 686.3 M389.1 665.2L421.1 683.0 M389.1 665.2L413.3 694.2 M389.1 665.2L368.8 705.4 M389.1 665.2L408.2 705.6 M389.1 665.2L413.5 719.1 M389.1 665.2L393.3 726.1 M389.1 665.2L381.7 735.2 M389.1 665.2L429.0 738.0 M389.1 665.2L467.3 687.8 M389.1 665.2L504.0 683.5 M389.1 665.2L470.5 708.2 M389.1 665.2L515.4 707.3 M389.1 665.2L458.6 719.6 M389.1 665.2L444.6 729.0 M389.1 665.2L497.5 738.4 M389.1 665.2L474.9 753.3 M370.5 674.5L453.5 585.6 M370.5 674.5L484.6 613.8 M370.5 674.5L476.1 625.0 M370.5 674.5L458.7 634.4 M370.5 674.5L440.8 644.6 M370.5 674.5L445.7 656.9 M370.5 674.5L448.3 670.2 M370.5 674.5L525.5 648.4 M370.5 674.5L506.5 659.1 M370.5 674.5L374.0 686.3 M370.5 674.5L421.1 683.0 M370.5 674.5L413.3 694.2 M370.5 674.5L368.8 705.4 M370.5 674.5L408.2 705.6 M370.5 674.5L413.5 719.1 M370.5 674.5L393.3 726.1 M370.5 674.5L381.7 735.2 M370.5 674.5L429.0 738.0 M370.5 674.5L467.3 687.8 M370.5 674.5L504.0 683.5 M370.5 674.5L470.5 708.2 M370.5 674.5L515.4 707.3 M370.5 674.5L458.6 719.6 M370.5 674.5L444.6 729.0 M370.5 674.5L497.5 738.4 M370.5 674.5L474.9 753.3 M453.5 585.6L484.6 613.8 M453.5 585.6L476.1 625.0 M453.5 585.6L458.7 634.4 M453.5 585.6L440.8 644.6 M453.5 585.6L445.7 656.9 M453.5 585.6L448.3 670.2 M453.5 585.6L525.5 648.4 M453.5 585.6L506.5 659.1 M453.5 585.6L374.0 686.3 M453.5 585.6L421.1 683.0 M453.5 585.6L413.3 694.2 M453.5 585.6L368.8 705.4 M453.5 585.6L408.2 705.6 M453.5 585.6L413.5 719.1 M453.5 585.6L393.3 726.1 M453.5 585.6L381.7 735.2 M453.5 585.6L429.0 738.0 M453.5 585.6L467.3 687.8 M453.5 585.6L504.0 683.5 M453.5 585.6L470.5 708.2 M453.5 585.6L515.4 707.3 M453.5 585.6L458.6 719.6 M453.5 585.6L444.6 729.0 M453.5 585.6L497.5 738.4 M453.5 585.6L474.9 753.3 M484.6 613.8L476.1 625.0 M484.6 613.8L458.7 634.4 M484.6 613.8L440.8 644.6 M484.6 613.8L445.7 656.9 M484.6 613.8L448.3 670.2 M484.6 613.8L525.5 648.4 M484.6 613.8L506.5 659.1 M484.6 613.8L374.0 686.3 M484.6 613.8L421.1 683.0 M484.6 613.8L413.3 694.2 M484.6 613.8L368.8 705.4 M484.6 613.8L408.2 705.6 M484.6 613.8L413.5 719.1 M484.6 613.8L393.3 726.1 M484.6 613.8L381.7 735.2 M484.6 613.8L429.0 738.0 M484.6 613.8L467.3 687.8 M484.6 613.8L504.0 683.5 M484.6 613.8L470.5 708.2 M484.6 613.8L515.4 707.3 M484.6 613.8L458.6 719.6 M484.6 613.8L444.6 729.0 M484.6 613.8L497.5 738.4 M484.6 613.8L474.9 753.3 M476.1 625.0L458.7 634.4 M476.1 625.0L440.8 644.6 M476.1 625.0L445.7 656.9 M476.1 625.0L448.3 670.2 M476.1 625.0L525.5 648.4 M476.1 625.0L506.5 659.1 M476.1 625.0L374.0 686.3 M476.1 625.0L421.1 683.0 M476.1 625.0L413.3 694.2 M476.1 625.0L368.8 705.4 M476.1 625.0L408.2 705.6 M476.1 625.0L413.5 719.1 M476.1 625.0L393.3 726.1 M476.1 625.0L381.7 735.2 M476.1 625.0L429.0 738.0 M476.1 625.0L467.3 687.8 M476.1 625.0L504.0 683.5 M476.1 625.0L470.5 708.2 M476.1 625.0L515.4 707.3 M476.1 625.0L458.6 719.6 M476.1 625.0L444.6 729.0 M476.1 625.0L497.5 738.4 M476.1 625.0L474.9 753.3 M458.7 634.4L440.8 644.6 M458.7 634.4L445.7 656.9 M458.7 634.4L448.3 670.2 M458.7 634.4L525.5 648.4 M458.7 634.4L506.5 659.1 M458.7 634.4L374.0 686.3 M458.7 634.4L421.1 683.0 M458.7 634.4L413.3 694.2 M458.7 634.4L368.8 705.4 M458.7 634.4L408.2 705.6 M458.7 634.4L413.5 719.1 M458.7 634.4L393.3 726.1 M458.7 634.4L381.7 735.2 M458.7 634.4L429.0 738.0 M458.7 634.4L467.3 687.8 M458.7 634.4L504.0 683.5 M458.7 634.4L470.5 708.2 M458.7 634.4L515.4 707.3 M458.7 634.4L458.6 719.6 M458.7 634.4L444.6 729.0 M458.7 634.4L497.5 738.4 M458.7 634.4L474.9 753.3 M440.8 644.6L445.7 656.9 M440.8 644.6L448.3 670.2 M440.8 644.6L525.5 648.4 M440.8 644.6L506.5 659.1 M440.8 644.6L374.0 686.3 M440.8 644.6L421.1 683.0 M440.8 644.6L413.3 694.2 M440.8 644.6L368.8 705.4 M440.8 644.6L408.2 705.6 M440.8 644.6L413.5 719.1 M440.8 644.6L393.3 726.1 M440.8 644.6L381.7 735.2 M440.8 644.6L429.0 738.0 M440.8 644.6L467.3 687.8 M440.8 644.6L504.0 683.5 M440.8 644.6L470.5 708.2 M440.8 644.6L515.4 707.3 M440.8 644.6L458.6 719.6 M440.8 644.6L444.6 729.0 M440.8 644.6L497.5 738.4 M440.8 644.6L474.9 753.3 M445.7 656.9L448.3 670.2 M445.7 656.9L525.5 648.4 M445.7 656.9L506.5 659.1 M445.7 656.9L374.0 686.3 M445.7 656.9L421.1 683.0 M445.7 656.9L413.3 694.2 M445.7 656.9L368.8 705.4 M445.7 656.9L408.2 705.6 M445.7 656.9L413.5 719.1 M445.7 656.9L393.3 726.1 M445.7 656.9L381.7 735.2 M445.7 656.9L429.0 738.0 M445.7 656.9L467.3 687.8 M445.7 656.9L504.0 683.5 M445.7 656.9L470.5 708.2 M445.7 656.9L515.4 707.3 M445.7 656.9L458.6 719.6 M445.7 656.9L444.6 729.0 M445.7 656.9L497.5 738.4 M445.7 656.9L474.9 753.3 M448.3 670.2L525.5 648.4 M448.3 670.2L506.5 659.1 M448.3 670.2L374.0 686.3 M448.3 670.2L421.1 683.0 M448.3 670.2L413.3 694.2 M448.3 670.2L368.8 705.4 M448.3 670.2L408.2 705.6 M448.3 670.2L413.5 719.1 M448.3 670.2L393.3 726.1 M448.3 670.2L381.7 735.2 M448.3 670.2L429.0 738.0 M448.3 670.2L467.3 687.8 M448.3 670.2L504.0 683.5 M448.3 670.2L470.5 708.2 M448.3 670.2L515.4 707.3 M448.3 670.2L458.6 719.6 M448.3 670.2L444.6 729.0 M448.3 670.2L497.5 738.4 M448.3 670.2L474.9 753.3 M525.5 648.4L506.5 659.1 M525.5 648.4L374.0 686.3 M525.5 648.4L421.1 683.0 M525.5 648.4L413.3 694.2 M525.5 648.4L368.8 705.4 M525.5 648.4L408.2 705.6 M525.5 648.4L413.5 719.1 M525.5 648.4L393.3 726.1 M525.5 648.4L381.7 735.2 M525.5 648.4L429.0 738.0 M525.5 648.4L467.3 687.8 M525.5 648.4L504.0 683.5 M525.5 648.4L470.5 708.2 M525.5 648.4L515.4 707.3 M525.5 648.4L458.6 719.6 M525.5 648.4L444.6 729.0 M525.5 648.4L497.5 738.4 M525.5 648.4L474.9 753.3 M506.5 659.1L374.0 686.3 M506.5 659.1L421.1 683.0 M506.5 659.1L413.3 694.2 M506.5 659.1L368.8 705.4 M506.5 659.1L408.2 705.6 M506.5 659.1L413.5 719.1 M506.5 659.1L393.3 726.1 M506.5 659.1L381.7 735.2 M506.5 659.1L429.0 738.0 M506.5 659.1L467.3 687.8 M506.5 659.1L504.0 683.5 M506.5 659.1L470.5 708.2 M506.5 659.1L515.4 707.3 M506.5 659.1L458.6 719.6 M506.5 659.1L444.6 729.0 M506.5 659.1L497.5 738.4 M506.5 659.1L474.9 753.3 M374.0 686.3L421.1 683.0 M374.0 686.3L413.3 694.2 M374.0 686.3L368.8 705.4 M374.0 686.3L408.2 705.6 M374.0 686.3L413.5 719.1 M374.0 686.3L393.3 726.1 M374.0 686.3L381.7 735.2 M374.0 686.3L429.0 738.0 M374.0 686.3L467.3 687.8 M374.0 686.3L504.0 683.5 M374.0 686.3L470.5 708.2 M374.0 686.3L515.4 707.3 M374.0 686.3L458.6 719.6 M374.0 686.3L444.6 729.0 M374.0 686.3L497.5 738.4 M374.0 686.3L474.9 753.3 M421.1 683.0L413.3 694.2 M421.1 683.0L368.8 705.4 M421.1 683.0L408.2 705.6 M421.1 683.0L413.5 719.1 M421.1 683.0L393.3 726.1 M421.1 683.0L381.7 735.2 M421.1 683.0L429.0 738.0 M421.1 683.0L467.3 687.8 M421.1 683.0L504.0 683.5 M421.1 683.0L470.5 708.2 M421.1 683.0L515.4 707.3 M421.1 683.0L458.6 719.6 M421.1 683.0L444.6 729.0 M421.1 683.0L497.5 738.4 M421.1 683.0L474.9 753.3 M413.3 694.2L368.8 705.4 M413.3 694.2L408.2 705.6 M413.3 694.2L413.5 719.1 M413.3 694.2L393.3 726.1 M413.3 694.2L381.7 735.2 M413.3 694.2L429.0 738.0 M413.3 694.2L467.3 687.8 M413.3 694.2L504.0 683.5 M413.3 694.2L470.5 708.2 M413.3 694.2L515.4 707.3 M413.3 694.2L458.6 719.6 M413.3 694.2L444.6 729.0 M413.3 694.2L497.5 738.4 M413.3 694.2L474.9 753.3 M368.8 705.4L408.2 705.6 M368.8 705.4L413.5 719.1 M368.8 705.4L393.3 726.1 M368.8 705.4L381.7 735.2 M368.8 705.4L429.0 738.0 M368.8 705.4L467.3 687.8 M368.8 705.4L504.0 683.5 M368.8 705.4L470.5 708.2 M368.8 705.4L515.4 707.3 M368.8 705.4L458.6 719.6 M368.8 705.4L444.6 729.0 M368.8 705.4L497.5 738.4 M368.8 705.4L474.9 753.3 M408.2 705.6L413.5 719.1 M408.2 705.6L393.3 726.1 M408.2 705.6L381.7 735.2 M408.2 705.6L429.0 738.0 M408.2 705.6L467.3 687.8 M408.2 705.6L504.0 683.5 M408.2 705.6L470.5 708.2 M408.2 705.6L515.4 707.3 M408.2 705.6L458.6 719.6 M408.2 705.6L444.6 729.0 M408.2 705.6L497.5 738.4 M408.2 705.6L474.9 753.3 M413.5 719.1L393.3 726.1 M413.5 719.1L381.7 735.2 M413.5 719.1L429.0 738.0 M413.5 719.1L467.3 687.8 M413.5 719.1L504.0 683.5 M413.5 719.1L470.5 708.2 M413.5 719.1L515.4 707.3 M413.5 719.1L458.6 719.6 M413.5 719.1L444.6 729.0 M413.5 719.1L497.5 738.4 M413.5 719.1L474.9 753.3 M393.3 726.1L381.7 735.2 M393.3 726.1L429.0 738.0 M393.3 726.1L467.3 687.8 M393.3 726.1L504.0 683.5 M393.3 726.1L470.5 708.2 M393.3 726.1L515.4 707.3 M393.3 726.1L458.6 719.6 M393.3 726.1L444.6 729.0 M393.3 726.1L497.5 738.4 M393.3 726.1L474.9 753.3 M381.7 735.2L429.0 738.0 M381.7 735.2L467.3 687.8 M381.7 735.2L504.0 683.5 M381.7 735.2L470.5 708.2 M381.7 735.2L515.4 707.3 M381.7 735.2L458.6 719.6 M381.7 735.2L444.6 729.0 M381.7 735.2L497.5 738.4 M381.7 735.2L474.9 753.3 M429.0 738.0L467.3 687.8 M429.0 738.0L504.0 683.5 M429.0 738.0L470.5 708.2 M429.0 738.0L515.4 707.3 M429.0 738.0L458.6 719.6 M429.0 738.0L444.6 729.0 M429.0 738.0L497.5 738.4 M429.0 738.0L474.9 753.3 M467.3 687.8L504.0 683.5 M467.3 687.8L470.5 708.2 M467.3 687.8L515.4 707.3 M467.3 687.8L458.6 719.6 M467.3 687.8L444.6 729.0 M467.3 687.8L497.5 738.4 M467.3 687.8L474.9 753.3 M504.0 683.5L470.5 708.2 M504.0 683.5L515.4 707.3 M504.0 683.5L458.6 719.6 M504.0 683.5L444.6 729.0 M504.0 683.5L497.5 738.4 M504.0 683.5L474.9 753.3 M470.5 708.2L515.4 707.3 M470.5 708.2L458.6 719.6 M470.5 708.2L444.6 729.0 M470.5 708.2L497.5 738.4 M470.5 708.2L474.9 753.3 M515.4 707.3L458.6 719.6 M515.4 707.3L444.6 729.0 M515.4 707.3L497.5 738.4 M515.4 707.3L474.9 753.3 M458.6 719.6L444.6 729.0 M458.6 719.6L497.5 738.4 M458.6 719.6L474.9 753.3 M444.6 729.0L497.5 738.4 M444.6 729.0L474.9 753.3 M497.5 738.4L474.9 753.3" stroke="#f5b888" stroke-width="0.33" fill="none" opacity="0.8"/>
<path d="M376.0 613.2L389.1 665.2 M376.0 613.2L370.5 674.5 M376.0 613.2L374.0 686.3 M376.0 613.2L368.8 705.4 M376.0 613.2L408.2 705.6 M376.0 613.2L381.7 735.2 M376.0 613.2L393.3 726.1 M376.0 613.2L401.2 651.0 M376.0 613.2L421.1 683.0 M376.0 613.2L371.5 637.0 M376.0 613.2L413.3 694.2 M376.0 613.2L413.5 719.1" stroke="#f3a468" stroke-width="0.4" fill="none"/>
<path d="M381.7 735.2L361.4 762.4 M393.3 726.1L415.1 763.5 M393.3 726.1L386.8 781.3 M474.9 753.3L415.1 763.5 M474.9 753.3L433.4 780.2 M381.7 735.2L386.8 781.3 M368.8 705.4L361.4 762.4 M444.6 729.0L386.8 781.3 M497.5 738.4L433.4 780.2 M408.2 705.6L361.4 762.4" stroke="#b9d0ee" stroke-width="0.5" fill="none"/>
<path d="M413.5 719.1L415.1 763.5 M413.5 719.1L433.4 780.2 M429.0 738.0L433.4 780.2 M444.6 729.0L415.1 763.5 M458.6 719.6L415.1 763.5 M393.3 726.1L433.4 780.2 M444.6 729.0L433.4 780.2 M474.9 753.3L386.8 781.3" stroke="#f7c9a2" stroke-width="0.5" fill="none"/>
<line x1="476.1" y1="625.0" x2="429.0" y2="738.0" stroke="#f07d18" stroke-width="1.10"/>
<line x1="381.7" y1="735.2" x2="429.0" y2="738.0" stroke="#f08a2c" stroke-width="0.80"/>
<line x1="393.3" y1="726.1" x2="429.0" y2="738.0" stroke="#f08a2c" stroke-width="0.80"/>
<line x1="429.0" y1="738.0" x2="415.1" y2="763.5" stroke="#f08a2c" stroke-width="0.80"/>
<line x1="453.5" y1="585.6" x2="440.8" y2="644.6" stroke="#7fa9e0" stroke-width="0.60"/>
<line x1="506.5" y1="659.1" x2="467.3" y2="687.8" stroke="#5b95dc" stroke-width="0.70"/>
<line x1="429.0" y1="738.0" x2="474.9" y2="753.3" stroke="#3f86d8" stroke-width="0.80"/>
<line x1="429.0" y1="738.0" x2="497.5" y2="738.4" stroke="#5b95dc" stroke-width="0.80"/>
<line x1="448.3" y1="670.2" x2="444.6" y2="729.0" stroke="#5b95dc" stroke-width="0.70"/>
<line x1="525.5" y1="648.4" x2="467.3" y2="687.8" stroke="#7fa9e0" stroke-width="0.60"/>
<line x1="515.4" y1="707.3" x2="458.6" y2="719.6" stroke="#9dbde6" stroke-width="0.50"/>
<line x1="361.4" y1="762.4" x2="415.1" y2="763.5" stroke="#ef8a2a" stroke-width="1.1"/>
<line x1="361.4" y1="762.4" x2="386.8" y2="781.3" stroke="#ef8a2a" stroke-width="0.9"/>
<line x1="361.4" y1="762.4" x2="433.4" y2="780.2" stroke="#ef8a2a" stroke-width="1.3"/>
<line x1="361.4" y1="762.4" x2="381.8" y2="800.5" stroke="#ef8a2a" stroke-width="0.7"/>
<line x1="361.4" y1="762.4" x2="420.0" y2="801.2" stroke="#ef8a2a" stroke-width="0.7"/>
<line x1="361.4" y1="762.4" x2="350.8" y2="812.3" stroke="#ef8a2a" stroke-width="1.6"/>
<line x1="361.4" y1="762.4" x2="432.3" y2="814.9" stroke="#ef8a2a" stroke-width="0.7"/>
<line x1="361.4" y1="762.4" x2="434.0" y2="830.1" stroke="#ef8a2a" stroke-width="1.1"/>
<line x1="361.4" y1="762.4" x2="387.0" y2="834.6" stroke="#ef8a2a" stroke-width="1.6"/>
<line x1="361.4" y1="762.4" x2="396.3" y2="847.0" stroke="#ef8a2a" stroke-width="0.7"/>
<line x1="415.1" y1="763.5" x2="386.8" y2="781.3" stroke="#ef8a2a" stroke-width="1.6"/>
<line x1="415.1" y1="763.5" x2="433.4" y2="780.2" stroke="#ef8a2a" stroke-width="0.9"/>
<line x1="415.1" y1="763.5" x2="381.8" y2="800.5" stroke="#ef8a2a" stroke-width="0.7"/>
<line x1="415.1" y1="763.5" x2="420.0" y2="801.2" stroke="#ef8a2a" stroke-width="0.7"/>
<line x1="415.1" y1="763.5" x2="350.8" y2="812.3" stroke="#ef8a2a" stroke-width="1.3"/>
<line x1="415.1" y1="763.5" x2="432.3" y2="814.9" stroke="#ef8a2a" stroke-width="1.3"/>
<line x1="415.1" y1="763.5" x2="434.0" y2="830.1" stroke="#ef8a2a" stroke-width="0.7"/>
<line x1="415.1" y1="763.5" x2="387.0" y2="834.6" stroke="#ef8a2a" stroke-width="0.9"/>
<line x1="415.1" y1="763.5" x2="396.3" y2="847.0" stroke="#ef8a2a" stroke-width="0.7"/>
<line x1="386.8" y1="781.3" x2="433.4" y2="780.2" stroke="#ef8a2a" stroke-width="1.6"/>
<line x1="386.8" y1="781.3" x2="381.8" y2="800.5" stroke="#ef8a2a" stroke-width="1.3"/>
<line x1="386.8" y1="781.3" x2="420.0" y2="801.2" stroke="#ef8a2a" stroke-width="0.7"/>
<line x1="386.8" y1="781.3" x2="350.8" y2="812.3" stroke="#ef8a2a" stroke-width="1.6"/>
<line x1="386.8" y1="781.3" x2="432.3" y2="814.9" stroke="#ef8a2a" stroke-width="0.7"/>
<line x1="386.8" y1="781.3" x2="434.0" y2="830.1" stroke="#ef8a2a" stroke-width="0.9"/>
<line x1="386.8" y1="781.3" x2="387.0" y2="834.6" stroke="#ef8a2a" stroke-width="1.6"/>
<line x1="386.8" y1="781.3" x2="396.3" y2="847.0" stroke="#ef8a2a" stroke-width="0.7"/>
<line x1="433.4" y1="780.2" x2="381.8" y2="800.5" stroke="#ef8a2a" stroke-width="1.6"/>
<line x1="433.4" y1="780.2" x2="420.0" y2="801.2" stroke="#ef8a2a" stroke-width="1.6"/>
<line x1="433.4" y1="780.2" x2="350.8" y2="812.3" stroke="#ef8a2a" stroke-width="1.3"/>
<line x1="433.4" y1="780.2" x2="432.3" y2="814.9" stroke="#ef8a2a" stroke-width="0.7"/>
<line x1="433.4" y1="780.2" x2="434.0" y2="830.1" stroke="#ef8a2a" stroke-width="0.9"/>
<line x1="433.4" y1="780.2" x2="387.0" y2="834.6" stroke="#ef8a2a" stroke-width="0.7"/>
<line x1="433.4" y1="780.2" x2="396.3" y2="847.0" stroke="#ef8a2a" stroke-width="1.6"/>
<line x1="381.8" y1="800.5" x2="420.0" y2="801.2" stroke="#ef8a2a" stroke-width="0.9"/>
<line x1="381.8" y1="800.5" x2="350.8" y2="812.3" stroke="#ef8a2a" stroke-width="1.1"/>
<line x1="381.8" y1="800.5" x2="432.3" y2="814.9" stroke="#ef8a2a" stroke-width="1.3"/>
<line x1="381.8" y1="800.5" x2="434.0" y2="830.1" stroke="#ef8a2a" stroke-width="0.9"/>
<line x1="381.8" y1="800.5" x2="387.0" y2="834.6" stroke="#ef8a2a" stroke-width="1.6"/>
<line x1="381.8" y1="800.5" x2="396.3" y2="847.0" stroke="#ef8a2a" stroke-width="0.7"/>
<line x1="420.0" y1="801.2" x2="350.8" y2="812.3" stroke="#ef8a2a" stroke-width="1.6"/>
<line x1="420.0" y1="801.2" x2="432.3" y2="814.9" stroke="#ef8a2a" stroke-width="1.1"/>
<line x1="420.0" y1="801.2" x2="434.0" y2="830.1" stroke="#ef8a2a" stroke-width="1.6"/>
<line x1="420.0" y1="801.2" x2="387.0" y2="834.6" stroke="#ef8a2a" stroke-width="0.9"/>
<line x1="420.0" y1="801.2" x2="396.3" y2="847.0" stroke="#ef8a2a" stroke-width="0.7"/>
<line x1="350.8" y1="812.3" x2="432.3" y2="814.9" stroke="#ef8a2a" stroke-width="1.6"/>
<line x1="350.8" y1="812.3" x2="434.0" y2="830.1" stroke="#ef8a2a" stroke-width="1.6"/>
<line x1="350.8" y1="812.3" x2="387.0" y2="834.6" stroke="#ef8a2a" stroke-width="0.9"/>
<line x1="350.8" y1="812.3" x2="396.3" y2="847.0" stroke="#ef8a2a" stroke-width="1.1"/>
<line x1="432.3" y1="814.9" x2="434.0" y2="830.1" stroke="#ef8a2a" stroke-width="0.7"/>
<line x1="432.3" y1="814.9" x2="387.0" y2="834.6" stroke="#ef8a2a" stroke-width="1.6"/>
<line x1="432.3" y1="814.9" x2="396.3" y2="847.0" stroke="#ef8a2a" stroke-width="0.7"/>
<line x1="434.0" y1="830.1" x2="387.0" y2="834.6" stroke="#ef8a2a" stroke-width="1.6"/>
<line x1="434.0" y1="830.1" x2="396.3" y2="847.0" stroke="#ef8a2a" stroke-width="0.7"/>
<line x1="387.0" y1="834.6" x2="396.3" y2="847.0" stroke="#ef8a2a" stroke-width="1.6"/>
<ellipse cx="397.1" cy="600.0" rx="16.4" ry="5.4" fill="#e7f3da" stroke="#3f86d8" stroke-width="0.90"/><text transform="translate(397.10,602.67) scale(1,1.13)" font-size="6.60" text-anchor="middle" fill="#111" stroke="none">TCF4</text>
<ellipse cx="429.6" cy="604.4" rx="15.3" ry="5.5" fill="#e7f3da" stroke="#3f86d8" stroke-width="0.90"/><text transform="translate(429.60,607.03) scale(1,1.13)" font-size="6.50" text-anchor="middle" fill="#111" stroke="none">AP4</text>
<ellipse cx="376.0" cy="613.2" rx="14.2" ry="5.0" fill="#ffffff" stroke="#3f86d8" stroke-width="0.90"/><text transform="translate(376.00,615.43) scale(1,1.13)" font-size="5.50" text-anchor="middle" fill="#111" stroke="none">MEF2A</text>
<ellipse cx="423.1" cy="618.8" rx="16.6" ry="5.4" fill="#e7f3da" stroke="#3f86d8" stroke-width="0.90"/><text transform="translate(423.10,621.35) scale(1,1.13)" font-size="6.30" text-anchor="middle" fill="#111" stroke="none">MYOG</text>
<ellipse cx="371.5" cy="637.0" rx="15.8" ry="5.3" fill="#e7f3da" stroke="#3f86d8" stroke-width="0.90"/><text transform="translate(371.50,639.35) scale(1,1.13)" font-size="5.80" text-anchor="middle" fill="#111" stroke="none">NEUROG2</text>
<ellipse cx="345.6" cy="644.0" rx="16.2" ry="5.7" fill="#e7f3da" stroke="#3f86d8" stroke-width="0.90"/><text transform="translate(345.60,646.55) scale(1,1.13)" font-size="6.30" text-anchor="middle" fill="#111" stroke="none">ATOH1</text>
<ellipse cx="408.0" cy="641.0" rx="15.1" ry="4.7" fill="#ffffff" stroke="#3f86d8" stroke-width="0.90"/><text transform="translate(408.00,643.23) scale(1,1.13)" font-size="5.50" text-anchor="middle" fill="#111" stroke="none">NEUROD1</text>
<ellipse cx="401.2" cy="651.0" rx="14.9" ry="4.8" fill="#ffffff" stroke="#3f86d8" stroke-width="0.90"/><text transform="translate(401.20,653.55) scale(1,1.13)" font-size="6.30" text-anchor="middle" fill="#111" stroke="none">OLIG2</text>
<ellipse cx="389.1" cy="665.2" rx="16.8" ry="5.0" fill="#e7f3da" stroke="#3f86d8" stroke-width="0.90"/><text transform="translate(389.10,667.67) scale(1,1.13)" font-size="6.10" text-anchor="middle" fill="#111" stroke="none">BHLHA15</text>
<ellipse cx="370.5" cy="674.5" rx="16.1" ry="5.0" fill="#e7f3da" stroke="#3f86d8" stroke-width="0.90"/><text transform="translate(370.50,677.09) scale(1,1.13)" font-size="6.40" text-anchor="middle" fill="#111" stroke="none">MYF5</text>
<ellipse cx="453.5" cy="585.6" rx="21.1" ry="7.2" fill="#e7f3da" stroke="#3f86d8" stroke-width="0.90"/><text transform="translate(453.50,588.80) scale(1,1.13)" font-size="7.90" text-anchor="middle" fill="#111" stroke="none">E2A</text>
<ellipse cx="484.6" cy="613.8" rx="20.1" ry="6.1" fill="#e7f3da" stroke="#3f86d8" stroke-width="0.90"/><text transform="translate(484.60,616.84) scale(1,1.13)" font-size="7.50" text-anchor="middle" fill="#111" stroke="none">ASCL1</text>
<ellipse cx="476.1" cy="625.0" rx="14.0" ry="4.5" fill="#ffffff" stroke="#3f86d8" stroke-width="0.90"/><text transform="translate(476.10,627.27) scale(1,1.13)" font-size="5.60" text-anchor="middle" fill="#111" stroke="none">FOXK2</text>
<ellipse cx="458.7" cy="634.4" rx="19.7" ry="6.6" fill="#e7f3da" stroke="#3f86d8" stroke-width="0.90"/><text transform="translate(458.70,637.72) scale(1,1.13)" font-size="8.20" text-anchor="middle" fill="#111" stroke="none">PTF1A</text>
<ellipse cx="440.8" cy="644.6" rx="14.9" ry="4.6" fill="#ffffff" stroke="#3f86d8" stroke-width="0.90"/><text transform="translate(440.80,647.03) scale(1,1.13)" font-size="6.00" text-anchor="middle" fill="#111" stroke="none">ZBTB18</text>
<ellipse cx="445.7" cy="656.9" rx="15.2" ry="4.6" fill="#ffffff" stroke="#3f86d8" stroke-width="0.90"/><text transform="translate(445.70,659.21) scale(1,1.13)" font-size="5.70" text-anchor="middle" fill="#111" stroke="none">ZEB2</text>
<ellipse cx="448.3" cy="670.2" rx="20.1" ry="6.4" fill="#e7f3da" stroke="#3f86d8" stroke-width="0.90"/><text transform="translate(448.30,673.24) scale(1,1.13)" font-size="7.50" text-anchor="middle" fill="#111" stroke="none">HEB</text>
<ellipse cx="525.5" cy="648.4" rx="19.0" ry="6.6" fill="#e7f3da" stroke="#3f86d8" stroke-width="0.90"/><text transform="translate(525.50,651.52) scale(1,1.13)" font-size="7.70" text-anchor="middle" fill="#111" stroke="none">EBF</text>
<ellipse cx="506.5" cy="659.1" rx="17.0" ry="5.4" fill="#ffffff" stroke="#3f86d8" stroke-width="0.90"/><text transform="translate(506.50,661.69) scale(1,1.13)" font-size="6.40" text-anchor="middle" fill="#111" stroke="none">ZEB1</text>
<ellipse cx="374.0" cy="686.3" rx="14.4" ry="4.9" fill="#ffffff" stroke="#3f86d8" stroke-width="0.90"/><text transform="translate(374.00,688.49) scale(1,1.13)" font-size="5.40" text-anchor="middle" fill="#111" stroke="none">MEF2C</text>
<ellipse cx="421.1" cy="683.0" rx="16.9" ry="5.4" fill="#e7f3da" stroke="#3f86d8" stroke-width="0.90"/><text transform="translate(421.10,685.79) scale(1,1.13)" font-size="6.90" text-anchor="middle" fill="#111" stroke="none">TCF21</text>
<ellipse cx="413.3" cy="694.2" rx="15.1" ry="4.4" fill="#c9d2f1" stroke="#3f86d8" stroke-width="0.90"/><text transform="translate(413.30,696.18) scale(1,1.13)" font-size="4.90" text-anchor="middle" fill="#111" stroke="none">ETS:E-BOX</text>
<ellipse cx="368.8" cy="705.4" rx="14.9" ry="5.1" fill="#ffffff" stroke="#3f86d8" stroke-width="0.90"/><text transform="translate(368.80,707.83) scale(1,1.13)" font-size="6.00" text-anchor="middle" fill="#111" stroke="none">SCL</text>
<ellipse cx="408.2" cy="705.6" rx="17.5" ry="5.6" fill="#e7f3da" stroke="#3f86d8" stroke-width="0.90"/><text transform="translate(408.20,708.48) scale(1,1.13)" font-size="7.10" text-anchor="middle" fill="#111" stroke="none">TWIST2</text>
<ellipse cx="413.5" cy="719.1" rx="14.0" ry="4.4" fill="#ffffff" stroke="#3f86d8" stroke-width="0.90"/><text transform="translate(413.50,721.33) scale(1,1.13)" font-size="5.50" text-anchor="middle" fill="#111" stroke="none">PAX5</text>
<ellipse cx="393.3" cy="726.1" rx="14.0" ry="4.4" fill="#ffffff" stroke="#3f86d8" stroke-width="0.90"/><text transform="translate(393.30,728.29) scale(1,1.13)" font-size="5.40" text-anchor="middle" fill="#111" stroke="none">TBX5</text>
<ellipse cx="381.7" cy="735.2" rx="15.5" ry="5.1" fill="#e7f3da" stroke="#3f86d8" stroke-width="0.90"/><text transform="translate(381.70,737.79) scale(1,1.13)" font-size="6.40" text-anchor="middle" fill="#111" stroke="none">MYOD</text>
<ellipse cx="429.0" cy="738.0" rx="13.8" ry="4.4" fill="#e7f3da" stroke="#f08c2c" stroke-width="0.90"/><text transform="translate(429.00,740.23) scale(1,1.13)" font-size="5.50" text-anchor="middle" fill="#111" stroke="none">CEBP</text>
<ellipse cx="467.3" cy="687.8" rx="16.9" ry="5.9" fill="#e7f3da" stroke="#3f86d8" stroke-width="0.90"/><text transform="translate(467.30,690.72) scale(1,1.13)" font-size="7.20" text-anchor="middle" fill="#111" stroke="none">TCF12</text>
<ellipse cx="504.0" cy="683.5" rx="17.7" ry="6.0" fill="#e7f3da" stroke="#3f86d8" stroke-width="0.90"/><text transform="translate(504.00,686.29) scale(1,1.13)" font-size="6.90" text-anchor="middle" fill="#111" stroke="none">SNAIL1</text>
<ellipse cx="470.5" cy="708.2" rx="21.0" ry="7.0" fill="#e7f3da" stroke="#3f86d8" stroke-width="0.90"/><text transform="translate(470.50,711.40) scale(1,1.13)" font-size="7.90" text-anchor="middle" fill="#111" stroke="none">EBF2</text>
<ellipse cx="515.4" cy="707.3" rx="20.3" ry="6.7" fill="#e7f3da" stroke="#3f86d8" stroke-width="0.90"/><text transform="translate(515.40,710.54) scale(1,1.13)" font-size="8.00" text-anchor="middle" fill="#111" stroke="none">ASCL2</text>
<ellipse cx="458.6" cy="719.6" rx="14.0" ry="4.4" fill="#ffffff" stroke="#3f86d8" stroke-width="0.90"/><text transform="translate(458.60,721.83) scale(1,1.13)" font-size="5.50" text-anchor="middle" fill="#111" stroke="none">PAX6</text>
<ellipse cx="444.6" cy="729.0" rx="17.5" ry="5.5" fill="#e7f3da" stroke="#3f86d8" stroke-width="0.90"/><text transform="translate(444.60,731.79) scale(1,1.13)" font-size="6.90" text-anchor="middle" fill="#111" stroke="none">EBF1</text>
<ellipse cx="497.5" cy="738.4" rx="18.2" ry="5.7" fill="#e7f3da" stroke="#3f86d8" stroke-width="0.90"/><text transform="translate(497.50,740.26) scale(1,1.13)" font-size="4.60" text-anchor="middle" fill="#111" stroke="none">E2A/near_PU.1</text>
<ellipse cx="474.9" cy="753.3" rx="17.5" ry="5.7" fill="#e7f3da" stroke="#3f86d8" stroke-width="0.90"/><text transform="translate(474.90,755.97) scale(1,1.13)" font-size="6.60" text-anchor="middle" fill="#111" stroke="none">SLUG</text>
<ellipse cx="361.4" cy="762.4" rx="14.0" ry="4.0" fill="#ffffff" stroke="#f08c2c" stroke-width="0.90"/><text transform="translate(361.40,764.63) scale(1,1.13)" font-size="5.50" text-anchor="middle" fill="#111" stroke="none">KLF4</text>
<ellipse cx="415.1" cy="763.5" rx="14.4" ry="4.4" fill="#ffffff" stroke="#f08c2c" stroke-width="0.90"/><text transform="translate(415.10,766.17) scale(1,1.13)" font-size="6.60" text-anchor="middle" fill="#111" stroke="none">NFY</text>
<ellipse cx="386.8" cy="781.3" rx="13.1" ry="4.3" fill="#ffffff" stroke="#f08c2c" stroke-width="0.90"/><text transform="translate(386.80,783.57) scale(1,1.13)" font-size="5.60" text-anchor="middle" fill="#111" stroke="none">SP2</text>
<ellipse cx="433.4" cy="780.2" rx="13.8" ry="4.2" fill="#ffffff" stroke="#f08c2c" stroke-width="0.90"/><text transform="translate(433.40,782.55) scale(1,1.13)" font-size="5.80" text-anchor="middle" fill="#111" stroke="none">KLF14</text>
<ellipse cx="381.8" cy="800.5" rx="14.2" ry="4.3" fill="#ffffff" stroke="#f08c2c" stroke-width="0.90"/><text transform="translate(381.80,802.57) scale(1,1.13)" font-size="5.10" text-anchor="middle" fill="#111" stroke="none">SP1</text>
<ellipse cx="420.0" cy="801.2" rx="14.0" ry="4.2" fill="#ffffff" stroke="#f08c2c" stroke-width="0.90"/><text transform="translate(420.00,803.55) scale(1,1.13)" font-size="5.80" text-anchor="middle" fill="#111" stroke="none">KLF9</text>
<ellipse cx="350.8" cy="812.3" rx="14.0" ry="4.2" fill="#ffffff" stroke="#f08c2c" stroke-width="0.90"/><text transform="translate(350.80,814.65) scale(1,1.13)" font-size="5.80" text-anchor="middle" fill="#111" stroke="none">KLF6</text>
<ellipse cx="432.3" cy="814.9" rx="14.8" ry="4.2" fill="#e7f3da" stroke="#f08c2c" stroke-width="0.90"/><text transform="translate(432.30,817.13) scale(1,1.13)" font-size="5.50" text-anchor="middle" fill="#111" stroke="none">KLF3</text>
<ellipse cx="434.0" cy="830.1" rx="14.0" ry="4.2" fill="#ffffff" stroke="#f08c2c" stroke-width="0.90"/><text transform="translate(434.00,832.17) scale(1,1.13)" font-size="5.10" text-anchor="middle" fill="#111" stroke="none">SP5</text>
<ellipse cx="387.0" cy="834.6" rx="14.7" ry="4.2" fill="#ffffff" stroke="#f08c2c" stroke-width="0.90"/><text transform="translate(387.00,836.91) scale(1,1.13)" font-size="5.70" text-anchor="middle" fill="#111" stroke="none">KLF5</text>
<ellipse cx="396.3" cy="847.0" rx="14.8" ry="4.3" fill="#ffffff" stroke="#f08c2c" stroke-width="0.90"/><text transform="translate(396.30,849.35) scale(1,1.13)" font-size="5.80" text-anchor="middle" fill="#111" stroke="none">KLF1</text>
<defs><linearGradient id="g215" x1="0" y1="0" x2="1" y2="0"><stop offset="0" stop-color="#1577de"/><stop offset="0.129" stop-color="#5aa0e8"/><stop offset="0.235" stop-color="#ffffff"/><stop offset="1" stop-color="#ef780e"/></linearGradient></defs>
<text x="238.3" y="767.4" font-size="6.9" text-anchor="middle" fill="#222">Edge color</text>
<rect x="215.4" y="769.0" width="45.6" height="0.7" fill="#333"/>
<text x="238.3" y="778.9" font-size="6.9" text-anchor="middle" fill="#222">Partial correlation</text>
<rect x="215.4" y="780.6" width="45.6" height="5.7" fill="url(#g215)"/>
<text x="203.6" y="794.2" font-size="6.6" fill="#222">-0.102</text>
<text x="225.4" y="794.2" font-size="6.6" fill="#222">0</text>
<text x="254.1" y="794.2" font-size="6.6" fill="#222">0.299</text>
<polygon points="217.2,818.7 282.3,808.2 282.3,825.2 217.2,825.2" fill="#c3cdd6"/>
<rect x="217.2" y="807.4" width="65.1" height="17.8" fill="none" stroke="#555" stroke-width="0.7"/>
<circle cx="217.2" cy="818.7" r="0.8" fill="#2a6fb0"/><circle cx="217.2" cy="821.2" r="0.8" fill="#2a6fb0"/><circle cx="282.3" cy="808.2" r="0.8" fill="#2a6fb0"/><circle cx="282.3" cy="822.2" r="0.8" fill="#2a6fb0"/>
<path d="M213.2 832.2 L213.2 808.2 M213.2 807.7 l-1.2 2.5 l2.4 0 z" stroke="#333" stroke-width="0.6" fill="#333"/>
<path d="M217.2 835.0 L281.3 835.0" stroke="#333" stroke-width="0.6"/>
<path d="M282.8 835.0 l-2.5 -1.2 l0 2.4 z" fill="#333"/>
<text transform="translate(210.4,820.7) rotate(-90)" font-size="6.6" text-anchor="middle" fill="#222">Edge width</text>
<text x="219.7" y="832.8" font-size="6.9" fill="#222">&#x2F;Min = 0.0992</text>
<text x="235.1" y="842.2" font-size="6.9" fill="#222">Max = 0.2990&#x2F;</text>
<text x="243.4" y="850.5" font-size="6.9" text-anchor="middle" fill="#222">Absolute partial correlation</text>
<defs><linearGradient id="g580" x1="0" y1="0" x2="1" y2="0"><stop offset="0" stop-color="#1577de"/><stop offset="0.242" stop-color="#5aa0e8"/><stop offset="0.440" stop-color="#ffffff"/><stop offset="1" stop-color="#ef780e"/></linearGradient></defs>
<text x="602.6" y="767.4" font-size="6.9" text-anchor="middle" fill="#222">Edge color</text>
<rect x="580.2" y="769.0" width="45.1" height="0.7" fill="#333"/>
<text x="602.6" y="778.9" font-size="6.9" text-anchor="middle" fill="#222">Partial correlation</text>
<rect x="580.2" y="780.6" width="45.1" height="5.7" fill="url(#g580)"/>
<text x="565.4" y="794.2" font-size="6.6" fill="#222">-0.0939</text>
<text x="600.8" y="794.2" font-size="6.6" fill="#222">0</text>
<text x="616.1" y="794.2" font-size="6.6" fill="#222">0.1179</text>
<polygon points="578.7,818.7 644.1,807.8 644.1,825.2 578.7,825.2" fill="#c3cdd6"/>
<rect x="578.7" y="807.0" width="65.4" height="18.2" fill="none" stroke="#555" stroke-width="0.7"/>
<circle cx="578.7" cy="818.7" r="0.8" fill="#2a6fb0"/><circle cx="578.7" cy="821.2" r="0.8" fill="#2a6fb0"/><circle cx="644.1" cy="807.8" r="0.8" fill="#2a6fb0"/><circle cx="644.1" cy="822.2" r="0.8" fill="#2a6fb0"/>
<path d="M574.7 832.2 L574.7 807.8 M574.7 807.3 l-1.2 2.5 l2.4 0 z" stroke="#333" stroke-width="0.6" fill="#333"/>
<path d="M578.7 835.0 L643.1 835.0" stroke="#333" stroke-width="0.6"/>
<path d="M644.6 835.0 l-2.5 -1.2 l0 2.4 z" fill="#333"/>
<text transform="translate(571.9,820.5) rotate(-90)" font-size="6.6" text-anchor="middle" fill="#222">Edge width</text>
<text x="581.2" y="832.8" font-size="6.9" fill="#222">&#x2F;Min = 0.0218</text>
<text x="595.7" y="842.2" font-size="6.9" fill="#222">Max = 0.1179&#x2F;</text>
<text x="605.1" y="850.5" font-size="6.9" text-anchor="middle" fill="#222">Absolute partial correlation</text>
<text x="559.7" y="584.5" font-size="8.3" fill="#222">Normal differentiation</text>
<ellipse cx="571.2" cy="594.4" rx="6.4" ry="3.1" fill="#d4eac4"/>
<text x="581.8" y="597.0" font-size="6.9"><tspan fill="#ef8a2e">Open</tspan><tspan fill="#222"> (NC </tspan><tspan fill="#5b6fd3">Stem</tspan><tspan fill="#222"> </tspan><tspan font-size="8.5">→</tspan><tspan fill="#222"> NC </tspan><tspan fill="#80b85c">Pro</tspan><tspan fill="#222">)</tspan></text>
<ellipse cx="571.2" cy="605.7" rx="6.4" ry="3.1" fill="#c9d5f0"/>
<text x="581.8" y="608.3" font-size="6.9"><tspan fill="#3f82d6">Close</tspan><tspan fill="#222"> (NC </tspan><tspan fill="#5b6fd3">Stem</tspan><tspan fill="#222"> </tspan><tspan font-size="8.5">→</tspan><tspan fill="#222"> NC </tspan><tspan fill="#80b85c">Pro</tspan><tspan fill="#222">)</tspan></text>
<text x="559.7" y="630.1" font-size="8.3" fill="#222">Disease-related variation</text>
<ellipse cx="571.1" cy="638.9" rx="6.2" ry="3.3" fill="#fff" stroke="#e8780f" stroke-width="1.5"/>
<text x="581.8" y="641.5" font-size="7.0"><tspan fill="#ef8a2e">Open</tspan><tspan fill="#222"> (NC </tspan><tspan font-size="8.5">→</tspan><tspan fill="#222"> </tspan><tspan fill="#c8544a">Disease</tspan><tspan fill="#222">)</tspan></text>
<ellipse cx="571.1" cy="650.3" rx="6.2" ry="3.3" fill="#fff" stroke="#2f7ad6" stroke-width="1.5"/>
<text x="581.8" y="653.0" font-size="7.0"><tspan fill="#3f82d6">Close</tspan><tspan fill="#222"> (NC </tspan><tspan font-size="8.5">→</tspan><tspan fill="#222"> </tspan><tspan fill="#c8544a">Disease</tspan><tspan fill="#222">)</tspan></text>
<text x="559.7" y="676.5" font-size="8.3" fill="#222">Motif correlation</text>
<rect x="564.8" y="684.2" width="12.9" height="0.9" fill="#f5a055"/>
<text x="581.8" y="687.2" font-size="7.0" fill="#ef8a2e">Positive correlation</text>
<rect x="564.8" y="693.4" width="12.9" height="0.9" fill="#3f86d8"/>
<text x="581.8" y="696.4" font-size="7.0" fill="#3f82d6">Negative correlation</text>
<text x="559.7" y="718.5" font-size="8.2" fill="#222">Absolute motif</text>
<text x="559.7" y="728.3" font-size="8.2" fill="#222">enrichment in disease</text>
<ellipse cx="574.3" cy="741.3" rx="9.7" ry="3.7" fill="none" stroke="#444" stroke-width="0.8"/>
<path d="M587.9 741.2 L599 741.2" stroke="#111" stroke-width="0.8"/><path d="M603.4 741.2 L598.4 738.6 L598.4 743.8 z" fill="#111"/>
<ellipse cx="626.2" cy="741.3" rx="19.1" ry="7.7" fill="none" stroke="#444" stroke-width="0.8"/>
</svg>
</body></html>
